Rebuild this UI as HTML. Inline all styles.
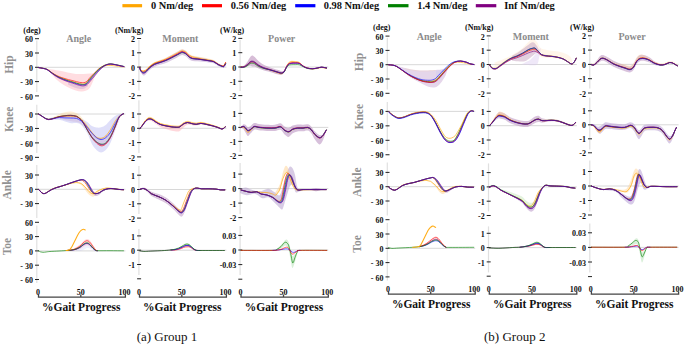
<!DOCTYPE html>
<html><head><meta charset="utf-8"><style>
html,body{margin:0;padding:0;background:#fff;width:685px;height:346px;overflow:hidden}
svg{display:block;font-family:"Liberation Serif", serif}
.leg{font-size:10.4px;font-weight:bold;fill:#111}
.title{font-size:10px;font-weight:bold;fill:#8c8c8c}
.unit{font-size:8px;font-weight:bold;fill:#111}
.tl{font-size:8px;font-weight:bold;fill:#111}
.xl{font-size:11.5px;font-weight:bold;fill:#111}
.cap{font-size:13px;fill:#111}
.row{font-size:11.5px;font-weight:bold;fill:#929292}
.axis{stroke:#e0e0e0;stroke-width:1.2}
.zero{stroke:#d4d4d4;stroke-width:0.9}
.tick{stroke:#222;stroke-width:1}
.xaxis{stroke:#444;stroke-width:1.3;fill:none}
.ln{fill:none;stroke-width:1.1;stroke-linejoin:round;stroke-linecap:round}
</style></head><body>
<svg width="685" height="346" viewBox="0 0 685 346">
<line x1="122.4" y1="5.7" x2="142.1" y2="5.7" stroke="#FFA500" stroke-width="3.2"/>
<text x="150.9" y="9.2" class="leg">0 Nm/deg</text>
<line x1="202" y1="5.7" x2="222" y2="5.7" stroke="#FF0000" stroke-width="3.2"/>
<text x="230.8" y="9.2" class="leg">0.56 Nm/deg</text>
<line x1="295.2" y1="5.7" x2="315.4" y2="5.7" stroke="#0000FF" stroke-width="3.2"/>
<text x="323.7" y="9.2" class="leg">0.98 Nm/deg</text>
<line x1="388" y1="5.7" x2="408.5" y2="5.7" stroke="#008000" stroke-width="3.2"/>
<text x="417.2" y="9.2" class="leg">1.4 Nm/deg</text>
<line x1="475.8" y1="5.7" x2="496.3" y2="5.7" stroke="#800080" stroke-width="3.2"/>
<text x="504.3" y="9.2" class="leg">Inf Nm/deg</text>
<text x="78.8" y="41.6" class="title" text-anchor="middle">Angle</text>
<text x="32" y="32.6" class="unit" text-anchor="middle">(deg)</text>
<line x1="36.8" y1="40.4" x2="36.8" y2="92" class="axis"/>
<line x1="38.5" y1="67.3" x2="125.4" y2="67.3" class="zero"/>
<line x1="35.0" y1="38.70" x2="39.0" y2="38.70" class="tick"/>
<text x="33.0" y="42.30" class="tl" text-anchor="end">60</text>
<line x1="35.0" y1="53.00" x2="39.0" y2="53.00" class="tick"/>
<text x="33.0" y="56.60" class="tl" text-anchor="end">30</text>
<line x1="35.0" y1="67.30" x2="39.0" y2="67.30" class="tick"/>
<text x="33.0" y="70.90" class="tl" text-anchor="end">0</text>
<line x1="35.0" y1="81.60" x2="39.0" y2="81.60" class="tick"/>
<text x="33.0" y="85.20" class="tl" text-anchor="end">- 30</text>
<line x1="35.0" y1="95.90" x2="39.0" y2="95.90" class="tick"/>
<text x="33.0" y="99.50" class="tl" text-anchor="end">- 60</text>
<path d="M46.40,68.80 C48.67,69.13 55.10,69.95 60.00,70.80 C64.90,71.65 70.30,73.45 75.80,73.90 C81.30,74.35 89.72,73.45 93.00,73.50 C96.28,73.55 95.08,74.08 95.50,74.20 L95.50,75.00 C94.65,76.98 92.03,84.27 90.40,86.90 C88.77,89.53 87.27,90.03 85.70,90.80 C84.13,91.57 82.65,91.53 81.00,91.50 C79.35,91.47 77.63,91.13 75.80,90.60 C73.97,90.07 72.00,89.23 70.00,88.30 C68.00,87.37 65.97,86.38 63.80,85.00 C61.63,83.62 59.17,82.00 57.00,80.00 C54.83,78.00 51.83,74.17 50.80,73.00 Z" fill="#FF9EA8" fill-opacity="0.35" stroke="none"/><path d="M68.00,82.50 C69.33,82.88 73.50,84.22 76.00,84.80 C78.50,85.38 81.00,86.05 83.00,86.00 C85.00,85.95 87.17,84.75 88.00,84.50 L88.00,86.00 C87.17,86.50 85.00,88.67 83.00,89.00 C81.00,89.33 78.50,88.75 76.00,88.00 C73.50,87.25 69.33,85.08 68.00,84.50 Z" fill="#B895C8" fill-opacity="0.34" stroke="none"/><path d="M38.60,67.60 C39.40,67.73 41.98,68.08 43.40,68.40 C44.82,68.71 45.87,68.86 47.10,69.49 C48.33,70.11 49.57,71.28 50.80,72.14 C52.03,73.01 53.12,73.84 54.50,74.68 C55.88,75.51 57.55,76.44 59.10,77.15 C60.65,77.86 62.25,78.36 63.80,78.91 C65.35,79.47 66.87,80.01 68.40,80.49 C69.93,80.97 71.65,81.38 73.00,81.77 C74.35,82.17 75.42,82.56 76.50,82.89 C77.58,83.21 78.50,83.50 79.50,83.71 C80.50,83.92 81.58,84.11 82.50,84.14 C83.42,84.16 84.21,84.11 85.00,83.85 C85.79,83.59 86.45,83.30 87.24,82.58 C88.02,81.85 88.52,80.91 89.70,79.52 C90.88,78.13 92.77,75.91 94.30,74.25 C95.83,72.59 97.27,70.90 98.90,69.54 C100.53,68.18 102.43,66.78 104.10,66.09 C105.77,65.40 107.42,65.50 108.90,65.42 C110.38,65.34 111.40,65.47 113.00,65.62 C114.60,65.78 116.68,66.13 118.50,66.34 C120.32,66.55 123.00,66.81 123.90,66.90" fill="none" stroke="#FFA500" stroke-width="0.7" stroke-opacity="0.9" stroke-linejoin="round" stroke-linecap="round"/><path d="M38.60,67.60 C39.40,67.72 41.98,68.04 43.40,68.33 C44.82,68.62 45.87,68.75 47.10,69.34 C48.33,69.94 49.57,71.09 50.80,71.91 C52.03,72.74 53.12,73.53 54.50,74.32 C55.88,75.10 57.55,75.97 59.10,76.62 C60.65,77.28 62.25,77.72 63.80,78.22 C65.35,78.72 66.87,79.19 68.40,79.61 C69.93,80.02 71.65,80.36 73.00,80.70 C74.35,81.04 75.42,81.39 76.50,81.67 C77.58,81.95 78.50,82.21 79.50,82.38 C80.50,82.55 81.58,82.69 82.50,82.69 C83.42,82.69 84.23,82.63 85.00,82.38 C85.77,82.13 86.39,81.88 87.12,81.19 C87.86,80.51 88.25,79.54 89.40,78.27 C90.55,76.99 92.47,75.08 94.00,73.53 C95.53,71.99 96.93,70.32 98.60,68.98 C100.27,67.65 102.30,66.34 104.02,65.53 C105.73,64.71 107.40,64.31 108.90,64.11 C110.40,63.90 111.40,64.08 113.00,64.30 C114.60,64.52 116.68,65.02 118.50,65.40 C120.32,65.78 123.00,66.40 123.90,66.60" fill="none" stroke="#FF0000" stroke-width="0.7" stroke-opacity="0.9" stroke-linejoin="round" stroke-linecap="round"/><path d="M38.60,67.60 C39.40,67.73 41.98,68.06 43.40,68.36 C44.82,68.66 45.87,68.79 47.10,69.40 C48.33,70.02 49.57,71.17 50.80,72.05 C52.03,72.93 53.12,73.82 54.50,74.70 C55.88,75.57 57.55,76.55 59.10,77.30 C60.65,78.06 62.25,78.63 63.80,79.21 C65.35,79.79 66.87,80.31 68.40,80.79 C69.93,81.27 71.65,81.68 73.00,82.08 C74.35,82.47 75.42,82.86 76.50,83.19 C77.58,83.51 78.50,83.80 79.50,84.01 C80.50,84.22 81.58,84.42 82.50,84.44 C83.42,84.46 84.24,84.41 85.00,84.14 C85.76,83.88 86.35,83.58 87.05,82.85 C87.75,82.12 88.08,81.16 89.20,79.77 C90.33,78.37 92.27,76.17 93.80,74.46 C95.33,72.74 96.71,70.94 98.40,69.47 C100.09,68.00 102.21,66.53 103.96,65.61 C105.71,64.69 107.39,64.22 108.90,63.96 C110.41,63.71 111.40,63.89 113.00,64.10 C114.60,64.31 116.68,64.82 118.50,65.20 C120.32,65.58 123.00,66.20 123.90,66.40" fill="none" stroke="#008000" stroke-width="0.7" stroke-opacity="0.9" stroke-linejoin="round" stroke-linecap="round"/><path d="M38.60,67.60 C39.40,67.74 41.98,68.10 43.40,68.43 C44.82,68.75 45.87,68.91 47.10,69.55 C48.33,70.19 49.57,71.37 50.80,72.28 C52.03,73.18 53.12,74.09 54.50,75.00 C55.88,75.90 57.55,76.92 59.10,77.70 C60.65,78.49 62.25,79.10 63.80,79.70 C65.35,80.31 66.87,80.84 68.40,81.33 C69.93,81.83 71.65,82.25 73.00,82.66 C74.35,83.08 75.42,83.48 76.50,83.81 C77.58,84.15 78.50,84.45 79.50,84.67 C80.50,84.89 81.58,85.10 82.50,85.12 C83.42,85.15 84.20,85.10 85.00,84.82 C85.80,84.55 86.48,84.23 87.28,83.49 C88.08,82.74 88.61,81.78 89.80,80.36 C90.99,78.94 92.87,76.71 94.40,74.97 C95.93,73.24 97.38,71.42 99.00,69.92 C100.62,68.43 102.48,66.95 104.13,66.00 C105.78,65.05 107.42,64.48 108.90,64.20 C110.38,63.92 111.40,64.10 113.00,64.30 C114.60,64.50 116.68,65.02 118.50,65.40 C120.32,65.78 123.00,66.40 123.90,66.60" fill="none" stroke="#0000FF" stroke-width="0.7" stroke-opacity="0.9" stroke-linejoin="round" stroke-linecap="round"/><path d="M38.60,67.60 C39.40,67.75 41.98,68.15 43.40,68.50 C44.82,68.85 45.87,69.03 47.10,69.70 C48.33,70.37 49.57,71.57 50.80,72.50 C52.03,73.43 53.12,74.37 54.50,75.30 C55.88,76.23 57.55,77.28 59.10,78.10 C60.65,78.92 62.25,79.57 63.80,80.20 C65.35,80.83 66.87,81.38 68.40,81.90 C69.93,82.42 71.65,82.87 73.00,83.30 C74.35,83.73 75.42,84.15 76.50,84.50 C77.58,84.85 78.50,85.17 79.50,85.40 C80.50,85.63 81.58,85.87 82.50,85.90 C83.42,85.93 84.17,85.88 85.00,85.60 C85.83,85.32 86.60,84.97 87.50,84.20 C88.40,83.43 89.15,82.45 90.40,81.00 C91.65,79.55 93.47,77.30 95.00,75.50 C96.53,73.70 98.05,71.78 99.60,70.20 C101.15,68.62 102.75,67.00 104.30,66.00 C105.85,65.00 107.45,64.48 108.90,64.20 C110.35,63.92 111.40,64.10 113.00,64.30 C114.60,64.50 116.68,65.02 118.50,65.40 C120.32,65.78 123.00,66.40 123.90,66.60" fill="none" stroke="#800080" stroke-width="0.7" stroke-opacity="0.9" stroke-linejoin="round" stroke-linecap="round"/>
<line x1="36.8" y1="104.7" x2="36.8" y2="153" class="axis"/>
<line x1="38.5" y1="114.0" x2="125.4" y2="114.0" class="zero"/>
<line x1="35.0" y1="114.00" x2="39.0" y2="114.00" class="tick"/>
<text x="33.0" y="117.60" class="tl" text-anchor="end">0</text>
<line x1="35.0" y1="128.45" x2="39.0" y2="128.45" class="tick"/>
<text x="33.0" y="132.05" class="tl" text-anchor="end">- 30</text>
<line x1="35.0" y1="142.90" x2="39.0" y2="142.90" class="tick"/>
<text x="33.0" y="146.50" class="tl" text-anchor="end">- 60</text>
<line x1="35.0" y1="157.35" x2="39.0" y2="157.35" class="tick"/>
<text x="33.0" y="160.95" class="tl" text-anchor="end">- 90</text>
<path d="M50.00,118.00 C51.67,117.67 56.67,116.42 60.00,116.00 C63.33,115.58 66.67,115.17 70.00,115.50 C73.33,115.83 77.13,116.92 80.00,118.00 C82.87,119.08 85.22,120.67 87.20,122.00 C89.18,123.33 90.35,125.08 91.90,126.00 C93.45,126.92 94.97,127.28 96.50,127.50 C98.03,127.72 99.57,127.72 101.10,127.30 C102.63,126.88 104.15,126.22 105.70,125.00 C107.25,123.78 108.85,121.50 110.40,120.00 C111.95,118.50 113.40,117.00 115.00,116.00 C116.60,115.00 119.17,114.33 120.00,114.00 L120.00,118.00 C119.17,120.17 116.60,126.83 115.00,131.00 C113.40,135.17 111.95,139.83 110.40,143.00 C108.85,146.17 107.25,148.42 105.70,150.00 C104.15,151.58 102.63,152.50 101.10,152.50 C99.57,152.50 98.03,151.42 96.50,150.00 C94.97,148.58 93.45,146.83 91.90,144.00 C90.35,141.17 89.18,136.33 87.20,133.00 C85.22,129.67 82.87,125.67 80.00,124.00 C77.13,122.33 73.33,123.67 70.00,123.00 C66.67,122.33 63.33,120.50 60.00,120.00 C56.67,119.50 51.67,120.00 50.00,120.00 Z" fill="#B4B4F0" fill-opacity="0.43" stroke="none"/><path d="M60.00,116.50 C61.67,116.42 66.67,115.68 70.00,116.00 C73.33,116.32 77.13,116.73 80.00,118.40 C82.87,120.07 85.22,123.65 87.20,126.00 C89.18,128.35 90.35,130.67 91.90,132.50 C93.45,134.33 94.97,136.08 96.50,137.00 C98.03,137.92 99.57,138.17 101.10,138.00 C102.63,137.83 104.15,137.33 105.70,136.00 C107.25,134.67 108.85,132.33 110.40,130.00 C111.95,127.67 114.23,123.33 115.00,122.00 L115.00,127.00 C114.23,128.78 111.95,134.87 110.40,137.70 C108.85,140.53 107.25,142.65 105.70,144.00 C104.15,145.35 102.63,145.97 101.10,145.80 C99.57,145.63 98.03,144.35 96.50,143.00 C94.97,141.65 93.45,139.87 91.90,137.70 C90.35,135.53 89.18,132.45 87.20,130.00 C85.22,127.55 82.87,124.50 80.00,123.00 C77.13,121.50 73.33,121.67 70.00,121.00 C66.67,120.33 61.67,119.33 60.00,119.00 Z" fill="#C8A0C8" fill-opacity="0.30" stroke="none"/><path d="M38.60,113.50 C39.13,113.83 40.68,114.78 41.80,115.50 C42.92,116.22 44.15,117.23 45.30,117.80 C46.45,118.37 47.35,119.01 48.70,118.90 C50.05,118.79 51.67,117.91 53.40,117.14 C55.13,116.36 57.18,115.05 59.10,114.25 C61.02,113.45 62.97,112.82 64.90,112.35 C66.83,111.88 68.77,111.31 70.70,111.44 C72.63,111.57 74.95,112.42 76.50,113.10 C78.05,113.78 78.83,114.40 80.00,115.50 C81.17,116.60 82.30,118.18 83.50,119.70 C84.70,121.22 85.80,122.66 87.20,124.64 C88.60,126.62 90.35,129.60 91.90,131.56 C93.45,133.53 94.97,135.40 96.50,136.42 C98.03,137.43 99.57,137.82 101.10,137.67 C102.63,137.52 104.15,136.91 105.70,135.52 C107.25,134.14 108.85,131.75 110.40,129.38 C111.95,127.01 113.73,123.32 115.00,121.33 C116.27,119.34 117.08,118.49 118.00,117.43 C118.92,116.38 119.58,115.61 120.50,115.00 C121.42,114.39 123.00,114.00 123.50,113.80 L123.50,113.80 C123.00,114.00 121.42,114.38 120.50,115.00 C119.58,115.62 118.92,116.42 118.00,117.50 C117.08,118.58 116.27,119.47 115.00,121.50 C113.73,123.53 111.95,127.28 110.40,129.70 C108.85,132.12 107.25,134.57 105.70,136.00 C104.15,137.43 102.63,138.10 101.10,138.30 C99.57,138.50 98.03,138.17 96.50,137.20 C94.97,136.23 93.45,134.33 91.90,132.50 C90.35,130.67 88.60,127.95 87.20,126.20 C85.80,124.45 84.70,123.28 83.50,122.00 C82.30,120.72 81.17,119.37 80.00,118.50 C78.83,117.63 78.05,117.17 76.50,116.80 C74.95,116.43 72.63,116.40 70.70,116.30 C68.77,116.20 66.83,116.12 64.90,116.20 C62.97,116.28 61.02,116.43 59.10,116.80 C57.18,117.17 55.13,117.97 53.40,118.40 C51.67,118.83 50.05,119.42 48.70,119.40 C47.35,119.38 46.45,118.87 45.30,118.30 C44.15,117.73 42.92,116.72 41.80,116.00 C40.68,115.28 39.13,114.33 38.60,114.00 Z" fill="#FFCF8A" fill-opacity="0.34" stroke="none"/><path d="M38.60,114.00 C39.13,114.33 40.68,115.28 41.80,116.00 C42.92,116.72 44.15,117.73 45.30,118.30 C46.45,118.87 47.35,119.38 48.70,119.40 C50.05,119.42 51.67,118.83 53.40,118.40 C55.13,117.97 57.18,117.17 59.10,116.80 C61.02,116.43 62.97,116.28 64.90,116.20 C66.83,116.12 68.77,116.20 70.70,116.30 C72.63,116.40 74.95,116.43 76.50,116.80 C78.05,117.17 78.83,117.63 80.00,118.50 C81.17,119.37 82.30,120.72 83.50,122.00 C84.70,123.28 85.80,124.45 87.20,126.20 C88.60,127.95 90.35,130.67 91.90,132.50 C93.45,134.33 94.97,136.23 96.50,137.20 C98.03,138.17 99.57,138.50 101.10,138.30 C102.63,138.10 104.15,137.43 105.70,136.00 C107.25,134.57 108.85,132.12 110.40,129.70 C111.95,127.28 113.73,123.53 115.00,121.50 C116.27,119.47 117.08,118.58 118.00,117.50 C118.92,116.42 119.58,115.62 120.50,115.00 C121.42,114.38 123.00,114.00 123.50,113.80" fill="none" stroke="#FFA500" stroke-width="0.7" stroke-opacity="0.9" stroke-linejoin="round" stroke-linecap="round"/><path d="M38.60,114.00 C39.13,114.33 40.68,115.28 41.80,116.00 C42.92,116.72 44.15,117.73 45.30,118.30 C46.45,118.87 47.35,119.38 48.70,119.40 C50.05,119.42 51.67,118.87 53.40,118.40 C55.13,117.93 57.18,117.05 59.10,116.60 C61.02,116.15 62.97,115.92 64.90,115.70 C66.83,115.48 68.77,115.22 70.70,115.30 C72.63,115.38 74.95,115.62 76.50,116.20 C78.05,116.78 78.98,117.90 80.00,118.80 C81.02,119.70 81.40,119.78 82.60,121.60 C83.80,123.42 85.65,127.02 87.20,129.70 C88.75,132.38 90.35,135.48 91.90,137.70 C93.45,139.92 94.97,141.65 96.50,143.00 C98.03,144.35 99.57,145.62 101.10,145.80 C102.63,145.98 104.15,145.45 105.70,144.10 C107.25,142.75 108.85,140.50 110.40,137.70 C111.95,134.90 113.73,130.33 115.00,127.30 C116.27,124.27 117.08,121.45 118.00,119.50 C118.92,117.55 119.58,116.55 120.50,115.60 C121.42,114.65 123.00,114.10 123.50,113.80" fill="none" stroke="#FF0000" stroke-width="0.7" stroke-opacity="0.9" stroke-linejoin="round" stroke-linecap="round"/><path d="M38.60,114.00 C39.13,114.33 40.68,115.28 41.80,116.00 C42.92,116.72 44.15,117.73 45.30,118.30 C46.45,118.87 47.35,119.38 48.70,119.40 C50.05,119.42 51.67,118.87 53.40,118.40 C55.13,117.93 57.18,117.05 59.10,116.60 C61.02,116.15 62.97,115.92 64.90,115.70 C66.83,115.48 68.77,115.22 70.70,115.30 C72.63,115.38 74.97,115.64 76.50,116.20 C78.03,116.76 78.92,117.81 79.90,118.65 C80.88,119.50 81.23,119.53 82.37,121.26 C83.51,122.99 85.23,126.45 86.74,129.02 C88.25,131.59 89.82,134.57 91.40,136.67 C92.99,138.77 94.64,140.39 96.25,141.63 C97.87,142.87 99.56,143.88 101.10,144.11 C102.63,144.35 104.00,144.18 105.49,143.03 C106.98,141.88 108.46,139.88 110.02,137.22 C111.57,134.56 113.48,130.02 114.80,127.05 C116.12,124.08 116.97,121.31 117.92,119.40 C118.87,117.49 119.57,116.53 120.50,115.60 C121.43,114.67 123.00,114.10 123.50,113.80" fill="none" stroke="#008000" stroke-width="0.7" stroke-opacity="0.9" stroke-linejoin="round" stroke-linecap="round"/><path d="M38.60,114.00 C39.13,114.33 40.68,115.28 41.80,116.00 C42.92,116.72 44.15,117.73 45.30,118.30 C46.45,118.87 47.35,119.35 48.70,119.40 C50.05,119.45 51.67,118.90 53.40,118.60 C55.13,118.30 57.18,117.72 59.10,117.60 C61.02,117.48 62.97,117.83 64.90,117.90 C66.83,117.97 68.77,117.92 70.70,118.00 C72.63,118.08 74.95,118.03 76.50,118.40 C78.05,118.77 78.83,119.43 80.00,120.20 C81.17,120.97 82.30,121.82 83.50,123.00 C84.70,124.18 85.80,125.62 87.20,127.30 C88.60,128.98 90.35,131.37 91.90,133.10 C93.45,134.83 94.97,136.63 96.50,137.70 C98.03,138.77 99.57,139.50 101.10,139.50 C102.63,139.50 104.15,138.87 105.70,137.70 C107.25,136.53 108.85,134.80 110.40,132.50 C111.95,130.20 113.73,126.23 115.00,123.90 C116.27,121.57 117.08,119.95 118.00,118.50 C118.92,117.05 119.58,115.98 120.50,115.20 C121.42,114.42 123.00,114.03 123.50,113.80" fill="none" stroke="#0000FF" stroke-width="0.7" stroke-opacity="0.9" stroke-linejoin="round" stroke-linecap="round"/><path d="M38.60,114.30 C39.13,114.63 40.68,115.58 41.80,116.30 C42.92,117.02 44.15,118.03 45.30,118.60 C46.45,119.17 47.35,119.68 48.70,119.70 C50.05,119.72 51.67,119.17 53.40,118.70 C55.13,118.23 57.18,117.35 59.10,116.90 C61.02,116.45 62.97,116.22 64.90,116.00 C66.83,115.78 68.77,115.52 70.70,115.60 C72.63,115.68 74.95,115.94 76.50,116.50 C78.05,117.06 78.98,118.12 80.00,118.98 C81.02,119.83 81.40,119.88 82.60,121.62 C83.80,123.36 85.65,126.85 87.20,129.44 C88.75,132.03 90.35,135.03 91.90,137.15 C93.45,139.28 94.97,140.91 96.50,142.17 C98.03,143.43 99.57,144.50 101.10,144.71 C102.63,144.92 104.15,144.63 105.70,143.42 C107.25,142.20 108.85,140.12 110.40,137.41 C111.95,134.70 113.73,130.15 115.00,127.15 C116.27,124.15 117.08,121.36 118.00,119.44 C118.92,117.52 119.58,116.54 120.50,115.60 C121.42,114.66 123.00,114.10 123.50,113.80" fill="none" stroke="#800080" stroke-width="0.7" stroke-opacity="0.9" stroke-linejoin="round" stroke-linecap="round"/>
<line x1="36.8" y1="165" x2="36.8" y2="218" class="axis"/>
<line x1="38.5" y1="189.3" x2="125.4" y2="189.3" class="zero"/>
<line x1="35.0" y1="175.00" x2="39.0" y2="175.00" class="tick"/>
<text x="33.0" y="178.60" class="tl" text-anchor="end">30</text>
<line x1="35.0" y1="189.30" x2="39.0" y2="189.30" class="tick"/>
<text x="33.0" y="192.90" class="tl" text-anchor="end">0</text>
<line x1="35.0" y1="203.60" x2="39.0" y2="203.60" class="tick"/>
<text x="33.0" y="207.20" class="tl" text-anchor="end">- 30</text>
<path d="M38.50,189.40 C38.75,189.65 39.45,190.33 40.00,190.90 C40.55,191.47 41.20,192.35 41.80,192.80 C42.40,193.25 43.00,193.52 43.60,193.60 C44.20,193.68 44.75,193.55 45.40,193.30 C46.05,193.05 46.53,192.68 47.50,192.10 C48.47,191.52 49.75,190.53 51.20,189.80 C52.65,189.07 54.52,188.30 56.20,187.70 C57.88,187.10 59.60,186.73 61.30,186.20 C63.00,185.67 64.72,185.08 66.40,184.50 C68.08,183.92 69.72,183.28 71.40,182.70 C73.08,182.12 74.90,181.48 76.50,181.00 C78.10,180.52 79.73,179.98 81.00,179.80 C82.27,179.62 83.08,179.48 84.10,179.90 C85.12,180.32 86.10,181.09 87.10,182.31 C88.10,183.53 89.08,185.49 90.10,187.21 C91.12,188.93 92.27,191.40 93.20,192.62 C94.13,193.84 94.68,194.51 95.70,194.56 C96.72,194.61 98.03,193.67 99.30,192.94 C100.57,192.21 101.78,190.91 103.30,190.20 C104.82,189.49 106.72,188.95 108.40,188.70 C110.08,188.45 111.72,188.58 113.40,188.70 C115.08,188.82 116.82,189.23 118.50,189.40 C120.18,189.57 122.67,189.65 123.50,189.70 L123.50,190.20 C122.67,190.15 120.18,190.07 118.50,189.90 C116.82,189.73 115.08,189.32 113.40,189.20 C111.72,189.08 110.08,188.88 108.40,189.20 C106.72,189.52 104.82,190.21 103.30,191.14 C101.78,192.06 100.57,193.94 99.30,194.77 C98.03,195.59 96.72,196.17 95.70,196.09 C94.68,196.01 94.13,195.56 93.20,194.29 C92.27,193.02 91.12,190.34 90.10,188.47 C89.08,186.61 88.10,184.47 87.10,183.12 C86.10,181.78 85.12,180.87 84.10,180.40 C83.08,179.93 82.27,180.12 81.00,180.30 C79.73,180.48 78.10,181.02 76.50,181.50 C74.90,181.98 73.08,182.62 71.40,183.20 C69.72,183.78 68.08,184.42 66.40,185.00 C64.72,185.58 63.00,186.17 61.30,186.70 C59.60,187.23 57.88,187.60 56.20,188.20 C54.52,188.80 52.65,189.57 51.20,190.30 C49.75,191.03 48.47,192.02 47.50,192.60 C46.53,193.18 46.05,193.55 45.40,193.80 C44.75,194.05 44.20,194.18 43.60,194.10 C43.00,194.02 42.40,193.75 41.80,193.30 C41.20,192.85 40.55,191.97 40.00,191.40 C39.45,190.83 38.75,190.15 38.50,189.90 Z" fill="#B895C8" fill-opacity="0.54" stroke="none"/><path d="M38.50,188.90 C38.75,189.15 39.45,189.83 40.00,190.40 C40.55,190.97 41.20,191.85 41.80,192.30 C42.40,192.75 43.00,193.03 43.60,193.10 C44.20,193.17 44.75,192.98 45.40,192.70 C46.05,192.42 46.53,192.02 47.50,191.40 C48.47,190.78 49.75,189.73 51.20,189.00 C52.65,188.27 54.52,187.55 56.20,187.00 C57.88,186.45 59.60,186.17 61.30,185.70 C63.00,185.23 64.72,184.70 66.40,184.20 C68.08,183.70 69.72,183.05 71.40,182.70 C73.08,182.35 74.98,182.09 76.50,182.10 C78.02,182.11 79.42,182.40 80.50,182.78 C81.58,183.15 82.07,183.58 83.00,184.35 C83.93,185.12 84.92,186.19 86.10,187.39 C87.28,188.60 88.83,190.71 90.10,191.60 C91.37,192.50 92.35,193.03 93.70,192.78 C95.05,192.54 96.60,190.87 98.20,190.11 C99.80,189.35 101.77,188.63 103.30,188.20 C104.83,187.76 105.78,187.52 107.40,187.50 C109.02,187.48 111.15,187.88 113.00,188.10 C114.85,188.32 116.75,188.62 118.50,188.80 C120.25,188.98 122.67,189.13 123.50,189.20 L123.50,190.70 C122.67,190.63 120.25,190.48 118.50,190.30 C116.75,190.12 114.85,189.82 113.00,189.60 C111.15,189.38 109.02,188.98 107.40,189.00 C105.78,189.02 104.83,189.16 103.30,189.70 C101.77,190.24 99.80,191.10 98.20,192.21 C96.60,193.33 95.05,195.84 93.70,196.40 C92.35,196.96 91.37,196.47 90.10,195.60 C88.83,194.73 87.28,192.62 86.10,191.20 C84.92,189.78 83.93,188.17 83.00,187.06 C82.07,185.96 81.58,185.24 80.50,184.58 C79.42,183.92 78.02,183.25 76.50,183.10 C74.98,182.95 73.08,183.35 71.40,183.70 C69.72,184.05 68.08,184.70 66.40,185.20 C64.72,185.70 63.00,186.23 61.30,186.70 C59.60,187.17 57.88,187.45 56.20,188.00 C54.52,188.55 52.65,189.27 51.20,190.00 C49.75,190.73 48.47,191.78 47.50,192.40 C46.53,193.02 46.05,193.42 45.40,193.70 C44.75,193.98 44.20,194.17 43.60,194.10 C43.00,194.03 42.40,193.75 41.80,193.30 C41.20,192.85 40.55,191.97 40.00,191.40 C39.45,190.83 38.75,190.15 38.50,189.90 Z" fill="#FFCF8A" fill-opacity="0.41" stroke="none"/><path d="M38.50,189.40 C38.75,189.65 39.45,190.33 40.00,190.90 C40.55,191.47 41.20,192.35 41.80,192.80 C42.40,193.25 43.00,193.53 43.60,193.60 C44.20,193.67 44.75,193.48 45.40,193.20 C46.05,192.92 46.53,192.52 47.50,191.90 C48.47,191.28 49.75,190.23 51.20,189.50 C52.65,188.77 54.52,188.05 56.20,187.50 C57.88,186.95 59.60,186.67 61.30,186.20 C63.00,185.73 64.72,185.20 66.40,184.70 C68.08,184.20 69.72,183.55 71.40,183.20 C73.08,182.85 74.98,182.58 76.50,182.60 C78.02,182.62 79.42,182.90 80.50,183.30 C81.58,183.70 82.07,184.18 83.00,185.00 C83.93,185.82 84.92,186.93 86.10,188.20 C87.28,189.47 88.83,191.70 90.10,192.60 C91.37,193.50 92.35,193.92 93.70,193.60 C95.05,193.28 96.60,191.52 98.20,190.70 C99.80,189.88 101.77,189.15 103.30,188.70 C104.83,188.25 105.78,188.02 107.40,188.00 C109.02,187.98 111.15,188.38 113.00,188.60 C114.85,188.82 116.75,189.12 118.50,189.30 C120.25,189.48 122.67,189.63 123.50,189.70" fill="none" stroke="#FFA500" stroke-width="0.7" stroke-opacity="0.9" stroke-linejoin="round" stroke-linecap="round"/><path d="M38.50,189.40 C38.75,189.65 39.45,190.33 40.00,190.90 C40.55,191.47 41.20,192.35 41.80,192.80 C42.40,193.25 43.00,193.52 43.60,193.60 C44.20,193.68 44.75,193.55 45.40,193.30 C46.05,193.05 46.53,192.68 47.50,192.10 C48.47,191.52 49.75,190.53 51.20,189.80 C52.65,189.07 54.52,188.30 56.20,187.70 C57.88,187.10 59.60,186.73 61.30,186.20 C63.00,185.67 64.72,185.08 66.40,184.50 C68.08,183.92 69.72,183.28 71.40,182.70 C73.08,182.12 74.96,181.46 76.50,181.00 C78.04,180.54 79.63,180.03 80.67,179.95 C81.71,179.87 81.99,180.05 82.73,180.50 C83.47,180.94 84.21,181.53 85.10,182.62 C85.99,183.71 87.02,185.50 88.10,187.05 C89.18,188.60 90.44,190.82 91.56,191.93 C92.68,193.04 93.54,193.55 94.81,193.70 C96.08,193.85 97.77,193.38 99.18,192.80 C100.60,192.22 101.76,190.88 103.30,190.20 C104.84,189.52 106.72,188.95 108.40,188.70 C110.08,188.45 111.72,188.58 113.40,188.70 C115.08,188.82 116.82,189.23 118.50,189.40 C120.18,189.57 122.67,189.65 123.50,189.70" fill="none" stroke="#FF0000" stroke-width="0.7" stroke-opacity="0.9" stroke-linejoin="round" stroke-linecap="round"/><path d="M38.50,189.40 C38.75,189.65 39.45,190.33 40.00,190.90 C40.55,191.47 41.20,192.35 41.80,192.80 C42.40,193.25 43.00,193.52 43.60,193.60 C44.20,193.68 44.75,193.55 45.40,193.30 C46.05,193.05 46.53,192.68 47.50,192.10 C48.47,191.52 49.75,190.53 51.20,189.80 C52.65,189.07 54.52,188.30 56.20,187.70 C57.88,187.10 59.60,186.73 61.30,186.20 C63.00,185.67 64.72,185.08 66.40,184.50 C68.08,183.92 69.72,183.28 71.40,182.70 C73.08,182.12 74.93,181.48 76.50,181.00 C78.07,180.52 79.68,179.98 80.83,179.80 C81.98,179.62 82.55,179.52 83.40,179.90 C84.24,180.28 84.98,180.97 85.90,182.10 C86.82,183.23 87.88,185.08 88.90,186.70 C89.92,188.32 91.01,190.63 92.05,191.80 C93.09,192.97 93.94,193.53 95.15,193.70 C96.36,193.87 97.94,193.38 99.30,192.80 C100.66,192.22 101.78,190.88 103.30,190.20 C104.82,189.52 106.72,188.95 108.40,188.70 C110.08,188.45 111.72,188.58 113.40,188.70 C115.08,188.82 116.82,189.23 118.50,189.40 C120.18,189.57 122.67,189.65 123.50,189.70" fill="none" stroke="#008000" stroke-width="0.7" stroke-opacity="0.9" stroke-linejoin="round" stroke-linecap="round"/><path d="M38.50,189.40 C38.75,189.65 39.45,190.33 40.00,190.90 C40.55,191.47 41.20,192.35 41.80,192.80 C42.40,193.25 43.00,193.52 43.60,193.60 C44.20,193.68 44.75,193.55 45.40,193.30 C46.05,193.05 46.53,192.68 47.50,192.10 C48.47,191.52 49.75,190.53 51.20,189.80 C52.65,189.07 54.52,188.30 56.20,187.70 C57.88,187.10 59.60,186.73 61.30,186.20 C63.00,185.67 64.72,185.08 66.40,184.50 C68.08,183.92 69.72,183.28 71.40,182.70 C73.08,182.12 74.91,181.48 76.50,181.00 C78.09,180.52 79.71,179.98 80.91,179.80 C82.12,179.62 82.82,179.52 83.75,179.90 C84.68,180.28 85.54,180.97 86.50,182.10 C87.46,183.23 88.48,185.08 89.50,186.70 C90.52,188.32 91.64,190.63 92.62,191.80 C93.61,192.97 94.31,193.53 95.42,193.70 C96.54,193.87 97.99,193.38 99.30,192.80 C100.61,192.22 101.78,190.88 103.30,190.20 C104.82,189.52 106.72,188.95 108.40,188.70 C110.08,188.45 111.72,188.58 113.40,188.70 C115.08,188.82 116.82,189.23 118.50,189.40 C120.18,189.57 122.67,189.65 123.50,189.70" fill="none" stroke="#0000FF" stroke-width="0.7" stroke-opacity="0.9" stroke-linejoin="round" stroke-linecap="round"/><path d="M38.50,189.40 C38.75,189.65 39.45,190.33 40.00,190.90 C40.55,191.47 41.20,192.35 41.80,192.80 C42.40,193.25 43.00,193.52 43.60,193.60 C44.20,193.68 44.75,193.55 45.40,193.30 C46.05,193.05 46.53,192.68 47.50,192.10 C48.47,191.52 49.75,190.53 51.20,189.80 C52.65,189.07 54.52,188.30 56.20,187.70 C57.88,187.10 59.60,186.73 61.30,186.20 C63.00,185.67 64.72,185.08 66.40,184.50 C68.08,183.92 69.72,183.28 71.40,182.70 C73.08,182.12 74.90,181.48 76.50,181.00 C78.10,180.52 79.73,179.98 81.00,179.80 C82.27,179.62 83.08,179.52 84.10,179.90 C85.12,180.28 86.10,180.97 87.10,182.10 C88.10,183.23 89.08,185.08 90.10,186.70 C91.12,188.32 92.27,190.63 93.20,191.80 C94.13,192.97 94.68,193.53 95.70,193.70 C96.72,193.87 98.03,193.38 99.30,192.80 C100.57,192.22 101.78,190.88 103.30,190.20 C104.82,189.52 106.72,188.95 108.40,188.70 C110.08,188.45 111.72,188.58 113.40,188.70 C115.08,188.82 116.82,189.23 118.50,189.40 C120.18,189.57 122.67,189.65 123.50,189.70" fill="none" stroke="#800080" stroke-width="0.7" stroke-opacity="0.9" stroke-linejoin="round" stroke-linecap="round"/>
<line x1="36.8" y1="225.6" x2="36.8" y2="283" class="axis"/>
<line x1="38.5" y1="250.9" x2="125.4" y2="250.9" class="zero"/>
<line x1="35.0" y1="222.30" x2="39.0" y2="222.30" class="tick"/>
<text x="33.0" y="225.90" class="tl" text-anchor="end">60</text>
<line x1="35.0" y1="236.60" x2="39.0" y2="236.60" class="tick"/>
<text x="33.0" y="240.20" class="tl" text-anchor="end">30</text>
<line x1="35.0" y1="250.90" x2="39.0" y2="250.90" class="tick"/>
<text x="33.0" y="254.50" class="tl" text-anchor="end">0</text>
<line x1="35.0" y1="265.20" x2="39.0" y2="265.20" class="tick"/>
<text x="33.0" y="268.80" class="tl" text-anchor="end">- 30</text>
<line x1="35.0" y1="279.50" x2="39.0" y2="279.50" class="tick"/>
<text x="33.0" y="283.10" class="tl" text-anchor="end">- 60</text>
<path d="M74.00,248.50 C75.00,247.83 78.33,245.83 80.00,244.50 C81.67,243.17 82.83,241.42 84.00,240.50 C85.17,239.58 86.00,239.00 87.00,239.00 C88.00,239.00 88.83,239.25 90.00,240.50 C91.17,241.75 93.00,244.92 94.00,246.50 C95.00,248.08 95.67,249.42 96.00,250.00 L96.00,250.50 C95.33,250.08 93.33,248.83 92.00,248.00 C90.67,247.17 89.17,245.83 88.00,245.50 C86.83,245.17 86.33,245.42 85.00,246.00 C83.67,246.58 81.83,248.25 80.00,249.00 C78.17,249.75 75.00,250.25 74.00,250.50 Z" fill="#FF9EA8" fill-opacity="0.34" stroke="none"/><path d="M76.00,249.00 C77.00,248.50 80.17,247.00 82.00,246.00 C83.83,245.00 85.50,243.08 87.00,243.00 C88.50,242.92 89.67,244.33 91.00,245.50 C92.33,246.67 94.33,249.25 95.00,250.00 L95.00,251.00 C94.33,250.67 92.33,249.50 91.00,249.00 C89.67,248.50 88.50,247.75 87.00,248.00 C85.50,248.25 83.83,250.00 82.00,250.50 C80.17,251.00 77.00,250.92 76.00,251.00 Z" fill="#A9A9FF" fill-opacity="0.16" stroke="none"/><path d="M68.00,250.40 C68.67,250.35 70.67,250.30 72.00,250.10 C73.33,249.90 74.67,249.67 76.00,249.20 C77.33,248.73 78.83,248.01 80.00,247.30 C81.17,246.59 82.08,245.56 83.00,244.93 C83.92,244.30 84.83,243.79 85.50,243.54 C86.17,243.28 86.50,243.37 87.00,243.40 C87.50,243.43 87.92,243.39 88.50,243.72 C89.08,244.06 89.75,244.66 90.50,245.43 C91.25,246.19 92.15,247.47 93.00,248.30 C93.85,249.13 94.85,250.00 95.60,250.41 C96.35,250.81 97.18,250.65 97.50,250.70" fill="none" stroke="#0000FF" stroke-width="0.7" stroke-opacity="0.9" stroke-linejoin="round" stroke-linecap="round"/><path d="M68.00,250.40 C68.67,250.35 70.67,250.31 72.00,250.12 C73.33,249.93 74.67,249.72 76.00,249.27 C77.33,248.81 78.83,248.11 80.00,247.41 C81.17,246.71 82.08,245.69 83.00,245.07 C83.92,244.46 84.83,243.96 85.50,243.71 C86.17,243.46 86.50,243.55 87.00,243.59 C87.50,243.62 87.92,243.58 88.50,243.91 C89.08,244.24 89.75,244.82 90.50,245.56 C91.25,246.31 92.15,247.57 93.00,248.38 C93.85,249.18 94.85,250.03 95.60,250.41 C96.35,250.80 97.18,250.65 97.50,250.70" fill="none" stroke="#800080" stroke-width="0.7" stroke-opacity="0.9" stroke-linejoin="round" stroke-linecap="round"/><path d="M68.00,250.30 C68.67,250.22 70.67,250.10 72.00,249.80 C73.33,249.50 74.67,249.13 76.00,248.50 C77.33,247.87 78.83,246.92 80.00,246.00 C81.17,245.08 82.08,243.80 83.00,243.00 C83.92,242.20 84.83,241.57 85.50,241.20 C86.17,240.83 86.50,240.80 87.00,240.80 C87.50,240.80 87.92,240.83 88.50,241.20 C89.08,241.57 89.75,242.12 90.50,243.00 C91.25,243.88 92.15,245.37 93.00,246.50 C93.85,247.63 94.93,249.12 95.60,249.80 C96.27,250.48 96.77,250.47 97.00,250.60" fill="none" stroke="#FF0000" stroke-width="0.7" stroke-opacity="0.9" stroke-linejoin="round" stroke-linecap="round"/><path d="M38.50,250.80 C38.85,250.98 39.85,251.65 40.60,251.90 C41.35,252.15 42.10,252.28 43.00,252.30 C43.90,252.32 44.85,252.13 46.00,252.00 C47.15,251.87 47.72,251.67 49.90,251.50 C52.08,251.33 56.08,251.18 59.10,251.00 C62.12,250.82 65.85,250.57 68.00,250.40 C70.15,250.23 70.67,250.23 72.00,250.00 C73.33,249.77 74.67,249.50 76.00,249.00 C77.33,248.50 78.83,247.75 80.00,247.00 C81.17,246.25 82.08,245.17 83.00,244.50 C83.92,243.83 84.83,243.28 85.50,243.00 C86.17,242.72 86.50,242.77 87.00,242.80 C87.50,242.83 87.92,242.83 88.50,243.20 C89.08,243.57 89.75,244.20 90.50,245.00 C91.25,245.80 92.15,247.12 93.00,248.00 C93.85,248.88 94.85,249.85 95.60,250.30 C96.35,250.75 95.10,250.63 97.50,250.70 C99.90,250.77 105.67,250.68 110.00,250.70 C114.33,250.72 121.25,250.78 123.50,250.80" fill="none" stroke="#008000" stroke-width="0.7" stroke-opacity="0.9" stroke-linejoin="round" stroke-linecap="round"/><path d="M66.00,250.50 C66.40,250.43 67.73,250.30 68.40,250.10 C69.07,249.90 69.40,249.90 70.00,249.30 C70.60,248.70 71.25,247.80 72.00,246.50 C72.75,245.20 73.57,243.37 74.50,241.50 C75.43,239.63 76.68,236.97 77.60,235.30 C78.52,233.63 79.27,232.42 80.00,231.50 C80.73,230.58 81.42,230.17 82.00,229.80 C82.58,229.43 82.97,229.27 83.50,229.30 C84.03,229.33 84.92,229.88 85.20,230.00" fill="none" stroke="#FFA500" stroke-width="1.1" stroke-opacity="0.9" stroke-linejoin="round" stroke-linecap="round"/>
<path d="M38.5,294.59999999999997 V297.2 H125.4 V294.59999999999997 M80.82,297.2 V294.59999999999997" class="xaxis"/>
<text x="37.90" y="295.1" class="tl" text-anchor="middle">0</text>
<text x="80.82" y="295.1" class="tl" text-anchor="middle">50</text>
<text x="124.40" y="295.1" class="tl" text-anchor="middle">100</text>
<text x="81.25" y="311.0" class="xl" text-anchor="middle">%Gait Progress</text>
<text x="180.4" y="41.6" class="title" text-anchor="middle">Moment</text>
<text x="129.2" y="32.6" class="unit" text-anchor="middle">(Nm/kg)</text>
<line x1="138.9" y1="40" x2="138.9" y2="90.6" class="axis"/>
<line x1="139.5" y1="67.1" x2="226.4" y2="67.1" class="zero"/>
<line x1="137.1" y1="38.50" x2="141.1" y2="38.50" class="tick"/>
<text x="135.1" y="42.10" class="tl" text-anchor="end">2</text>
<line x1="137.1" y1="52.80" x2="141.1" y2="52.80" class="tick"/>
<text x="135.1" y="56.40" class="tl" text-anchor="end">1</text>
<line x1="137.1" y1="67.10" x2="141.1" y2="67.10" class="tick"/>
<text x="135.1" y="70.70" class="tl" text-anchor="end">0</text>
<line x1="137.1" y1="81.40" x2="141.1" y2="81.40" class="tick"/>
<text x="135.1" y="85.00" class="tl" text-anchor="end">-1</text>
<line x1="137.1" y1="95.70" x2="141.1" y2="95.70" class="tick"/>
<text x="135.1" y="99.30" class="tl" text-anchor="end">-2</text>
<path d="M139.60,67.40 C139.75,67.89 140.10,69.57 140.50,70.35 C140.90,71.14 141.52,71.74 142.00,72.11 C142.48,72.48 142.90,72.63 143.40,72.58 C143.90,72.53 144.52,72.16 145.00,71.82 C145.48,71.47 145.52,71.43 146.30,70.51 C147.08,69.58 148.35,67.56 149.70,66.25 C151.05,64.94 152.67,63.62 154.40,62.66 C156.13,61.70 158.18,61.23 160.10,60.48 C162.02,59.74 163.97,59.10 165.90,58.20 C167.83,57.31 169.77,56.18 171.70,55.12 C173.63,54.06 176.03,52.69 177.50,51.84 C178.97,50.99 179.67,50.45 180.50,50.05 C181.33,49.64 181.62,49.27 182.50,49.42 C183.38,49.58 184.67,50.12 185.80,50.97 C186.93,51.82 188.15,53.64 189.30,54.52 C190.45,55.41 191.35,55.87 192.70,56.28 C194.05,56.69 195.67,56.69 197.40,56.98 C199.13,57.28 201.18,57.66 203.10,58.02 C205.02,58.38 207.15,58.77 208.90,59.14 C210.65,59.51 212.05,59.53 213.60,60.22 C215.15,60.92 216.67,62.42 218.20,63.30 C219.73,64.18 221.80,65.17 222.80,65.48 C223.80,65.78 223.73,65.55 224.20,65.13 C224.67,64.72 225.37,63.34 225.60,62.98 L225.60,65.02 C225.37,65.39 224.67,66.82 224.20,67.27 C223.73,67.72 223.80,67.95 222.80,67.72 C221.80,67.49 219.73,66.66 218.20,65.90 C216.67,65.14 215.15,63.75 213.60,63.18 C212.05,62.60 210.65,62.69 208.90,62.46 C207.15,62.22 205.02,61.99 203.10,61.78 C201.18,61.57 199.13,61.36 197.40,61.22 C195.67,61.07 194.05,61.21 192.70,60.92 C191.35,60.63 190.45,60.26 189.30,59.48 C188.15,58.69 186.93,56.98 185.80,56.23 C184.67,55.48 183.38,55.09 182.50,54.98 C181.62,54.87 181.33,55.19 180.50,55.56 C179.67,55.93 178.97,56.42 177.50,57.19 C176.03,57.95 173.63,59.19 171.70,60.14 C169.77,61.09 167.83,62.11 165.90,62.90 C163.97,63.68 162.02,64.22 160.10,64.85 C158.18,65.49 156.13,65.85 154.40,66.71 C152.67,67.57 151.05,68.83 149.70,70.01 C148.35,71.19 147.08,72.98 146.30,73.81 C145.52,74.63 145.48,74.66 145.00,74.94 C144.52,75.22 143.90,75.59 143.40,75.49 C142.90,75.39 142.48,74.97 142.00,74.32 C141.52,73.68 140.90,72.65 140.50,71.61 C140.10,70.57 139.75,68.67 139.60,68.08 Z" fill="#B895C8" fill-opacity="0.51" stroke="none"/><path d="M139.60,66.89 C139.75,67.38 140.10,69.05 140.50,69.83 C140.90,70.60 141.52,71.19 142.00,71.55 C142.48,71.92 142.90,72.06 143.40,72.00 C143.90,71.94 144.52,71.56 145.00,71.21 C145.48,70.85 145.52,70.82 146.30,69.87 C147.08,68.93 148.35,66.86 149.70,65.55 C151.05,64.25 152.67,62.97 154.40,62.03 C156.13,61.10 158.18,60.66 160.10,59.94 C162.02,59.23 163.97,58.62 165.90,57.75 C167.83,56.89 169.77,55.79 171.70,54.76 C173.63,53.73 176.03,52.39 177.50,51.57 C178.97,50.75 179.67,50.22 180.50,49.82 C181.33,49.43 181.62,49.07 182.50,49.21 C183.38,49.35 184.67,49.84 185.80,50.66 C186.93,51.48 188.15,53.26 189.30,54.11 C190.45,54.96 191.35,55.38 192.70,55.76 C194.05,56.15 195.67,56.13 197.40,56.43 C199.13,56.72 201.18,57.15 203.10,57.53 C205.02,57.92 207.15,58.32 208.90,58.74 C210.65,59.16 212.05,59.27 213.60,60.04 C215.15,60.81 216.67,62.41 218.20,63.37 C219.73,64.33 221.80,65.44 222.80,65.80 C223.80,66.16 223.73,65.92 224.20,65.53 C224.67,65.14 225.37,63.81 225.60,63.46 L225.60,64.00 C225.37,64.37 224.67,65.77 224.20,66.20 C223.73,66.63 223.80,66.87 222.80,66.60 C221.80,66.33 219.73,65.42 218.20,64.60 C216.67,63.78 215.15,62.33 213.60,61.70 C212.05,61.07 210.65,61.10 208.90,60.80 C207.15,60.50 205.02,60.18 203.10,59.90 C201.18,59.62 199.13,59.32 197.40,59.10 C195.67,58.88 194.05,58.95 192.70,58.60 C191.35,58.25 190.45,57.83 189.30,57.00 C188.15,56.17 186.93,54.40 185.80,53.60 C184.67,52.80 183.38,52.33 182.50,52.20 C181.62,52.07 181.33,52.42 180.50,52.80 C179.67,53.18 178.97,53.70 177.50,54.50 C176.03,55.30 173.63,56.60 171.70,57.60 C169.77,58.60 167.83,59.67 165.90,60.50 C163.97,61.33 162.02,61.92 160.10,62.60 C158.18,63.28 156.13,63.70 154.40,64.60 C152.67,65.50 151.05,66.82 149.70,68.00 C148.35,69.18 147.08,70.90 146.30,71.70 C145.52,72.50 145.48,72.53 145.00,72.80 C144.52,73.07 143.90,73.33 143.40,73.30 C142.90,73.27 142.48,73.05 142.00,72.60 C141.52,72.15 140.90,71.45 140.50,70.60 C140.10,69.75 139.75,68.02 139.60,67.50 Z" fill="#FFCF8A" fill-opacity="0.41" stroke="none"/><path d="M139.60,67.09 C139.75,67.51 140.10,69.01 140.50,69.59 C140.90,70.17 141.52,70.40 142.00,70.57 C142.48,70.75 142.90,70.69 143.40,70.66 C143.90,70.64 144.52,70.60 145.00,70.41 C145.48,70.22 145.52,70.20 146.30,69.52 C147.08,68.84 148.35,67.43 149.70,66.35 C151.05,65.27 152.67,63.92 154.40,63.04 C156.13,62.17 158.18,61.77 160.10,61.10 C162.02,60.44 163.97,59.87 165.90,59.06 C167.83,58.24 169.77,57.20 171.70,56.21 C173.63,55.23 176.03,53.95 177.50,53.16 C178.97,52.37 179.67,51.87 180.50,51.49 C181.33,51.11 181.62,50.77 182.50,50.88 C183.38,50.98 184.67,51.37 185.80,52.11 C186.93,52.85 188.15,54.54 189.30,55.34 C190.45,56.13 191.35,56.45 192.70,56.89 C194.05,57.33 195.67,57.60 197.40,57.98 C199.13,58.35 201.18,58.79 203.10,59.14 C205.02,59.50 207.15,59.80 208.90,60.13 C210.65,60.45 212.05,60.40 213.60,61.09 C215.15,61.79 216.67,63.46 218.20,64.31 C219.73,65.17 221.80,66.07 222.80,66.20 C223.80,66.33 223.73,65.72 224.20,65.10 C224.67,64.48 225.37,62.93 225.60,62.50" fill="none" stroke="#FFA500" stroke-width="0.7" stroke-opacity="0.9" stroke-linejoin="round" stroke-linecap="round"/><path d="M139.60,67.23 C139.75,67.68 140.10,69.25 140.50,69.92 C140.90,70.59 141.52,70.98 142.00,71.25 C142.48,71.52 142.90,71.55 143.40,71.55 C143.90,71.54 144.52,71.44 145.00,71.23 C145.48,71.02 145.52,70.99 146.30,70.28 C147.08,69.57 148.35,68.07 149.70,66.97 C151.05,65.86 152.67,64.53 154.40,63.65 C156.13,62.78 158.18,62.39 160.10,61.73 C162.02,61.07 163.97,60.51 165.90,59.70 C167.83,58.89 169.77,57.85 171.70,56.87 C173.63,55.90 176.03,54.63 177.50,53.84 C178.97,53.06 179.67,52.55 180.50,52.18 C181.33,51.81 181.62,51.46 182.50,51.61 C183.38,51.76 184.67,52.24 185.80,53.06 C186.93,53.88 188.15,55.67 189.30,56.52 C190.45,57.37 191.35,57.81 192.70,58.18 C194.05,58.55 195.67,58.52 197.40,58.76 C199.13,59.00 201.18,59.32 203.10,59.61 C205.02,59.91 207.15,60.23 208.90,60.54 C210.65,60.85 212.05,60.82 213.60,61.46 C215.15,62.10 216.67,63.62 218.20,64.38 C219.73,65.14 221.80,65.93 222.80,66.03 C223.80,66.13 223.73,65.58 224.20,64.97 C224.67,64.37 225.37,62.83 225.60,62.40" fill="none" stroke="#FF0000" stroke-width="0.7" stroke-opacity="0.9" stroke-linejoin="round" stroke-linecap="round"/><path d="M139.60,67.35 C139.75,67.83 140.10,69.47 140.50,70.22 C140.90,70.97 141.52,71.50 142.00,71.85 C142.48,72.20 142.90,72.31 143.40,72.32 C143.90,72.33 144.52,72.15 145.00,71.91 C145.48,71.68 145.52,71.64 146.30,70.89 C147.08,70.13 148.35,68.51 149.70,67.38 C151.05,66.26 152.67,64.99 154.40,64.15 C156.13,63.31 158.18,62.96 160.10,62.35 C162.02,61.73 163.97,61.21 165.90,60.45 C167.83,59.68 169.77,58.68 171.70,57.75 C173.63,56.81 176.03,55.59 177.50,54.85 C178.97,54.10 179.67,53.61 180.50,53.25 C181.33,52.89 181.62,52.56 182.50,52.68 C183.38,52.80 184.67,53.20 185.80,53.95 C186.93,54.71 188.15,56.43 189.30,57.22 C190.45,58.00 191.35,58.39 192.70,58.68 C194.05,58.98 195.67,58.83 197.40,59.00 C199.13,59.18 201.18,59.45 203.10,59.73 C205.02,60.01 207.15,60.36 208.90,60.68 C210.65,61.00 212.05,60.98 213.60,61.62 C215.15,62.27 216.67,63.76 218.20,64.57 C219.73,65.37 221.80,66.26 222.80,66.47 C223.80,66.68 223.73,66.33 224.20,65.83 C224.67,65.34 225.37,63.89 225.60,63.50" fill="none" stroke="#008000" stroke-width="0.7" stroke-opacity="0.9" stroke-linejoin="round" stroke-linecap="round"/><path d="M139.60,67.42 C139.75,67.92 140.10,69.61 140.50,70.41 C140.90,71.21 141.52,71.82 142.00,72.22 C142.48,72.63 142.90,72.79 143.40,72.82 C143.90,72.84 144.52,72.63 145.00,72.39 C145.48,72.14 145.52,72.11 146.30,71.34 C147.08,70.58 148.35,68.94 149.70,67.79 C151.05,66.63 152.67,65.31 154.40,64.43 C156.13,63.54 158.18,63.13 160.10,62.46 C162.02,61.79 163.97,61.22 165.90,60.40 C167.83,59.58 169.77,58.52 171.70,57.54 C173.63,56.55 176.03,55.26 177.50,54.47 C178.97,53.68 179.67,53.17 180.50,52.79 C181.33,52.41 181.62,52.07 182.50,52.20 C183.38,52.33 184.67,52.80 185.80,53.60 C186.93,54.40 188.15,56.17 189.30,57.00 C190.45,57.83 191.35,58.25 192.70,58.60 C194.05,58.95 195.67,58.88 197.40,59.10 C199.13,59.32 201.18,59.62 203.10,59.90 C205.02,60.18 207.15,60.50 208.90,60.80 C210.65,61.10 212.05,61.07 213.60,61.70 C215.15,62.33 216.67,63.78 218.20,64.60 C219.73,65.42 221.80,66.33 222.80,66.60 C223.80,66.87 223.73,66.63 224.20,66.20 C224.67,65.77 225.37,64.37 225.60,64.00" fill="none" stroke="#0000FF" stroke-width="0.7" stroke-opacity="0.9" stroke-linejoin="round" stroke-linecap="round"/><path d="M139.60,67.50 C139.75,68.02 140.10,69.75 140.50,70.60 C140.90,71.45 141.52,72.15 142.00,72.60 C142.48,73.05 142.90,73.27 143.40,73.30 C143.90,73.33 144.52,73.07 145.00,72.80 C145.48,72.53 145.52,72.50 146.30,71.70 C147.08,70.90 148.35,69.18 149.70,68.00 C151.05,66.82 152.67,65.50 154.40,64.60 C156.13,63.70 158.18,63.28 160.10,62.60 C162.02,61.92 163.97,61.33 165.90,60.50 C167.83,59.67 169.77,58.60 171.70,57.60 C173.63,56.60 176.03,55.30 177.50,54.50 C178.97,53.70 179.67,53.18 180.50,52.80 C181.33,52.42 181.62,52.07 182.50,52.20 C183.38,52.33 184.67,52.80 185.80,53.60 C186.93,54.40 188.15,56.17 189.30,57.00 C190.45,57.83 191.35,58.25 192.70,58.60 C194.05,58.95 195.67,58.88 197.40,59.10 C199.13,59.32 201.18,59.62 203.10,59.90 C205.02,60.18 207.15,60.50 208.90,60.80 C210.65,61.10 212.05,61.07 213.60,61.70 C215.15,62.33 216.67,63.78 218.20,64.60 C219.73,65.42 221.80,66.33 222.80,66.60 C223.80,66.87 223.73,66.63 224.20,66.20 C224.67,65.77 225.37,64.37 225.60,64.00" fill="none" stroke="#800080" stroke-width="0.7" stroke-opacity="0.9" stroke-linejoin="round" stroke-linecap="round"/>
<line x1="138.9" y1="100.2" x2="138.9" y2="153" class="axis"/>
<line x1="139.5" y1="128.3" x2="226.4" y2="128.3" class="zero"/>
<line x1="137.1" y1="114.00" x2="141.1" y2="114.00" class="tick"/>
<text x="135.1" y="117.60" class="tl" text-anchor="end">1</text>
<line x1="137.1" y1="128.30" x2="141.1" y2="128.30" class="tick"/>
<text x="135.1" y="131.90" class="tl" text-anchor="end">0</text>
<line x1="137.1" y1="142.60" x2="141.1" y2="142.60" class="tick"/>
<text x="135.1" y="146.20" class="tl" text-anchor="end">-1</text>
<line x1="137.1" y1="156.90" x2="141.1" y2="156.90" class="tick"/>
<text x="135.1" y="160.50" class="tl" text-anchor="end">-2</text>
<path d="M139.60,127.89 C139.93,127.51 140.68,126.90 141.60,125.61 C142.52,124.32 143.93,121.59 145.10,120.15 C146.27,118.70 147.45,117.37 148.60,116.93 C149.75,116.50 150.85,117.02 152.00,117.53 C153.15,118.05 154.15,119.14 155.50,120.04 C156.85,120.93 158.37,122.20 160.10,122.90 C161.83,123.60 163.97,123.87 165.90,124.26 C167.83,124.64 169.77,124.99 171.70,125.21 C173.63,125.43 176.12,125.61 177.50,125.57 C178.88,125.53 179.00,125.51 180.00,124.95 C181.00,124.39 182.25,122.92 183.50,122.22 C184.75,121.53 186.15,120.87 187.50,120.79 C188.85,120.72 190.15,121.47 191.60,121.76 C193.05,122.05 194.67,122.55 196.20,122.53 C197.73,122.51 199.07,121.57 200.80,121.64 C202.53,121.71 204.67,122.44 206.60,122.94 C208.53,123.44 210.47,124.01 212.40,124.64 C214.33,125.28 216.65,126.13 218.20,126.75 C219.75,127.36 220.73,128.18 221.70,128.33 C222.67,128.48 223.42,127.99 224.00,127.65 C224.58,127.31 225.00,126.52 225.20,126.30 L225.20,127.30 C225.00,127.53 224.58,128.33 224.00,128.70 C223.42,129.07 222.67,129.60 221.70,129.50 C220.73,129.40 219.75,128.63 218.20,128.10 C216.65,127.57 214.33,126.83 212.40,126.30 C210.47,125.77 208.53,125.30 206.60,124.90 C204.67,124.50 202.53,123.92 200.80,123.90 C199.07,123.88 197.73,124.78 196.20,124.80 C194.67,124.82 193.05,124.30 191.60,124.00 C190.15,123.70 188.85,122.93 187.50,123.00 C186.15,123.07 184.75,123.72 183.50,124.40 C182.25,125.08 181.00,126.55 180.00,127.10 C179.00,127.65 178.88,127.67 177.50,127.70 C176.12,127.73 173.63,127.53 171.70,127.30 C169.77,127.07 167.83,126.70 165.90,126.30 C163.97,125.90 161.83,125.57 160.10,124.90 C158.37,124.23 156.85,123.12 155.50,122.30 C154.15,121.48 153.15,120.45 152.00,120.00 C150.85,119.55 149.75,119.22 148.60,119.60 C147.45,119.98 146.27,121.05 145.10,122.30 C143.93,123.55 142.52,125.98 141.60,127.10 C140.68,128.22 139.93,128.68 139.60,129.00 Z" fill="#FFCF8A" fill-opacity="0.47" stroke="none"/><path d="M139.60,128.50 C139.93,128.18 140.68,127.72 141.60,126.60 C142.52,125.48 143.93,123.05 145.10,121.80 C146.27,120.55 147.45,119.48 148.60,119.10 C149.75,118.72 150.85,119.05 152.00,119.50 C153.15,119.95 154.15,120.98 155.50,121.80 C156.85,122.62 158.37,123.73 160.10,124.40 C161.83,125.07 163.97,125.40 165.90,125.80 C167.83,126.20 169.77,126.57 171.70,126.80 C173.63,127.03 176.12,127.23 177.50,127.20 C178.88,127.17 179.00,127.15 180.00,126.60 C181.00,126.05 182.25,124.58 183.50,123.90 C184.75,123.22 186.15,122.57 187.50,122.50 C188.85,122.43 190.15,123.20 191.60,123.50 C193.05,123.80 194.67,124.32 196.20,124.30 C197.73,124.28 199.07,123.38 200.80,123.40 C202.53,123.42 204.67,124.00 206.60,124.40 C208.53,124.80 210.47,125.27 212.40,125.80 C214.33,126.33 216.65,127.07 218.20,127.60 C219.75,128.13 220.73,128.90 221.70,129.00 C222.67,129.10 223.42,128.57 224.00,128.20 C224.58,127.83 225.00,127.03 225.20,126.80 L225.20,127.30 C225.00,127.54 224.58,128.35 224.00,128.73 C223.42,129.11 222.67,129.67 221.70,129.59 C220.73,129.52 219.75,128.78 218.20,128.29 C216.65,127.81 214.33,127.14 212.40,126.66 C210.47,126.18 208.53,125.77 206.60,125.43 C204.67,125.08 202.53,124.56 200.80,124.59 C199.07,124.62 197.73,125.56 196.20,125.62 C194.67,125.68 193.05,125.09 191.60,124.95 C190.15,124.81 188.85,124.37 187.50,124.78 C186.15,125.19 184.75,126.44 183.50,127.43 C182.25,128.42 181.00,130.06 180.00,130.74 C179.00,131.42 178.88,131.51 177.50,131.52 C176.12,131.53 173.63,131.24 171.70,130.81 C169.77,130.37 167.83,129.58 165.90,128.94 C163.97,128.29 161.83,127.76 160.10,126.91 C158.37,126.06 156.85,124.80 155.50,123.85 C154.15,122.90 153.15,121.76 152.00,121.20 C150.85,120.64 149.75,120.20 148.60,120.47 C147.45,120.75 146.27,121.71 145.10,122.85 C143.93,124.00 142.52,126.30 141.60,127.34 C140.68,128.37 139.93,128.77 139.60,129.05 Z" fill="#FF9EA8" fill-opacity="0.41" stroke="none"/><path d="M139.60,128.43 C139.93,128.07 140.68,127.51 141.60,126.28 C142.52,125.05 143.93,122.43 145.10,121.05 C146.27,119.68 147.45,118.44 148.60,118.01 C149.75,117.57 150.85,117.99 152.00,118.45 C153.15,118.92 154.15,119.97 155.50,120.80 C156.85,121.64 158.37,122.77 160.10,123.47 C161.83,124.16 163.97,124.52 165.90,124.94 C167.83,125.37 169.77,125.76 171.70,126.00 C173.63,126.24 176.12,126.43 177.50,126.40 C178.88,126.37 179.00,126.35 180.00,125.80 C181.00,125.25 182.25,123.78 183.50,123.10 C184.75,122.42 186.15,121.77 187.50,121.70 C188.85,121.63 190.15,122.39 191.60,122.68 C193.05,122.97 194.67,123.47 196.20,123.44 C197.73,123.41 199.07,122.48 200.80,122.52 C202.53,122.56 204.67,123.23 206.60,123.68 C208.53,124.13 210.47,124.65 212.40,125.24 C214.33,125.82 216.65,126.62 218.20,127.20 C219.75,127.77 220.73,128.57 221.70,128.69 C222.67,128.81 223.42,128.27 224.00,127.90 C224.58,127.53 225.00,126.73 225.20,126.50" fill="none" stroke="#FFA500" stroke-width="0.7" stroke-opacity="0.9" stroke-linejoin="round" stroke-linecap="round"/><path d="M139.60,128.47 C139.93,128.14 140.68,127.64 141.60,126.48 C142.52,125.33 143.93,122.82 145.10,121.53 C146.27,120.23 147.45,119.10 148.60,118.72 C149.75,118.34 150.85,118.74 152.00,119.23 C153.15,119.71 154.15,120.78 155.50,121.64 C156.85,122.50 158.37,123.66 160.10,124.39 C161.83,125.11 163.97,125.52 165.90,125.97 C167.83,126.42 169.77,126.84 171.70,127.08 C173.63,127.33 176.12,127.47 177.50,127.42 C178.88,127.38 179.00,127.36 180.00,126.80 C181.00,126.24 182.25,124.76 183.50,124.07 C184.75,123.37 186.15,122.71 187.50,122.62 C188.85,122.54 190.15,123.30 191.60,123.58 C193.05,123.87 194.67,124.37 196.20,124.34 C197.73,124.31 199.07,123.39 200.80,123.40 C202.53,123.41 204.67,124.00 206.60,124.40 C208.53,124.80 210.47,125.27 212.40,125.80 C214.33,126.33 216.65,127.07 218.20,127.60 C219.75,128.13 220.73,128.90 221.70,129.00 C222.67,129.10 223.42,128.57 224.00,128.20 C224.58,127.83 225.00,127.03 225.20,126.80" fill="none" stroke="#FF0000" stroke-width="0.7" stroke-opacity="0.9" stroke-linejoin="round" stroke-linecap="round"/><path d="M139.60,128.49 C139.93,128.16 140.68,127.68 141.60,126.54 C142.52,125.41 143.93,122.94 145.10,121.66 C146.27,120.39 147.45,119.29 148.60,118.91 C149.75,118.53 150.85,118.90 152.00,119.37 C153.15,119.84 154.15,120.90 155.50,121.74 C156.85,122.58 158.37,123.72 160.10,124.42 C161.83,125.12 163.97,125.50 165.90,125.93 C167.83,126.35 169.77,126.75 171.70,126.99 C173.63,127.23 176.12,127.41 177.50,127.37 C178.88,127.33 179.00,127.32 180.00,126.76 C181.00,126.21 182.25,124.74 183.50,124.05 C184.75,123.36 186.15,122.70 187.50,122.63 C188.85,122.56 190.15,123.32 191.60,123.62 C193.05,123.91 194.67,124.42 196.20,124.40 C197.73,124.38 199.07,123.47 200.80,123.48 C202.53,123.49 204.67,124.07 206.60,124.46 C208.53,124.85 210.47,125.31 212.40,125.84 C214.33,126.36 216.65,127.09 218.20,127.61 C219.75,128.14 220.73,128.90 221.70,129.00 C222.67,129.10 223.42,128.57 224.00,128.20 C224.58,127.83 225.00,127.03 225.20,126.80" fill="none" stroke="#008000" stroke-width="0.7" stroke-opacity="0.9" stroke-linejoin="round" stroke-linecap="round"/><path d="M139.60,128.51 C139.93,128.20 140.68,127.75 141.60,126.66 C142.52,125.56 143.93,123.16 145.10,121.94 C146.27,120.71 147.45,119.67 148.60,119.29 C149.75,118.92 150.85,119.22 152.00,119.66 C153.15,120.10 154.15,121.13 155.50,121.93 C156.85,122.74 158.37,123.84 160.10,124.49 C161.83,125.14 163.97,125.45 165.90,125.84 C167.83,126.22 169.77,126.57 171.70,126.80 C173.63,127.03 176.12,127.23 177.50,127.20 C178.88,127.17 179.00,127.15 180.00,126.60 C181.00,126.05 182.25,124.58 183.50,123.90 C184.75,123.22 186.15,122.57 187.50,122.50 C188.85,122.43 190.15,123.20 191.60,123.50 C193.05,123.80 194.67,124.32 196.20,124.30 C197.73,124.28 199.07,123.38 200.80,123.40 C202.53,123.42 204.67,124.00 206.60,124.40 C208.53,124.80 210.47,125.27 212.40,125.80 C214.33,126.33 216.65,127.07 218.20,127.60 C219.75,128.13 220.73,128.90 221.70,129.00 C222.67,129.10 223.42,128.57 224.00,128.20 C224.58,127.83 225.00,127.03 225.20,126.80" fill="none" stroke="#0000FF" stroke-width="0.7" stroke-opacity="0.9" stroke-linejoin="round" stroke-linecap="round"/><path d="M139.60,128.50 C139.93,128.18 140.68,127.72 141.60,126.60 C142.52,125.48 143.93,123.05 145.10,121.80 C146.27,120.55 147.45,119.48 148.60,119.10 C149.75,118.72 150.85,119.05 152.00,119.50 C153.15,119.95 154.15,120.98 155.50,121.80 C156.85,122.62 158.37,123.73 160.10,124.40 C161.83,125.07 163.97,125.40 165.90,125.80 C167.83,126.20 169.77,126.57 171.70,126.80 C173.63,127.03 176.12,127.23 177.50,127.20 C178.88,127.17 179.00,127.15 180.00,126.60 C181.00,126.05 182.25,124.58 183.50,123.90 C184.75,123.22 186.15,122.57 187.50,122.50 C188.85,122.43 190.15,123.20 191.60,123.50 C193.05,123.80 194.67,124.32 196.20,124.30 C197.73,124.28 199.07,123.38 200.80,123.40 C202.53,123.42 204.67,124.00 206.60,124.40 C208.53,124.80 210.47,125.27 212.40,125.80 C214.33,126.33 216.65,127.07 218.20,127.60 C219.75,128.13 220.73,128.90 221.70,129.00 C222.67,129.10 223.42,128.57 224.00,128.20 C224.58,127.83 225.00,127.03 225.20,126.80" fill="none" stroke="#800080" stroke-width="0.7" stroke-opacity="0.9" stroke-linejoin="round" stroke-linecap="round"/>
<line x1="138.9" y1="166" x2="138.9" y2="214" class="axis"/>
<line x1="139.5" y1="189.5" x2="226.4" y2="189.5" class="zero"/>
<line x1="137.1" y1="175.20" x2="141.1" y2="175.20" class="tick"/>
<text x="135.1" y="178.80" class="tl" text-anchor="end">1</text>
<line x1="137.1" y1="189.50" x2="141.1" y2="189.50" class="tick"/>
<text x="135.1" y="193.10" class="tl" text-anchor="end">0</text>
<line x1="137.1" y1="203.80" x2="141.1" y2="203.80" class="tick"/>
<text x="135.1" y="207.40" class="tl" text-anchor="end">-1</text>
<line x1="137.1" y1="218.10" x2="141.1" y2="218.10" class="tick"/>
<text x="135.1" y="221.70" class="tl" text-anchor="end">-2</text>
<path d="M139.50,189.12 C139.83,188.95 140.83,188.38 141.50,188.11 C142.17,187.84 142.57,187.42 143.50,187.50 C144.43,187.59 145.77,187.95 147.10,188.65 C148.43,189.34 149.57,190.79 151.50,191.68 C153.43,192.57 156.30,193.05 158.70,194.00 C161.10,194.96 163.50,195.90 165.90,197.42 C168.30,198.94 170.93,201.22 173.10,203.13 C175.27,205.03 177.42,207.70 178.90,208.88 C180.38,210.06 181.03,210.43 182.00,210.20 C182.97,209.97 183.95,208.68 184.70,207.51 C185.45,206.33 185.83,204.79 186.50,203.14 C187.17,201.50 187.85,199.68 188.70,197.66 C189.55,195.64 190.63,192.55 191.60,191.02 C192.57,189.49 193.55,188.99 194.50,188.50 C195.45,188.01 196.10,188.05 197.30,188.10 C198.50,188.15 199.77,188.68 201.70,188.80 C203.63,188.92 206.50,188.75 208.90,188.80 C211.30,188.85 214.17,188.92 216.10,189.10 C218.03,189.28 219.05,189.77 220.50,189.90 C221.95,190.03 224.08,189.90 224.80,189.90 L224.80,189.90 C224.08,189.90 221.95,190.03 220.50,189.90 C219.05,189.77 218.03,189.28 216.10,189.10 C214.17,188.92 211.30,188.85 208.90,188.80 C206.50,188.75 203.63,188.92 201.70,188.80 C199.77,188.68 198.50,188.12 197.30,188.10 C196.10,188.08 195.45,187.99 194.50,188.70 C193.55,189.41 192.57,190.46 191.60,192.38 C190.63,194.30 189.55,197.84 188.70,200.23 C187.85,202.61 187.17,204.70 186.50,206.68 C185.83,208.65 185.45,210.45 184.70,212.09 C183.95,213.72 182.97,216.01 182.00,216.50 C181.03,216.99 180.38,216.28 178.90,215.05 C177.42,213.81 175.27,211.06 173.10,209.10 C170.93,207.14 168.30,204.89 165.90,203.30 C163.50,201.71 161.10,200.79 158.70,199.57 C156.30,198.34 153.43,197.25 151.50,195.95 C149.57,194.65 148.43,192.83 147.10,191.75 C145.77,190.68 144.43,189.87 143.50,189.50 C142.57,189.12 142.17,189.42 141.50,189.49 C140.83,189.55 139.83,189.81 139.50,189.88 Z" fill="#BE98C4" fill-opacity="0.54" stroke="none"/><path d="M139.50,189.50 C139.83,189.38 140.83,188.97 141.50,188.80 C142.17,188.63 142.57,188.27 143.50,188.50 C144.43,188.73 145.77,189.32 147.10,190.20 C148.43,191.08 149.57,192.72 151.50,193.80 C153.43,194.88 156.30,195.62 158.70,196.70 C161.10,197.78 163.50,198.84 165.90,200.30 C168.30,201.76 170.93,203.91 173.10,205.48 C175.27,207.05 177.58,208.99 178.90,209.71 C180.22,210.44 180.43,210.37 181.00,209.82 C181.57,209.27 181.85,207.72 182.35,206.41 C182.85,205.10 183.36,203.57 184.00,201.97 C184.64,200.36 185.35,198.70 186.20,196.80 C187.05,194.90 187.87,191.96 189.10,190.57 C190.33,189.17 192.20,188.84 193.56,188.43 C194.93,188.02 195.94,188.04 197.30,188.10 C198.66,188.16 199.77,188.68 201.70,188.80 C203.63,188.92 206.50,188.75 208.90,188.80 C211.30,188.85 214.17,188.92 216.10,189.10 C218.03,189.28 219.05,189.77 220.50,189.90 C221.95,190.03 224.08,189.90 224.80,189.90" fill="none" stroke="#FFA500" stroke-width="0.7" stroke-opacity="0.9" stroke-linejoin="round" stroke-linecap="round"/><path d="M139.50,189.50 C139.83,189.38 140.83,188.97 141.50,188.80 C142.17,188.63 142.57,188.27 143.50,188.50 C144.43,188.73 145.77,189.32 147.10,190.20 C148.43,191.08 149.57,192.72 151.50,193.80 C153.43,194.88 156.30,195.62 158.70,196.70 C161.10,197.78 163.50,198.77 165.90,200.30 C168.30,201.83 170.93,204.13 173.10,205.91 C175.27,207.69 177.50,210.02 178.90,210.97 C180.30,211.93 180.74,212.07 181.52,211.64 C182.30,211.21 182.94,209.71 183.57,208.41 C184.20,207.12 184.65,205.56 185.30,203.86 C185.95,202.15 186.65,200.29 187.50,198.20 C188.35,196.11 189.31,192.93 190.40,191.32 C191.49,189.71 192.90,189.08 194.05,188.54 C195.20,188.01 196.03,188.06 197.30,188.10 C198.58,188.14 199.77,188.68 201.70,188.80 C203.63,188.92 206.50,188.75 208.90,188.80 C211.30,188.85 214.17,188.92 216.10,189.10 C218.03,189.28 219.05,189.77 220.50,189.90 C221.95,190.03 224.08,189.90 224.80,189.90" fill="none" stroke="#FF0000" stroke-width="0.7" stroke-opacity="0.9" stroke-linejoin="round" stroke-linecap="round"/><path d="M139.50,189.50 C139.83,189.38 140.83,188.97 141.50,188.80 C142.17,188.63 142.57,188.27 143.50,188.50 C144.43,188.73 145.77,189.32 147.10,190.20 C148.43,191.08 149.57,192.72 151.50,193.80 C153.43,194.88 156.30,195.62 158.70,196.70 C161.10,197.78 163.50,198.75 165.90,200.30 C168.30,201.85 170.93,204.17 173.10,206.00 C175.27,207.84 177.46,210.27 178.90,211.33 C180.34,212.38 180.89,212.69 181.76,212.33 C182.63,211.97 183.45,210.46 184.14,209.16 C184.83,207.85 185.24,206.26 185.90,204.52 C186.56,202.77 187.25,200.84 188.10,198.69 C188.95,196.53 189.97,193.27 191.00,191.59 C192.03,189.90 193.22,189.16 194.28,188.58 C195.33,188.00 196.06,188.06 197.30,188.10 C198.54,188.14 199.77,188.68 201.70,188.80 C203.63,188.92 206.50,188.75 208.90,188.80 C211.30,188.85 214.17,188.92 216.10,189.10 C218.03,189.28 219.05,189.77 220.50,189.90 C221.95,190.03 224.08,189.90 224.80,189.90" fill="none" stroke="#008000" stroke-width="0.7" stroke-opacity="0.9" stroke-linejoin="round" stroke-linecap="round"/><path d="M139.50,189.50 C139.83,189.38 140.83,188.97 141.50,188.80 C142.17,188.63 142.57,188.27 143.50,188.50 C144.43,188.73 145.77,189.32 147.10,190.20 C148.43,191.08 149.57,192.72 151.50,193.80 C153.43,194.88 156.30,195.62 158.70,196.70 C161.10,197.78 163.50,198.73 165.90,200.30 C168.30,201.87 170.93,204.22 173.10,206.10 C175.27,207.98 177.44,210.50 178.90,211.60 C180.36,212.70 180.96,213.05 181.88,212.70 C182.80,212.35 183.70,210.82 184.42,209.50 C185.14,208.18 185.54,206.57 186.20,204.80 C186.86,203.03 187.55,201.08 188.40,198.90 C189.25,196.72 190.30,193.42 191.30,191.70 C192.30,189.98 193.39,189.20 194.39,188.60 C195.39,188.00 196.08,188.07 197.30,188.10 C198.52,188.13 199.77,188.68 201.70,188.80 C203.63,188.92 206.50,188.75 208.90,188.80 C211.30,188.85 214.17,188.92 216.10,189.10 C218.03,189.28 219.05,189.77 220.50,189.90 C221.95,190.03 224.08,189.90 224.80,189.90" fill="none" stroke="#0000FF" stroke-width="0.7" stroke-opacity="0.9" stroke-linejoin="round" stroke-linecap="round"/><path d="M139.50,189.50 C139.83,189.38 140.83,188.97 141.50,188.80 C142.17,188.63 142.57,188.27 143.50,188.50 C144.43,188.73 145.77,189.32 147.10,190.20 C148.43,191.08 149.57,192.72 151.50,193.80 C153.43,194.88 156.30,195.62 158.70,196.70 C161.10,197.78 163.50,198.73 165.90,200.30 C168.30,201.87 170.93,204.22 173.10,206.10 C175.27,207.98 177.42,210.50 178.90,211.60 C180.38,212.70 181.03,213.05 182.00,212.70 C182.97,212.35 183.95,210.82 184.70,209.50 C185.45,208.18 185.83,206.57 186.50,204.80 C187.17,203.03 187.85,201.08 188.70,198.90 C189.55,196.72 190.63,193.42 191.60,191.70 C192.57,189.98 193.55,189.20 194.50,188.60 C195.45,188.00 196.10,188.07 197.30,188.10 C198.50,188.13 199.77,188.68 201.70,188.80 C203.63,188.92 206.50,188.75 208.90,188.80 C211.30,188.85 214.17,188.92 216.10,189.10 C218.03,189.28 219.05,189.77 220.50,189.90 C221.95,190.03 224.08,189.90 224.80,189.90" fill="none" stroke="#800080" stroke-width="0.7" stroke-opacity="0.9" stroke-linejoin="round" stroke-linecap="round"/>
<line x1="138.9" y1="229" x2="138.9" y2="275" class="axis"/>
<line x1="139.5" y1="250.2" x2="226.4" y2="250.2" class="zero"/>
<line x1="137.1" y1="235.90" x2="141.1" y2="235.90" class="tick"/>
<text x="135.1" y="239.50" class="tl" text-anchor="end">1</text>
<line x1="137.1" y1="250.20" x2="141.1" y2="250.20" class="tick"/>
<text x="135.1" y="253.80" class="tl" text-anchor="end">0</text>
<line x1="137.1" y1="264.50" x2="141.1" y2="264.50" class="tick"/>
<text x="135.1" y="268.10" class="tl" text-anchor="end">-1</text>
<line x1="137.1" y1="278.80" x2="141.1" y2="278.80" class="tick"/>
<path d="M171.00,249.90 C171.67,249.78 173.73,249.53 175.00,249.20 C176.27,248.87 177.43,248.51 178.60,247.93 C179.77,247.36 180.93,246.46 182.00,245.76 C183.07,245.05 184.17,244.16 185.00,243.72 C185.83,243.28 186.33,243.08 187.00,243.10 C187.67,243.12 188.25,243.32 189.00,243.82 C189.75,244.32 190.67,245.27 191.50,246.10 C192.33,246.93 193.15,248.06 194.00,248.78 C194.85,249.49 195.60,250.11 196.60,250.40 C197.60,250.69 199.43,250.48 200.00,250.50 L200.00,250.50 C199.43,250.48 197.60,250.56 196.60,250.40 C195.60,250.24 194.85,249.98 194.00,249.56 C193.15,249.13 192.33,248.35 191.50,247.85 C190.67,247.35 189.75,246.75 189.00,246.54 C188.25,246.34 187.67,246.62 187.00,246.60 C186.33,246.58 185.83,246.33 185.00,246.44 C184.17,246.56 183.07,247.02 182.00,247.31 C180.93,247.60 179.77,247.85 178.60,248.17 C177.43,248.48 176.27,248.91 175.00,249.20 C173.73,249.49 171.67,249.78 171.00,249.90 Z" fill="#8FD08F" fill-opacity="0.30" stroke="none"/><path d="M139.60,250.80 C140.32,250.90 142.02,251.35 143.90,251.40 C145.78,251.45 147.43,251.25 150.90,251.10 C154.37,250.95 161.35,250.69 164.70,250.50 C168.05,250.31 169.28,250.13 171.00,249.98 C172.72,249.82 173.73,249.80 175.00,249.58 C176.27,249.36 177.43,249.07 178.60,248.66 C179.77,248.25 180.93,247.62 182.00,247.12 C183.07,246.62 184.17,245.93 185.00,245.65 C185.83,245.36 186.33,245.41 187.00,245.40 C187.67,245.39 188.25,245.30 189.00,245.61 C189.75,245.92 190.67,246.64 191.50,247.25 C192.33,247.86 193.15,248.76 194.00,249.29 C194.85,249.81 195.60,250.20 196.60,250.40 C197.60,250.60 195.37,250.48 200.00,250.50 C204.63,250.52 220.33,250.50 224.40,250.50" fill="none" stroke="#800080" stroke-width="0.7" stroke-opacity="0.9" stroke-linejoin="round" stroke-linecap="round"/><path d="M171.00,250.06 C171.67,250.06 173.73,250.13 175.00,250.02 C176.27,249.92 177.43,249.72 178.60,249.42 C179.77,249.11 180.93,248.58 182.00,248.18 C183.07,247.77 184.17,247.18 185.00,246.97 C185.83,246.76 186.33,246.93 187.00,246.90 C187.67,246.87 188.25,246.59 189.00,246.78 C189.75,246.96 190.67,247.53 191.50,248.00 C192.33,248.47 193.15,249.22 194.00,249.62 C194.85,250.02 195.60,250.25 196.60,250.40 C197.60,250.55 199.43,250.48 200.00,250.50" fill="none" stroke="#FF0000" stroke-width="0.7" stroke-opacity="0.9" stroke-linejoin="round" stroke-linecap="round"/><path d="M171.00,249.99 C171.67,249.93 173.73,249.85 175.00,249.64 C176.27,249.44 177.43,249.16 178.60,248.76 C179.77,248.36 180.93,247.75 182.00,247.26 C183.07,246.77 184.17,246.10 185.00,245.82 C185.83,245.55 186.33,245.61 187.00,245.60 C187.67,245.59 188.25,245.47 189.00,245.77 C189.75,246.06 190.67,246.76 191.50,247.35 C192.33,247.94 193.15,248.83 194.00,249.33 C194.85,249.84 195.60,250.21 196.60,250.40 C197.60,250.59 199.43,250.48 200.00,250.50" fill="none" stroke="#0000FF" stroke-width="0.7" stroke-opacity="0.9" stroke-linejoin="round" stroke-linecap="round"/><path d="M139.60,250.80 C140.32,250.90 142.02,251.35 143.90,251.40 C145.78,251.45 147.43,251.25 150.90,251.10 C154.37,250.95 161.35,250.70 164.70,250.50 C168.05,250.30 169.28,250.12 171.00,249.90 C172.72,249.68 173.73,249.52 175.00,249.20 C176.27,248.88 177.43,248.50 178.60,248.00 C179.77,247.50 180.93,246.78 182.00,246.20 C183.07,245.62 184.17,244.85 185.00,244.50 C185.83,244.15 186.33,244.08 187.00,244.10 C187.67,244.12 188.25,244.18 189.00,244.60 C189.75,245.02 190.67,245.87 191.50,246.60 C192.33,247.33 193.15,248.37 194.00,249.00 C194.85,249.63 195.60,250.15 196.60,250.40 C197.60,250.65 195.37,250.48 200.00,250.50 C204.63,250.52 220.33,250.50 224.40,250.50" fill="none" stroke="#008000" stroke-width="0.7" stroke-opacity="0.9" stroke-linejoin="round" stroke-linecap="round"/>
<path d="M139.5,294.59999999999997 V297.2 H226.4 V294.59999999999997 M181.82,297.2 V294.59999999999997" class="xaxis"/>
<text x="138.90" y="295.1" class="tl" text-anchor="middle">0</text>
<text x="181.82" y="295.1" class="tl" text-anchor="middle">50</text>
<text x="225.40" y="295.1" class="tl" text-anchor="middle">100</text>
<text x="182.25" y="311.0" class="xl" text-anchor="middle">%Gait Progress</text>
<text x="281.7" y="41.6" class="title" text-anchor="middle">Power</text>
<text x="232.1" y="32.6" class="unit" text-anchor="middle">(W/kg)</text>
<line x1="240.1" y1="40" x2="240.1" y2="91" class="axis"/>
<line x1="241" y1="67.0" x2="328.3" y2="67.0" class="zero"/>
<line x1="238.29999999999998" y1="38.40" x2="242.29999999999998" y2="38.40" class="tick"/>
<text x="236.29999999999998" y="42.00" class="tl" text-anchor="end">2</text>
<line x1="238.29999999999998" y1="52.70" x2="242.29999999999998" y2="52.70" class="tick"/>
<text x="236.29999999999998" y="56.30" class="tl" text-anchor="end">1</text>
<line x1="238.29999999999998" y1="67.00" x2="242.29999999999998" y2="67.00" class="tick"/>
<text x="236.29999999999998" y="70.60" class="tl" text-anchor="end">0</text>
<line x1="238.29999999999998" y1="81.30" x2="242.29999999999998" y2="81.30" class="tick"/>
<text x="236.29999999999998" y="84.90" class="tl" text-anchor="end">-1</text>
<line x1="238.29999999999998" y1="95.60" x2="242.29999999999998" y2="95.60" class="tick"/>
<text x="236.29999999999998" y="99.20" class="tl" text-anchor="end">-2</text>
<path d="M241.00,67.20 C241.52,66.90 243.08,66.25 244.10,65.41 C245.12,64.56 246.10,63.48 247.10,62.14 C248.10,60.80 249.25,58.44 250.10,57.34 C250.95,56.24 251.43,55.59 252.20,55.55 C252.97,55.51 253.70,56.21 254.70,57.07 C255.70,57.94 256.77,59.50 258.20,60.74 C259.63,61.99 261.60,63.55 263.30,64.54 C265.00,65.52 266.72,66.02 268.40,66.67 C270.08,67.32 271.72,67.85 273.40,68.42 C275.08,68.99 277.15,69.64 278.50,70.10 C279.85,70.56 280.57,71.11 281.50,71.17 C282.43,71.24 283.42,71.10 284.10,70.51 C284.78,69.92 284.93,68.76 285.60,67.63 C286.27,66.51 287.18,64.56 288.10,63.74 C289.02,62.92 289.92,62.91 291.10,62.70 C292.28,62.49 293.85,62.48 295.20,62.50 C296.55,62.52 297.85,62.27 299.20,62.80 C300.55,63.33 301.95,64.92 303.30,65.70 C304.65,66.48 305.78,67.08 307.30,67.50 C308.82,67.92 310.72,68.20 312.40,68.20 C314.08,68.20 315.88,67.75 317.40,67.50 C318.92,67.25 319.97,66.70 321.50,66.70 C323.03,66.70 325.75,67.37 326.60,67.50 L326.60,68.60 C325.75,68.47 323.03,67.80 321.50,67.80 C319.97,67.80 318.92,68.35 317.40,68.60 C315.88,68.85 314.08,69.30 312.40,69.30 C310.72,69.30 308.82,69.02 307.30,68.60 C305.78,68.18 304.65,67.58 303.30,66.80 C301.95,66.02 300.55,64.43 299.20,63.90 C297.85,63.37 296.55,63.62 295.20,63.60 C293.85,63.58 292.28,63.54 291.10,63.80 C289.92,64.06 289.02,64.23 288.10,65.19 C287.18,66.15 286.27,68.29 285.60,69.54 C284.93,70.79 284.78,71.81 284.10,72.69 C283.42,73.57 282.43,74.49 281.50,74.81 C280.57,75.13 279.85,74.90 278.50,74.60 C277.15,74.30 275.08,73.52 273.40,73.00 C271.72,72.48 270.08,71.98 268.40,71.50 C266.72,71.02 265.00,70.70 263.30,70.14 C261.60,69.59 259.63,68.78 258.20,68.17 C256.77,67.56 255.70,66.79 254.70,66.50 C253.70,66.21 252.97,66.57 252.20,66.43 C251.43,66.30 250.95,65.71 250.10,65.68 C249.25,65.65 248.10,65.96 247.10,66.28 C246.10,66.60 245.12,67.42 244.10,67.62 C243.08,67.82 241.52,67.52 241.00,67.50 Z" fill="#BE93BE" fill-opacity="0.61" stroke="none"/><path d="M241.00,67.20 C241.52,67.12 243.08,67.12 244.10,66.70 C245.12,66.28 246.10,65.53 247.10,64.70 C248.10,63.87 249.25,62.32 250.10,61.70 C250.95,61.08 251.43,60.97 252.20,61.00 C252.97,61.03 253.70,61.28 254.70,61.90 C255.70,62.52 256.77,63.78 258.20,64.70 C259.63,65.62 261.60,66.68 263.30,67.40 C265.00,68.12 266.72,68.48 268.40,69.00 C270.08,69.52 271.72,69.98 273.40,70.50 C275.08,71.02 277.15,71.72 278.50,72.10 C279.85,72.48 280.57,72.96 281.50,72.80 C282.43,72.64 283.42,72.01 284.10,71.16 C284.78,70.30 284.93,69.08 285.60,67.69 C286.27,66.30 287.18,63.97 288.10,62.81 C289.02,61.64 289.92,61.02 291.10,60.71 C292.28,60.40 293.85,60.80 295.20,60.97 C296.55,61.13 297.85,61.01 299.20,61.71 C300.55,62.42 301.95,64.21 303.30,65.20 C304.65,66.18 305.78,67.01 307.30,67.59 C308.82,68.18 310.72,68.63 312.40,68.70 C314.08,68.77 315.88,68.25 317.40,68.00 C318.92,67.75 319.97,67.20 321.50,67.20 C323.03,67.20 325.75,67.87 326.60,68.00 L326.60,69.00 C325.75,68.87 323.03,68.20 321.50,68.20 C319.97,68.20 318.92,68.75 317.40,69.00 C315.88,69.25 314.08,69.70 312.40,69.70 C310.72,69.70 308.82,69.42 307.30,69.00 C305.78,68.58 304.65,67.98 303.30,67.20 C301.95,66.42 300.55,64.83 299.20,64.30 C297.85,63.77 296.55,64.02 295.20,64.00 C293.85,63.98 292.28,63.97 291.10,64.20 C289.92,64.43 289.02,64.52 288.10,65.40 C287.18,66.28 286.27,68.32 285.60,69.50 C284.93,70.68 284.78,71.78 284.10,72.50 C283.42,73.22 282.43,73.70 281.50,73.80 C280.57,73.90 279.85,73.48 278.50,73.10 C277.15,72.72 275.08,72.02 273.40,71.50 C271.72,70.98 270.08,70.52 268.40,70.00 C266.72,69.48 265.00,69.12 263.30,68.40 C261.60,67.68 259.63,66.62 258.20,65.70 C256.77,64.78 255.70,63.52 254.70,62.90 C253.70,62.28 252.97,62.03 252.20,62.00 C251.43,61.97 250.95,62.08 250.10,62.70 C249.25,63.32 248.10,64.87 247.10,65.70 C246.10,66.53 245.12,67.28 244.10,67.70 C243.08,68.12 241.52,68.12 241.00,68.20 Z" fill="#FFCF8A" fill-opacity="0.41" stroke="none"/><path d="M241.00,66.70 C241.52,66.66 243.08,66.81 244.10,66.48 C245.12,66.16 246.10,65.50 247.10,64.75 C248.10,64.01 249.25,62.57 250.10,62.03 C250.95,61.49 251.43,61.44 252.20,61.50 C252.97,61.57 253.70,61.79 254.70,62.41 C255.70,63.04 256.77,64.31 258.20,65.23 C259.63,66.16 261.60,67.24 263.30,67.96 C265.00,68.69 266.72,69.05 268.40,69.59 C270.08,70.13 271.72,70.65 273.40,71.21 C275.08,71.78 277.15,72.56 278.50,72.98 C279.85,73.41 280.57,73.97 281.50,73.78 C282.43,73.60 283.42,72.78 284.10,71.89 C284.78,71.01 284.93,69.84 285.60,68.46 C286.27,67.08 287.18,64.78 288.10,63.64 C289.02,62.50 289.92,61.92 291.10,61.61 C292.28,61.30 293.85,61.60 295.20,61.76 C296.55,61.92 297.85,61.80 299.20,62.54 C300.55,63.28 301.95,65.28 303.30,66.21 C304.65,67.13 305.78,67.63 307.30,68.08 C308.82,68.52 310.72,68.84 312.40,68.87 C314.08,68.90 315.88,68.48 317.40,68.25 C318.92,68.03 319.97,67.49 321.50,67.50 C323.03,67.51 325.75,68.17 326.60,68.30" fill="none" stroke="#FFA500" stroke-width="0.7" stroke-opacity="0.9" stroke-linejoin="round" stroke-linecap="round"/><path d="M241.00,67.20 C241.52,67.16 243.08,67.31 244.10,66.98 C245.12,66.66 246.10,66.00 247.10,65.25 C248.10,64.51 249.25,63.07 250.10,62.53 C250.95,61.98 251.43,61.95 252.20,61.99 C252.97,62.04 253.70,62.22 254.70,62.80 C255.70,63.37 256.77,64.60 258.20,65.46 C259.63,66.32 261.60,67.31 263.30,67.96 C265.00,68.61 266.72,68.87 268.40,69.36 C270.08,69.85 271.72,70.34 273.40,70.89 C275.08,71.43 277.15,72.20 278.50,72.61 C279.85,73.03 280.57,73.51 281.50,73.39 C282.43,73.26 283.42,72.65 284.10,71.87 C284.78,71.09 284.93,69.96 285.60,68.70 C286.27,67.44 287.18,65.31 288.10,64.32 C289.02,63.34 289.92,63.07 291.10,62.80 C292.28,62.54 293.85,62.68 295.20,62.74 C296.55,62.80 297.85,62.60 299.20,63.17 C300.55,63.75 301.95,65.40 303.30,66.20 C304.65,67.00 305.78,67.58 307.30,68.00 C308.82,68.42 310.72,68.70 312.40,68.70 C314.08,68.70 315.88,68.25 317.40,68.00 C318.92,67.75 319.97,67.20 321.50,67.20 C323.03,67.20 325.75,67.87 326.60,68.00" fill="none" stroke="#FF0000" stroke-width="0.7" stroke-opacity="0.9" stroke-linejoin="round" stroke-linecap="round"/><path d="M241.00,67.20 C241.52,67.22 243.08,67.53 244.10,67.32 C245.12,67.11 246.10,66.55 247.10,65.92 C248.10,65.29 249.25,63.98 250.10,63.52 C250.95,63.06 251.43,63.13 252.20,63.18 C252.97,63.22 253.70,63.29 254.70,63.80 C255.70,64.31 256.77,65.45 258.20,66.21 C259.63,66.97 261.60,67.82 263.30,68.34 C265.00,68.87 266.72,68.98 268.40,69.38 C270.08,69.78 271.72,70.23 273.40,70.73 C275.08,71.23 277.15,71.98 278.50,72.37 C279.85,72.77 280.57,73.14 281.50,73.10 C282.43,73.05 283.42,72.73 284.10,72.10 C284.78,71.47 284.93,70.41 285.60,69.32 C286.27,68.23 287.18,66.33 288.10,65.58 C289.02,64.83 289.92,64.95 291.10,64.80 C292.28,64.66 293.85,64.72 295.20,64.72 C296.55,64.72 297.85,64.46 299.20,64.79 C300.55,65.12 301.95,66.09 303.30,66.69 C304.65,67.29 305.78,68.00 307.30,68.37 C308.82,68.75 310.72,68.97 312.40,68.92 C314.08,68.87 315.88,68.36 317.40,68.08 C318.92,67.79 319.97,67.21 321.50,67.20 C323.03,67.19 325.75,67.87 326.60,68.00" fill="none" stroke="#008000" stroke-width="0.7" stroke-opacity="0.9" stroke-linejoin="round" stroke-linecap="round"/><path d="M241.00,67.20 C241.52,67.14 243.08,67.23 244.10,66.87 C245.12,66.51 246.10,65.81 247.10,65.03 C248.10,64.25 249.25,62.77 250.10,62.20 C250.95,61.62 251.43,61.55 252.20,61.60 C252.97,61.65 253.70,61.87 254.70,62.48 C255.70,63.09 256.77,64.35 258.20,65.25 C259.63,66.16 261.60,67.21 263.30,67.91 C265.00,68.62 266.72,68.97 268.40,69.47 C270.08,69.98 271.72,70.43 273.40,70.94 C275.08,71.44 277.15,72.12 278.50,72.50 C279.85,72.87 280.57,73.28 281.50,73.17 C282.43,73.07 283.42,72.58 284.10,71.85 C284.78,71.13 284.93,70.03 285.60,68.84 C286.27,67.65 287.18,65.61 288.10,64.72 C289.02,63.83 289.92,63.74 291.10,63.50 C292.28,63.25 293.85,63.25 295.20,63.26 C296.55,63.26 297.85,63.00 299.20,63.52 C300.55,64.03 301.95,65.60 303.30,66.37 C304.65,67.14 305.78,67.73 307.30,68.13 C308.82,68.53 310.72,68.80 312.40,68.78 C314.08,68.76 315.88,68.29 317.40,68.03 C318.92,67.76 319.97,67.20 321.50,67.20 C323.03,67.20 325.75,67.87 326.60,68.00" fill="none" stroke="#0000FF" stroke-width="0.7" stroke-opacity="0.9" stroke-linejoin="round" stroke-linecap="round"/><path d="M241.00,67.20 C241.52,67.12 243.08,67.12 244.10,66.70 C245.12,66.28 246.10,65.53 247.10,64.70 C248.10,63.87 249.25,62.32 250.10,61.70 C250.95,61.08 251.43,60.97 252.20,61.00 C252.97,61.03 253.70,61.28 254.70,61.90 C255.70,62.52 256.77,63.78 258.20,64.70 C259.63,65.62 261.60,66.68 263.30,67.40 C265.00,68.12 266.72,68.48 268.40,69.00 C270.08,69.52 271.72,69.98 273.40,70.50 C275.08,71.02 277.15,71.72 278.50,72.10 C279.85,72.48 280.57,72.90 281.50,72.80 C282.43,72.70 283.42,72.22 284.10,71.50 C284.78,70.78 284.93,69.68 285.60,68.50 C286.27,67.32 287.18,65.28 288.10,64.40 C289.02,63.52 289.92,63.43 291.10,63.20 C292.28,62.97 293.85,62.98 295.20,63.00 C296.55,63.02 297.85,62.77 299.20,63.30 C300.55,63.83 301.95,65.42 303.30,66.20 C304.65,66.98 305.78,67.58 307.30,68.00 C308.82,68.42 310.72,68.70 312.40,68.70 C314.08,68.70 315.88,68.25 317.40,68.00 C318.92,67.75 319.97,67.20 321.50,67.20 C323.03,67.20 325.75,67.87 326.60,68.00" fill="none" stroke="#800080" stroke-width="0.7" stroke-opacity="0.9" stroke-linejoin="round" stroke-linecap="round"/>
<line x1="240.1" y1="100" x2="240.1" y2="152" class="axis"/>
<line x1="241" y1="127.4" x2="328.3" y2="127.4" class="zero"/>
<line x1="238.29999999999998" y1="113.40" x2="242.29999999999998" y2="113.40" class="tick"/>
<text x="236.29999999999998" y="117.00" class="tl" text-anchor="end">1</text>
<line x1="238.29999999999998" y1="127.40" x2="242.29999999999998" y2="127.40" class="tick"/>
<text x="236.29999999999998" y="131.00" class="tl" text-anchor="end">0</text>
<line x1="238.29999999999998" y1="141.40" x2="242.29999999999998" y2="141.40" class="tick"/>
<text x="236.29999999999998" y="145.00" class="tl" text-anchor="end">-1</text>
<line x1="238.29999999999998" y1="155.40" x2="242.29999999999998" y2="155.40" class="tick"/>
<text x="236.29999999999998" y="159.00" class="tl" text-anchor="end">-2</text>
<path d="M241.00,126.90 C241.37,126.49 242.45,124.78 243.20,124.43 C243.95,124.07 244.73,124.32 245.50,124.79 C246.27,125.26 246.93,127.04 247.80,127.24 C248.67,127.44 249.63,126.67 250.70,125.99 C251.77,125.30 252.85,123.46 254.20,123.12 C255.55,122.78 256.68,123.66 258.80,123.95 C260.92,124.24 264.20,124.73 266.90,124.86 C269.60,124.99 272.73,124.98 275.00,124.73 C277.27,124.48 278.90,123.04 280.50,123.35 C282.10,123.66 283.23,125.82 284.60,126.61 C285.97,127.41 287.35,128.27 288.70,128.10 C290.05,127.93 291.25,126.20 292.70,125.60 C294.15,125.00 295.67,124.66 297.40,124.50 C299.13,124.34 301.37,124.69 303.10,124.66 C304.83,124.62 306.43,123.96 307.80,124.29 C309.17,124.62 310.15,125.49 311.30,126.66 C312.45,127.84 313.35,129.93 314.70,131.33 C316.05,132.74 318.05,134.60 319.40,135.07 C320.75,135.54 321.65,135.03 322.80,134.17 C323.95,133.31 325.72,130.61 326.30,129.90 L326.30,130.40 C325.72,132.10 323.95,138.27 322.80,140.60 C321.65,142.93 320.75,144.64 319.40,144.40 C318.05,144.16 316.05,141.06 314.70,139.19 C313.35,137.32 312.45,134.63 311.30,133.18 C310.15,131.73 309.17,130.80 307.80,130.47 C306.43,130.15 304.83,131.07 303.10,131.23 C301.37,131.39 299.13,131.08 297.40,131.42 C295.67,131.76 294.15,132.34 292.70,133.26 C291.25,134.17 290.05,136.69 288.70,136.90 C287.35,137.11 285.97,135.71 284.60,134.54 C283.23,133.36 282.10,130.46 280.50,129.86 C278.90,129.25 277.27,130.73 275.00,130.90 C272.73,131.07 269.60,131.02 266.90,130.90 C264.20,130.78 260.92,130.38 258.80,130.17 C256.68,129.97 255.55,129.15 254.20,129.66 C252.85,130.18 251.77,132.21 250.70,133.25 C249.63,134.29 248.67,136.04 247.80,135.90 C246.93,135.76 246.27,133.61 245.50,132.43 C244.73,131.24 243.95,129.57 243.20,128.82 C242.45,128.06 241.37,128.05 241.00,127.90 Z" fill="#BE98C4" fill-opacity="0.61" stroke="none"/><path d="M241.00,127.40 C241.37,127.34 242.45,126.70 243.20,127.01 C243.95,127.32 244.73,128.34 245.50,129.26 C246.27,130.17 246.93,132.31 247.80,132.50 C248.67,132.69 249.63,131.39 250.70,130.41 C251.77,129.43 252.85,127.08 254.20,126.61 C255.55,126.13 256.68,127.22 258.80,127.55 C260.92,127.88 264.20,128.47 266.90,128.60 C269.60,128.74 272.73,128.67 275.00,128.37 C277.27,128.07 278.90,126.47 280.50,126.80 C282.10,127.12 283.23,129.43 284.60,130.32 C285.97,131.20 287.35,132.22 288.70,132.10 C290.05,131.98 291.25,130.20 292.70,129.60 C294.15,129.00 295.67,128.68 297.40,128.50 C299.13,128.32 301.37,128.60 303.10,128.50 C304.83,128.40 306.43,127.63 307.80,127.90 C309.17,128.17 310.15,128.98 311.30,130.10 C312.45,131.22 313.35,133.34 314.70,134.60 C316.05,135.86 318.05,137.53 319.40,137.68 C320.75,137.83 321.65,136.80 322.80,135.50 C323.95,134.20 325.72,130.83 326.30,129.90" fill="none" stroke="#FFA500" stroke-width="0.7" stroke-opacity="0.9" stroke-linejoin="round" stroke-linecap="round"/><path d="M241.00,127.40 C241.37,127.25 242.45,126.36 243.20,126.49 C243.95,126.62 244.73,127.45 245.50,128.19 C246.27,128.92 246.93,130.65 247.80,130.88 C248.67,131.11 249.63,130.29 250.70,129.58 C251.77,128.87 252.85,127.01 254.20,126.62 C255.55,126.22 256.68,127.04 258.80,127.21 C260.92,127.38 264.20,127.57 266.90,127.64 C269.60,127.71 272.73,127.80 275.00,127.61 C277.27,127.43 278.90,126.13 280.50,126.53 C282.10,126.94 283.23,129.18 284.60,130.02 C285.97,130.87 287.35,131.76 288.70,131.59 C290.05,131.42 291.25,129.63 292.70,129.01 C294.15,128.38 295.67,128.03 297.40,127.81 C299.13,127.60 301.37,127.79 303.10,127.70 C304.83,127.62 306.43,126.99 307.80,127.33 C309.17,127.66 310.15,128.52 311.30,129.69 C312.45,130.86 313.35,132.95 314.70,134.35 C316.05,135.75 318.05,137.80 319.40,138.07 C320.75,138.35 321.65,137.28 322.80,136.00 C323.95,134.72 325.72,131.33 326.30,130.40" fill="none" stroke="#FF0000" stroke-width="0.7" stroke-opacity="0.9" stroke-linejoin="round" stroke-linecap="round"/><path d="M241.00,127.40 C241.37,127.24 242.45,126.32 243.20,126.43 C243.95,126.54 244.73,127.35 245.50,128.06 C246.27,128.77 246.93,130.45 247.80,130.69 C248.67,130.93 249.63,130.16 250.70,129.50 C251.77,128.84 252.85,127.03 254.20,126.70 C255.55,126.37 256.68,127.23 258.80,127.50 C260.92,127.77 264.20,128.17 266.90,128.30 C269.60,128.43 272.73,128.48 275.00,128.27 C277.27,128.06 278.90,126.68 280.50,127.04 C282.10,127.40 283.23,129.61 284.60,130.42 C285.97,131.23 287.35,132.07 288.70,131.89 C290.05,131.72 291.25,129.97 292.70,129.36 C294.15,128.74 295.67,128.41 297.40,128.21 C299.13,128.01 301.37,128.27 303.10,128.16 C304.83,128.04 306.43,127.26 307.80,127.51 C309.17,127.77 310.15,128.58 311.30,129.68 C312.45,130.79 313.35,132.83 314.70,134.15 C316.05,135.47 318.05,137.38 319.40,137.61 C320.75,137.83 321.65,136.78 322.80,135.50 C323.95,134.22 325.72,130.83 326.30,129.90" fill="none" stroke="#008000" stroke-width="0.7" stroke-opacity="0.9" stroke-linejoin="round" stroke-linecap="round"/><path d="M241.00,127.40 C241.37,127.23 242.45,126.30 243.20,126.39 C243.95,126.49 244.73,127.29 245.50,127.99 C246.27,128.69 246.93,130.36 247.80,130.59 C248.67,130.82 249.63,130.06 250.70,129.39 C251.77,128.72 252.85,126.91 254.20,126.57 C255.55,126.23 256.68,127.09 258.80,127.35 C260.92,127.61 264.20,127.99 266.90,128.11 C269.60,128.24 272.73,128.30 275.00,128.10 C277.27,127.90 278.90,126.53 280.50,126.90 C282.10,127.27 283.23,129.48 284.60,130.30 C285.97,131.12 287.35,131.97 288.70,131.80 C290.05,131.63 291.25,129.90 292.70,129.30 C294.15,128.70 295.67,128.38 297.40,128.20 C299.13,128.02 301.37,128.30 303.10,128.20 C304.83,128.10 306.43,127.33 307.80,127.60 C309.17,127.87 310.15,128.68 311.30,129.80 C312.45,130.92 313.35,132.97 314.70,134.30 C316.05,135.63 318.05,137.57 319.40,137.80 C320.75,138.03 321.65,136.98 322.80,135.70 C323.95,134.42 325.72,131.03 326.30,130.10" fill="none" stroke="#0000FF" stroke-width="0.7" stroke-opacity="0.9" stroke-linejoin="round" stroke-linecap="round"/><path d="M241.00,127.40 C241.37,127.22 242.45,126.23 243.20,126.30 C243.95,126.37 244.73,127.13 245.50,127.80 C246.27,128.47 246.93,130.08 247.80,130.30 C248.67,130.52 249.63,129.77 250.70,129.10 C251.77,128.43 252.85,126.63 254.20,126.30 C255.55,125.97 256.68,126.83 258.80,127.10 C260.92,127.37 264.20,127.77 266.90,127.90 C269.60,128.03 272.73,128.10 275.00,127.90 C277.27,127.70 278.90,126.33 280.50,126.70 C282.10,127.07 283.23,129.28 284.60,130.10 C285.97,130.92 287.35,131.77 288.70,131.60 C290.05,131.43 291.25,129.70 292.70,129.10 C294.15,128.50 295.67,128.18 297.40,128.00 C299.13,127.82 301.37,128.10 303.10,128.00 C304.83,127.90 306.43,127.13 307.80,127.40 C309.17,127.67 310.15,128.48 311.30,129.60 C312.45,130.72 313.35,132.77 314.70,134.10 C316.05,135.43 318.05,137.37 319.40,137.60 C320.75,137.83 321.65,136.78 322.80,135.50 C323.95,134.22 325.72,130.83 326.30,129.90" fill="none" stroke="#800080" stroke-width="0.7" stroke-opacity="0.9" stroke-linejoin="round" stroke-linecap="round"/>
<line x1="240.1" y1="163" x2="240.1" y2="214" class="axis"/>
<line x1="241" y1="188.6" x2="328.3" y2="188.6" class="zero"/>
<line x1="238.29999999999998" y1="174.10" x2="242.29999999999998" y2="174.10" class="tick"/>
<text x="236.29999999999998" y="177.70" class="tl" text-anchor="end">1</text>
<line x1="238.29999999999998" y1="188.60" x2="242.29999999999998" y2="188.60" class="tick"/>
<text x="236.29999999999998" y="192.20" class="tl" text-anchor="end">0</text>
<line x1="238.29999999999998" y1="203.10" x2="242.29999999999998" y2="203.10" class="tick"/>
<text x="236.29999999999998" y="206.70" class="tl" text-anchor="end">-1</text>
<line x1="238.29999999999998" y1="217.60" x2="242.29999999999998" y2="217.60" class="tick"/>
<text x="236.29999999999998" y="221.20" class="tl" text-anchor="end">-2</text>
<path d="M240.00,188.70 C240.97,188.48 243.97,187.27 245.80,187.40 C247.63,187.53 248.68,188.85 251.00,189.50 C253.32,190.15 256.82,191.43 259.70,191.30 C262.58,191.17 265.85,188.57 268.30,188.70 C270.75,188.83 272.52,191.02 274.40,192.10 C276.28,193.18 278.17,196.22 279.60,195.20 C281.03,194.18 281.93,189.37 283.00,186.00 C284.07,182.63 285.08,177.92 286.00,175.00 C286.92,172.08 287.75,169.92 288.50,168.50 C289.25,167.08 289.75,166.42 290.50,166.50 C291.25,166.58 292.25,167.58 293.00,169.00 C293.75,170.42 294.33,172.17 295.00,175.00 C295.67,177.83 296.33,183.67 297.00,186.00 C297.67,188.33 298.00,188.45 299.00,189.00 C300.00,189.55 302.33,189.25 303.00,189.30 L303.00,190.00 C302.17,190.33 299.25,191.67 298.00,192.00 C296.75,192.33 296.33,193.17 295.50,192.00 C294.67,190.83 293.92,186.00 293.00,185.00 C292.08,184.00 291.00,184.33 290.00,186.00 C289.00,187.67 288.00,191.83 287.00,195.00 C286.00,198.17 284.80,202.58 284.00,205.00 C283.20,207.42 282.93,209.05 282.20,209.50 C281.47,209.95 280.90,208.87 279.60,207.70 C278.30,206.53 276.28,204.23 274.40,202.50 C272.52,200.77 270.32,198.02 268.30,197.30 C266.28,196.58 264.47,198.77 262.30,198.20 C260.13,197.63 257.90,194.40 255.30,193.90 C252.70,193.40 249.25,195.35 246.70,195.20 C244.15,195.05 241.12,193.37 240.00,193.00 Z" fill="#B9A3CF" fill-opacity="0.57" stroke="none"/><path d="M275.00,193.00 C275.83,191.50 278.67,187.50 280.00,184.00 C281.33,180.50 282.08,175.00 283.00,172.00 C283.92,169.00 284.67,166.67 285.50,166.00 C286.33,165.33 287.08,166.00 288.00,168.00 C288.92,170.00 290.00,174.67 291.00,178.00 C292.00,181.33 293.00,186.00 294.00,188.00 C295.00,190.00 296.50,189.67 297.00,190.00 L297.00,190.50 C296.33,189.83 294.38,188.85 293.00,186.50 C291.62,184.15 289.78,178.68 288.70,176.40 C287.62,174.12 287.47,172.32 286.50,172.80 C285.53,173.28 283.98,176.53 282.90,179.30 C281.82,182.07 280.82,187.12 280.00,189.40 C279.18,191.68 278.83,191.95 278.00,193.00 C277.17,194.05 275.50,195.25 275.00,195.70 Z" fill="#FFCF8A" fill-opacity="0.47" stroke="none"/><path d="M310.00,189.40 C311.00,189.17 314.00,188.00 316.00,188.00 C318.00,188.00 321.00,189.17 322.00,189.40 L322.00,189.80 C321.00,190.05 318.00,191.30 316.00,191.30 C314.00,191.30 311.00,190.05 310.00,189.80 Z" fill="#B895C8" fill-opacity="0.65" stroke="none"/><path d="M241.00,190.00 C241.70,190.18 243.53,190.72 245.20,191.10 C246.87,191.48 249.07,192.23 251.00,192.30 C252.93,192.37 255.12,191.47 256.80,191.50 C258.48,191.53 259.42,192.33 261.10,192.50 C262.78,192.67 264.97,192.25 266.90,192.50 C268.83,192.75 271.25,193.55 272.70,194.00 C274.15,194.45 274.72,195.45 275.60,195.20 C276.48,194.95 277.27,193.55 278.00,192.50 C278.73,191.45 279.18,191.18 280.00,188.90 C280.82,186.62 281.82,181.57 282.90,178.80 C283.98,176.03 285.53,172.78 286.50,172.30 C287.47,171.82 287.62,173.62 288.70,175.90 C289.78,178.18 291.80,183.72 293.00,186.00 C294.20,188.28 294.73,188.93 295.90,189.60 C297.07,190.27 296.63,190.00 300.00,190.00 C303.37,190.00 311.73,189.67 316.10,189.60 C320.47,189.53 324.52,189.60 326.20,189.60" fill="none" stroke="#FFA500" stroke-width="0.7" stroke-opacity="0.9" stroke-linejoin="round" stroke-linecap="round"/><path d="M241.00,190.00 C241.70,190.18 243.53,190.70 245.20,191.10 C246.87,191.50 249.07,192.28 251.00,192.40 C252.93,192.52 255.12,191.53 256.80,191.80 C258.48,192.07 259.42,193.47 261.10,194.00 C262.78,194.53 264.97,194.47 266.90,195.00 C268.83,195.53 271.18,196.43 272.70,197.19 C274.22,197.96 275.12,198.96 276.00,199.60 C276.88,200.24 277.40,200.74 278.00,201.03 C278.60,201.31 279.12,201.47 279.60,201.33 C280.08,201.19 280.50,201.00 280.90,200.19 C281.30,199.38 281.57,198.55 282.02,196.47 C282.48,194.39 283.03,190.75 283.63,187.70 C284.24,184.65 284.99,180.49 285.64,178.15 C286.29,175.81 286.96,174.38 287.55,173.69 C288.13,173.00 288.55,173.38 289.13,174.04 C289.71,174.70 290.29,175.94 291.03,177.62 C291.77,179.31 292.72,182.26 293.57,184.12 C294.41,185.99 295.23,187.80 296.10,188.80 C296.97,189.80 297.63,189.97 298.80,190.10 C299.97,190.23 300.22,189.68 303.10,189.60 C305.98,189.52 312.25,189.60 316.10,189.60 C319.95,189.60 324.52,189.60 326.20,189.60" fill="none" stroke="#FF0000" stroke-width="0.7" stroke-opacity="0.9" stroke-linejoin="round" stroke-linecap="round"/><path d="M241.00,190.00 C241.70,190.18 243.53,190.70 245.20,191.10 C246.87,191.50 249.07,192.28 251.00,192.40 C252.93,192.52 255.12,191.53 256.80,191.80 C258.48,192.07 259.42,193.47 261.10,194.00 C262.78,194.53 264.97,194.44 266.90,195.00 C268.83,195.56 271.18,196.55 272.70,197.38 C274.22,198.22 275.08,199.31 276.00,200.02 C276.92,200.73 277.54,201.27 278.20,201.62 C278.86,201.97 279.43,202.17 279.96,202.12 C280.49,202.06 280.95,201.98 281.39,201.27 C281.83,200.55 282.14,199.79 282.63,197.81 C283.12,195.83 283.71,192.35 284.33,189.37 C284.94,186.39 285.66,182.32 286.31,179.93 C286.95,177.53 287.61,175.81 288.18,174.98 C288.76,174.15 289.18,174.43 289.75,174.97 C290.32,175.50 290.89,176.64 291.58,178.21 C292.28,179.78 293.14,182.61 293.92,184.38 C294.69,186.14 295.44,187.85 296.25,188.80 C297.06,189.75 297.66,189.97 298.80,190.10 C299.94,190.23 300.22,189.68 303.10,189.60 C305.98,189.52 312.25,189.60 316.10,189.60 C319.95,189.60 324.52,189.60 326.20,189.60" fill="none" stroke="#008000" stroke-width="0.7" stroke-opacity="0.9" stroke-linejoin="round" stroke-linecap="round"/><path d="M241.00,190.00 C241.70,190.18 243.53,190.70 245.20,191.10 C246.87,191.50 249.07,192.28 251.00,192.40 C252.93,192.52 255.12,191.53 256.80,191.80 C258.48,192.07 259.42,193.47 261.10,194.00 C262.78,194.53 264.97,194.42 266.90,195.00 C268.83,195.58 271.18,196.62 272.70,197.49 C274.22,198.37 275.06,199.52 276.00,200.26 C276.94,201.00 277.65,201.58 278.35,201.96 C279.06,202.34 279.65,202.57 280.23,202.52 C280.81,202.47 281.32,202.40 281.81,201.69 C282.30,200.98 282.66,200.23 283.20,198.25 C283.73,196.27 284.39,192.80 285.01,189.82 C285.63,186.85 286.31,182.79 286.94,180.40 C287.56,178.01 288.20,176.31 288.76,175.47 C289.32,174.64 289.74,174.90 290.28,175.40 C290.83,175.90 291.39,176.98 292.04,178.50 C292.70,180.02 293.49,182.78 294.21,184.50 C294.93,186.22 295.61,187.87 296.38,188.80 C297.14,189.73 297.68,189.97 298.80,190.10 C299.92,190.23 300.22,189.68 303.10,189.60 C305.98,189.52 312.25,189.60 316.10,189.60 C319.95,189.60 324.52,189.60 326.20,189.60" fill="none" stroke="#0000FF" stroke-width="0.7" stroke-opacity="0.9" stroke-linejoin="round" stroke-linecap="round"/><path d="M241.00,190.00 C241.70,190.18 243.53,190.70 245.20,191.10 C246.87,191.50 249.07,192.28 251.00,192.40 C252.93,192.52 255.12,191.53 256.80,191.80 C258.48,192.07 259.42,193.47 261.10,194.00 C262.78,194.53 264.97,194.40 266.90,195.00 C268.83,195.60 271.18,196.68 272.70,197.60 C274.22,198.52 275.03,199.72 276.00,200.50 C276.97,201.28 277.75,201.90 278.50,202.30 C279.25,202.70 279.88,202.95 280.50,202.90 C281.12,202.85 281.67,202.73 282.20,202.00 C282.73,201.27 283.13,200.50 283.70,198.50 C284.27,196.50 284.97,193.00 285.60,190.00 C286.23,187.00 286.88,182.92 287.50,180.50 C288.12,178.08 288.75,176.35 289.30,175.50 C289.85,174.65 290.27,174.90 290.80,175.40 C291.33,175.90 291.88,176.98 292.50,178.50 C293.12,180.02 293.83,182.78 294.50,184.50 C295.17,186.22 295.78,187.87 296.50,188.80 C297.22,189.73 297.70,189.97 298.80,190.10 C299.90,190.23 300.22,189.68 303.10,189.60 C305.98,189.52 312.25,189.60 316.10,189.60 C319.95,189.60 324.52,189.60 326.20,189.60" fill="none" stroke="#800080" stroke-width="0.7" stroke-opacity="0.9" stroke-linejoin="round" stroke-linecap="round"/>
<line x1="240.1" y1="226" x2="240.1" y2="275" class="axis"/>
<line x1="241" y1="250.0" x2="328.3" y2="250.0" class="zero"/>
<line x1="238.29999999999998" y1="235.40" x2="242.29999999999998" y2="235.40" class="tick"/>
<text x="236.29999999999998" y="239.00" class="tl" text-anchor="end">0.03</text>
<line x1="238.29999999999998" y1="250.00" x2="242.29999999999998" y2="250.00" class="tick"/>
<text x="236.29999999999998" y="253.60" class="tl" text-anchor="end">0</text>
<line x1="238.29999999999998" y1="264.60" x2="242.29999999999998" y2="264.60" class="tick"/>
<text x="236.29999999999998" y="268.20" class="tl" text-anchor="end">-0.03</text>
<line x1="238.29999999999998" y1="279.20" x2="242.29999999999998" y2="279.20" class="tick"/>
<path d="M276.00,249.50 C276.83,248.75 279.37,246.63 281.00,245.00 C282.63,243.37 284.53,240.20 285.80,239.70 C287.07,239.20 287.78,240.28 288.60,242.00 C289.42,243.72 290.07,247.67 290.70,250.00 C291.33,252.33 291.70,255.33 292.40,256.00 C293.10,256.67 294.03,254.83 294.90,254.00 C295.77,253.17 297.15,251.50 297.60,251.00 L297.60,252.00 C297.15,253.67 295.77,259.33 294.90,262.00 C294.03,264.67 293.10,268.33 292.40,268.00 C291.70,267.67 291.33,263.00 290.70,260.00 C290.07,257.00 289.42,252.42 288.60,250.00 C287.78,247.58 287.07,245.75 285.80,245.50 C284.53,245.25 282.63,247.67 281.00,248.50 C279.37,249.33 276.83,250.17 276.00,250.50 Z" fill="#8FD08F" fill-opacity="0.34" stroke="none"/><path d="M241.00,250.40 C246.28,250.40 266.73,250.57 272.70,250.40 C278.67,250.23 275.42,250.03 276.80,249.40 C278.18,248.77 279.88,247.58 281.00,246.60 C282.12,245.62 282.70,244.23 283.50,243.50 C284.30,242.77 285.13,242.20 285.80,242.20 C286.47,242.20 287.03,242.98 287.50,243.50 C287.97,244.02 288.07,243.62 288.60,245.30 C289.13,246.98 290.07,250.77 290.70,253.60 C291.33,256.43 291.93,260.90 292.40,262.30 C292.87,263.70 293.08,262.77 293.50,262.00 C293.92,261.23 294.22,259.45 294.90,257.70 C295.58,255.95 296.75,252.72 297.60,251.50 C298.45,250.28 295.13,250.58 300.00,250.40 C304.87,250.22 322.33,250.40 326.80,250.40" fill="none" stroke="#008000" stroke-width="0.7" stroke-opacity="0.9" stroke-linejoin="round" stroke-linecap="round"/><path d="M272.70,250.40 C273.92,250.30 277.82,250.07 280.00,249.80 C282.18,249.53 284.30,248.85 285.80,248.80 C287.30,248.75 287.88,248.93 289.00,249.50 C290.12,250.07 291.50,251.78 292.50,252.20 C293.50,252.62 294.08,252.27 295.00,252.00 C295.92,251.73 297.17,250.87 298.00,250.60 C298.83,250.33 299.67,250.43 300.00,250.40" fill="none" stroke="#0000FF" stroke-width="0.7" stroke-opacity="0.9" stroke-linejoin="round" stroke-linecap="round"/><path d="M241.00,250.40 C246.28,250.40 266.53,250.47 272.70,250.40 C278.87,250.33 276.45,250.23 278.00,250.00 C279.55,249.77 280.70,249.45 282.00,249.00 C283.30,248.55 284.72,247.43 285.80,247.30 C286.88,247.17 287.45,247.08 288.50,248.20 C289.55,249.32 291.10,253.20 292.10,254.00 C293.10,254.80 293.58,253.50 294.50,253.00 C295.42,252.50 296.68,251.43 297.60,251.00 C298.52,250.57 295.13,250.50 300.00,250.40 C304.87,250.30 322.33,250.40 326.80,250.40" fill="none" stroke="#FF0000" stroke-width="0.7" stroke-opacity="0.9" stroke-linejoin="round" stroke-linecap="round"/>
<path d="M241,294.59999999999997 V297.2 H328.3 V294.59999999999997 M283.52,297.2 V294.59999999999997" class="xaxis"/>
<text x="240.40" y="295.1" class="tl" text-anchor="middle">0</text>
<text x="283.52" y="295.1" class="tl" text-anchor="middle">50</text>
<text x="327.30" y="295.1" class="tl" text-anchor="middle">100</text>
<text x="283.95" y="311.0" class="xl" text-anchor="middle">%Gait Progress</text>
<text transform="translate(12.80,64.60) rotate(-90)" x="0" y="0" class="row" text-anchor="middle">Hip</text>
<text transform="translate(12.80,119.30) rotate(-90)" x="0" y="0" class="row" text-anchor="middle">Knee</text>
<text transform="translate(10.60,184.80) rotate(-90)" x="0" y="0" class="row" text-anchor="middle">Ankle</text>
<text transform="translate(10.60,246.60) rotate(-90)" x="0" y="0" class="row" text-anchor="middle">Toe</text>
<text x="167" y="341.2" class="cap" text-anchor="middle">(a) Group 1</text>
<text x="429.3" y="39.65" class="title" text-anchor="middle">Angle</text>
<text x="381.7" y="30.0" class="unit" text-anchor="middle">(deg)</text>
<line x1="387.3" y1="37.8" x2="387.3" y2="89.4" class="axis"/>
<line x1="388.5" y1="64.7" x2="475.2" y2="64.7" class="zero"/>
<line x1="385.5" y1="36.10" x2="389.5" y2="36.10" class="tick"/>
<text x="383.5" y="39.70" class="tl" text-anchor="end">60</text>
<line x1="385.5" y1="50.40" x2="389.5" y2="50.40" class="tick"/>
<text x="383.5" y="54.00" class="tl" text-anchor="end">30</text>
<line x1="385.5" y1="64.70" x2="389.5" y2="64.70" class="tick"/>
<text x="383.5" y="68.30" class="tl" text-anchor="end">0</text>
<line x1="385.5" y1="79.00" x2="389.5" y2="79.00" class="tick"/>
<text x="383.5" y="82.60" class="tl" text-anchor="end">- 30</text>
<line x1="385.5" y1="93.30" x2="389.5" y2="93.30" class="tick"/>
<text x="383.5" y="96.90" class="tl" text-anchor="end">- 60</text>
<path d="M395.00,65.00 C396.68,65.52 401.73,67.25 405.10,68.10 C408.47,68.95 411.83,69.68 415.20,70.10 C418.57,70.52 421.93,70.60 425.30,70.60 C428.67,70.60 432.37,70.35 435.40,70.10 C438.43,69.85 441.30,69.77 443.50,69.10 C445.70,68.43 447.75,66.60 448.60,66.10 L448.60,66.10 C448.10,67.62 446.95,72.33 445.60,75.20 C444.25,78.07 442.20,81.28 440.50,83.30 C438.80,85.32 437.42,86.72 435.40,87.30 C433.38,87.88 430.92,87.55 428.40,86.80 C425.88,86.05 423.33,84.40 420.30,82.80 C417.27,81.20 413.57,79.48 410.20,77.20 C406.83,74.92 401.78,70.45 400.10,69.10 Z" fill="#D4BCDD" fill-opacity="0.61" stroke="none"/><path d="M436.00,71.00 C437.00,70.75 440.33,70.17 442.00,69.50 C443.67,68.83 445.33,67.42 446.00,67.00 L446.00,70.00 C445.17,71.33 442.67,76.83 441.00,78.00 C439.33,79.17 436.83,77.17 436.00,77.00 Z" fill="#C8C8F4" fill-opacity="0.34" stroke="none"/><path d="M405.00,68.10 C406.67,68.43 411.67,69.68 415.00,70.10 C418.33,70.52 421.67,70.60 425.00,70.60 C428.33,70.60 433.33,70.18 435.00,70.10 L435.00,71.00 C433.33,71.08 428.33,71.50 425.00,71.50 C421.67,71.50 418.33,71.42 415.00,71.00 C411.67,70.58 406.67,69.33 405.00,69.00 Z" fill="#FFCF8A" fill-opacity="0.16" stroke="none"/><path d="M388.80,64.80 C389.52,64.87 391.80,64.93 393.10,65.20 C394.40,65.47 395.25,65.73 396.60,66.44 C397.95,67.15 399.28,68.16 401.20,69.47 C403.12,70.77 405.78,72.83 408.10,74.25 C410.42,75.67 412.78,76.93 415.10,77.97 C417.42,79.01 419.68,79.95 422.00,80.50 C424.32,81.05 427.19,81.23 429.00,81.30 C430.81,81.37 431.77,81.18 432.88,80.91 C433.99,80.64 434.67,80.36 435.67,79.69 C436.66,79.02 437.35,78.41 438.86,76.89 C440.37,75.37 442.80,72.61 444.74,70.55 C446.67,68.49 448.77,65.92 450.48,64.54 C452.20,63.15 453.33,62.58 455.01,62.23 C456.70,61.87 458.70,62.23 460.60,62.39 C462.50,62.55 464.87,62.90 466.40,63.21 C467.93,63.53 468.55,64.04 469.80,64.26 C471.05,64.48 473.22,64.47 473.90,64.51" fill="none" stroke="#FFA500" stroke-width="0.7" stroke-opacity="0.9" stroke-linejoin="round" stroke-linecap="round"/><path d="M388.80,64.80 C389.52,64.87 391.80,64.92 393.10,65.20 C394.40,65.48 395.25,65.74 396.60,66.46 C397.95,67.18 399.28,68.21 401.20,69.53 C403.12,70.85 405.78,72.95 408.10,74.39 C410.42,75.82 412.78,77.09 415.10,78.14 C417.42,79.20 419.68,80.09 422.00,80.70 C424.32,81.31 427.18,81.65 429.00,81.80 C430.82,81.95 431.79,81.79 432.91,81.57 C434.03,81.35 434.71,81.15 435.72,80.46 C436.73,79.77 437.42,79.03 438.94,77.43 C440.47,75.83 442.92,72.99 444.87,70.88 C446.83,68.77 448.96,66.27 450.67,64.77 C452.38,63.27 453.46,62.49 455.12,61.87 C456.78,61.24 458.72,60.94 460.60,61.00 C462.48,61.06 464.87,61.75 466.40,62.20 C467.93,62.65 468.55,63.32 469.80,63.70 C471.05,64.08 473.22,64.37 473.90,64.50" fill="none" stroke="#008000" stroke-width="0.7" stroke-opacity="0.9" stroke-linejoin="round" stroke-linecap="round"/><path d="M388.80,64.80 C389.52,64.87 391.80,64.92 393.10,65.20 C394.40,65.48 395.25,65.74 396.60,66.47 C397.95,67.21 399.28,68.25 401.20,69.59 C403.12,70.93 405.78,73.04 408.10,74.51 C410.42,75.99 412.78,77.33 415.10,78.44 C417.42,79.55 419.68,80.54 422.00,81.20 C424.32,81.86 427.17,82.22 429.00,82.41 C430.83,82.60 431.83,82.51 432.97,82.33 C434.11,82.15 434.81,82.02 435.83,81.34 C436.85,80.66 437.57,79.92 439.12,78.27 C440.66,76.61 443.14,73.59 445.11,71.42 C447.08,69.25 449.26,66.80 450.95,65.27 C452.65,63.74 453.67,62.91 455.28,62.23 C456.89,61.54 458.75,61.16 460.60,61.17 C462.45,61.18 464.87,61.86 466.40,62.30 C467.93,62.73 468.55,63.38 469.80,63.75 C471.05,64.12 473.22,64.38 473.90,64.50" fill="none" stroke="#800080" stroke-width="0.7" stroke-opacity="0.9" stroke-linejoin="round" stroke-linecap="round"/><path d="M388.80,64.80 C389.52,64.87 391.80,64.92 393.10,65.20 C394.40,65.48 395.25,65.74 396.60,66.46 C397.95,67.19 399.28,68.22 401.20,69.55 C403.12,70.87 405.78,72.97 408.10,74.42 C410.42,75.88 412.78,77.20 415.10,78.30 C417.42,79.39 419.68,80.35 422.00,81.00 C424.32,81.65 427.18,82.03 429.00,82.21 C430.82,82.39 431.81,82.27 432.94,82.08 C434.07,81.89 434.76,81.72 435.77,81.05 C436.79,80.38 437.49,79.67 439.03,78.03 C440.57,76.39 443.04,73.37 445.01,71.22 C446.98,69.07 449.15,66.67 450.85,65.14 C452.56,63.62 453.60,62.77 455.23,62.08 C456.85,61.39 458.74,60.98 460.60,61.00 C462.46,61.02 464.87,61.75 466.40,62.20 C467.93,62.65 468.55,63.32 469.80,63.70 C471.05,64.08 473.22,64.37 473.90,64.50" fill="none" stroke="#FF0000" stroke-width="0.7" stroke-opacity="0.9" stroke-linejoin="round" stroke-linecap="round"/><path d="M388.80,64.80 C389.52,64.87 391.80,64.93 393.10,65.20 C394.40,65.47 395.25,65.72 396.60,66.40 C397.95,67.08 399.28,68.05 401.20,69.30 C403.12,70.55 405.78,72.55 408.10,73.90 C410.42,75.25 412.78,76.43 415.10,77.40 C417.42,78.37 419.68,79.22 422.00,79.70 C424.32,80.18 427.20,80.28 429.00,80.30 C430.80,80.32 431.72,80.10 432.80,79.80 C433.88,79.50 434.53,79.25 435.50,78.50 C436.47,77.75 437.12,76.83 438.60,75.30 C440.08,73.77 442.48,71.18 444.40,69.30 C446.32,67.42 448.37,65.28 450.10,64.00 C451.83,62.72 453.05,62.10 454.80,61.60 C456.55,61.10 458.67,60.90 460.60,61.00 C462.53,61.10 464.87,61.75 466.40,62.20 C467.93,62.65 468.55,63.32 469.80,63.70 C471.05,64.08 473.22,64.37 473.90,64.50" fill="none" stroke="#0000FF" stroke-width="0.7" stroke-opacity="0.9" stroke-linejoin="round" stroke-linecap="round"/>
<line x1="387.3" y1="102.10000000000001" x2="387.3" y2="150.4" class="axis"/>
<line x1="388.5" y1="111.4" x2="475.2" y2="111.4" class="zero"/>
<line x1="385.5" y1="111.40" x2="389.5" y2="111.40" class="tick"/>
<text x="383.5" y="115.00" class="tl" text-anchor="end">0</text>
<line x1="385.5" y1="125.85" x2="389.5" y2="125.85" class="tick"/>
<text x="383.5" y="129.45" class="tl" text-anchor="end">- 30</text>
<line x1="385.5" y1="140.30" x2="389.5" y2="140.30" class="tick"/>
<text x="383.5" y="143.90" class="tl" text-anchor="end">- 60</text>
<line x1="385.5" y1="154.75" x2="389.5" y2="154.75" class="tick"/>
<text x="383.5" y="158.35" class="tl" text-anchor="end">- 90</text>
<path d="M388.60,111.60 C389.15,112.08 390.57,113.53 391.90,114.50 C393.23,115.47 395.25,116.83 396.60,117.40 C397.95,117.97 398.65,118.00 400.00,117.90 C401.35,117.80 402.95,117.37 404.70,116.80 C406.45,116.23 408.57,115.13 410.50,114.50 C412.43,113.87 414.18,113.38 416.30,113.00 C418.42,112.62 421.33,112.22 423.20,112.20 C425.07,112.18 426.15,112.31 427.50,112.90 C428.85,113.49 429.93,114.09 431.30,115.76 C432.67,117.42 434.25,120.29 435.70,122.91 C437.15,125.53 438.57,128.86 440.00,131.47 C441.43,134.07 443.05,136.88 444.30,138.52 C445.55,140.17 446.53,140.72 447.50,141.32 C448.47,141.91 448.98,142.17 450.09,142.10 C451.20,142.04 452.81,142.17 454.16,140.92 C455.52,139.68 456.81,137.36 458.22,134.64 C459.64,131.92 461.16,127.94 462.65,124.60 C464.15,121.26 465.99,116.77 467.19,114.60 C468.38,112.43 469.05,112.23 469.80,111.60 C470.55,110.97 471.08,110.85 471.69,110.80 C472.30,110.75 473.18,111.22 473.48,111.30" fill="none" stroke="#FF0000" stroke-width="0.7" stroke-opacity="0.9" stroke-linejoin="round" stroke-linecap="round"/><path d="M388.60,111.60 C389.15,112.08 390.57,113.53 391.90,114.50 C393.23,115.47 395.25,116.83 396.60,117.40 C397.95,117.97 398.65,118.00 400.00,117.90 C401.35,117.80 402.95,117.37 404.70,116.80 C406.45,116.23 408.57,115.13 410.50,114.50 C412.43,113.87 414.18,113.38 416.30,113.00 C418.42,112.62 421.33,112.22 423.20,112.20 C425.07,112.18 426.15,112.32 427.50,112.90 C428.85,113.48 429.93,114.07 431.30,115.68 C432.67,117.30 434.25,120.06 435.70,122.59 C437.15,125.13 438.57,128.39 440.00,130.91 C441.43,133.43 443.05,136.16 444.30,137.73 C445.55,139.30 446.54,139.77 447.50,140.34 C448.46,140.92 449.01,141.22 450.09,141.19 C451.17,141.17 452.69,141.38 453.99,140.20 C455.30,139.01 456.53,136.75 457.94,134.09 C459.35,131.43 460.93,127.50 462.46,124.21 C463.98,120.92 465.86,116.49 467.07,114.37 C468.29,112.24 468.97,112.06 469.73,111.46 C470.50,110.85 471.03,110.75 471.65,110.72 C472.28,110.69 473.16,111.19 473.47,111.28" fill="none" stroke="#008000" stroke-width="0.7" stroke-opacity="0.9" stroke-linejoin="round" stroke-linecap="round"/><path d="M388.60,111.60 C389.15,112.08 390.57,113.53 391.90,114.50 C393.23,115.47 395.25,116.83 396.60,117.40 C397.95,117.97 398.65,118.03 400.00,117.90 C401.35,117.77 402.95,117.23 404.70,116.60 C406.45,115.97 408.57,114.78 410.50,114.10 C412.43,113.42 414.18,112.92 416.30,112.50 C418.42,112.08 421.33,111.63 423.20,111.60 C425.07,111.57 426.15,111.77 427.50,112.30 C428.85,112.83 429.93,113.48 431.30,114.80 C432.67,116.12 434.25,117.97 435.70,120.20 C437.15,122.43 438.57,125.67 440.00,128.20 C441.43,130.73 443.13,133.80 444.30,135.40 C445.47,137.00 446.03,137.32 447.00,137.80 C447.97,138.28 449.10,138.38 450.10,138.30 C451.10,138.22 452.03,137.90 453.00,137.30 C453.97,136.70 454.45,136.82 455.90,134.70 C457.35,132.58 460.02,127.85 461.70,124.60 C463.38,121.35 464.78,117.38 466.00,115.20 C467.22,113.02 468.03,112.27 469.00,111.50 C469.97,110.73 471.05,110.65 471.80,110.60 C472.55,110.55 473.22,111.10 473.50,111.20" fill="none" stroke="#FFA500" stroke-width="0.7" stroke-opacity="0.9" stroke-linejoin="round" stroke-linecap="round"/><path d="M388.60,111.60 C389.15,112.08 390.57,113.53 391.90,114.50 C393.23,115.47 395.25,116.83 396.60,117.40 C397.95,117.97 398.65,118.00 400.00,117.90 C401.35,117.80 402.95,117.37 404.70,116.80 C406.45,116.23 408.57,115.13 410.50,114.50 C412.43,113.87 414.18,113.38 416.30,113.00 C418.42,112.62 421.33,112.22 423.20,112.20 C425.07,112.18 426.15,112.30 427.50,112.90 C428.85,113.50 429.93,114.10 431.30,115.80 C432.67,117.50 434.25,120.43 435.70,123.10 C437.15,125.77 438.57,129.15 440.00,131.80 C441.43,134.45 443.05,137.32 444.30,139.00 C445.55,140.68 446.53,141.30 447.50,141.90 C448.47,142.50 448.93,142.72 450.10,142.60 C451.27,142.48 453.05,142.52 454.50,141.20 C455.95,139.88 457.37,137.47 458.80,134.70 C460.23,131.93 461.65,127.95 463.10,124.60 C464.55,121.25 466.35,116.77 467.50,114.60 C468.65,112.43 469.28,112.23 470.00,111.60 C470.72,110.97 471.22,110.85 471.80,110.80 C472.38,110.75 473.22,111.22 473.50,111.30" fill="none" stroke="#800080" stroke-width="0.7" stroke-opacity="0.9" stroke-linejoin="round" stroke-linecap="round"/><path d="M388.60,112.20 C389.15,112.68 390.57,114.13 391.90,115.10 C393.23,116.07 395.25,117.43 396.60,118.00 C397.95,118.57 398.65,118.60 400.00,118.50 C401.35,118.40 402.95,117.97 404.70,117.40 C406.45,116.83 408.57,115.73 410.50,115.10 C412.43,114.47 414.18,113.98 416.30,113.60 C418.42,113.22 421.33,112.82 423.20,112.80 C425.07,112.78 426.15,112.91 427.50,113.50 C428.85,114.09 429.93,114.69 431.30,116.36 C432.67,118.03 434.25,120.91 435.70,123.53 C437.15,126.15 438.57,129.52 440.00,132.10 C441.43,134.68 443.05,137.43 444.30,139.03 C445.55,140.64 446.53,141.16 447.50,141.73 C448.47,142.30 448.91,142.54 450.10,142.44 C451.30,142.33 453.17,142.40 454.67,141.11 C456.17,139.82 457.65,137.43 459.09,134.68 C460.54,131.93 461.91,127.95 463.35,124.60 C464.78,121.25 466.57,116.77 467.70,114.60 C468.84,112.43 469.44,112.23 470.13,111.60 C470.83,110.97 471.31,110.85 471.87,110.80 C472.44,110.75 473.24,111.22 473.52,111.30" fill="none" stroke="#0000FF" stroke-width="0.7" stroke-opacity="0.9" stroke-linejoin="round" stroke-linecap="round"/>
<line x1="387.3" y1="162.4" x2="387.3" y2="215.4" class="axis"/>
<line x1="388.5" y1="186.70000000000002" x2="475.2" y2="186.70000000000002" class="zero"/>
<line x1="385.5" y1="172.40" x2="389.5" y2="172.40" class="tick"/>
<text x="383.5" y="176.00" class="tl" text-anchor="end">30</text>
<line x1="385.5" y1="186.70" x2="389.5" y2="186.70" class="tick"/>
<text x="383.5" y="190.30" class="tl" text-anchor="end">0</text>
<line x1="385.5" y1="201.00" x2="389.5" y2="201.00" class="tick"/>
<text x="383.5" y="204.60" class="tl" text-anchor="end">- 30</text>
<path d="M388.60,186.90 C388.97,187.22 389.85,188.28 390.80,188.80 C391.75,189.32 393.15,190.03 394.30,190.00 C395.45,189.97 396.35,189.40 397.70,188.60 C399.05,187.80 400.67,186.05 402.40,185.20 C404.13,184.35 406.18,183.95 408.10,183.50 C410.02,183.05 411.97,182.92 413.90,182.50 C415.83,182.08 417.77,181.35 419.70,181.00 C421.63,180.65 423.77,180.37 425.50,180.40 C427.23,180.43 429.08,180.93 430.10,181.20 C431.12,181.47 430.57,181.20 431.60,182.00 C432.63,182.80 434.95,184.67 436.30,186.00 C437.65,187.33 438.55,189.07 439.70,190.00 C440.85,190.93 441.85,191.58 443.20,191.60 C444.55,191.62 446.25,190.83 447.80,190.10 C449.35,189.37 450.97,187.83 452.50,187.20 C454.03,186.57 455.47,186.43 457.00,186.30 C458.53,186.17 459.95,186.27 461.70,186.40 C463.45,186.53 465.53,186.97 467.50,187.10 C469.47,187.23 472.50,187.18 473.50,187.20 L473.50,187.70 C472.50,187.68 469.47,187.73 467.50,187.60 C465.53,187.47 463.45,187.03 461.70,186.90 C459.95,186.77 458.53,186.67 457.00,186.80 C455.47,186.93 454.03,186.94 452.50,187.70 C450.97,188.46 449.35,190.28 447.80,191.33 C446.25,192.39 444.55,193.90 443.20,194.03 C441.85,194.17 440.85,193.20 439.70,192.14 C438.55,191.08 437.65,189.24 436.30,187.68 C434.95,186.12 432.63,183.79 431.60,182.80 C430.57,181.81 431.12,182.04 430.10,181.72 C429.08,181.40 427.23,180.94 425.50,180.90 C423.77,180.86 421.63,181.15 419.70,181.50 C417.77,181.85 415.83,182.58 413.90,183.00 C411.97,183.42 410.02,183.55 408.10,184.00 C406.18,184.45 404.13,184.85 402.40,185.70 C400.67,186.55 399.05,188.30 397.70,189.10 C396.35,189.90 395.45,190.47 394.30,190.50 C393.15,190.53 391.75,189.82 390.80,189.30 C389.85,188.78 388.97,187.72 388.60,187.40 Z" fill="#FFCF8A" fill-opacity="0.47" stroke="none"/><path d="M388.60,186.90 C388.97,187.22 389.85,188.25 390.80,188.80 C391.75,189.35 393.15,190.18 394.30,190.20 C395.45,190.22 396.35,189.67 397.70,188.90 C399.05,188.13 400.67,186.47 402.40,185.60 C404.13,184.73 406.18,184.22 408.10,183.70 C410.02,183.18 411.97,182.98 413.90,182.50 C415.83,182.02 417.77,181.37 419.70,180.80 C421.63,180.23 423.70,179.58 425.50,179.10 C427.30,178.62 429.10,178.15 430.50,177.90 C431.90,177.65 432.75,177.20 433.90,177.60 C435.05,178.00 436.23,178.98 437.40,180.30 C438.57,181.62 439.73,183.87 440.90,185.50 C442.07,187.13 443.33,189.20 444.40,190.10 C445.47,191.00 446.15,191.10 447.30,190.90 C448.45,190.70 449.87,189.57 451.30,188.90 C452.73,188.23 454.17,187.32 455.90,186.90 C457.63,186.48 459.77,186.37 461.70,186.40 C463.63,186.43 465.53,186.97 467.50,187.10 C469.47,187.23 472.50,187.18 473.50,187.20 L473.50,187.20 C472.50,187.18 469.47,187.23 467.50,187.10 C465.53,186.97 463.63,186.43 461.70,186.40 C459.77,186.37 457.63,186.32 455.90,186.93 C454.17,187.53 452.73,189.06 451.30,190.02 C449.87,190.98 448.45,192.40 447.30,192.68 C446.15,192.96 445.47,192.78 444.40,191.70 C443.33,190.62 442.07,188.04 440.90,186.22 C439.73,184.41 438.57,182.15 437.40,180.80 C436.23,179.45 435.05,178.50 433.90,178.10 C432.75,177.70 431.90,178.15 430.50,178.40 C429.10,178.65 427.30,179.12 425.50,179.60 C423.70,180.08 421.63,180.73 419.70,181.30 C417.77,181.87 415.83,182.52 413.90,183.00 C411.97,183.48 410.02,183.68 408.10,184.20 C406.18,184.72 404.13,185.23 402.40,186.10 C400.67,186.97 399.05,188.63 397.70,189.40 C396.35,190.17 395.45,190.72 394.30,190.70 C393.15,190.68 391.75,189.85 390.80,189.30 C389.85,188.75 388.97,187.72 388.60,187.40 Z" fill="#B895C8" fill-opacity="0.47" stroke="none"/><path d="M388.60,186.90 C388.97,187.22 389.85,188.28 390.80,188.80 C391.75,189.32 393.15,190.03 394.30,190.00 C395.45,189.97 396.35,189.40 397.70,188.60 C399.05,187.80 400.67,186.05 402.40,185.20 C404.13,184.35 406.18,183.95 408.10,183.50 C410.02,183.05 411.97,182.92 413.90,182.50 C415.83,182.08 417.77,181.35 419.70,181.00 C421.63,180.65 423.77,180.37 425.50,180.40 C427.23,180.43 429.08,180.93 430.10,181.20 C431.12,181.47 430.57,181.20 431.60,182.00 C432.63,182.80 434.95,184.67 436.30,186.00 C437.65,187.33 438.55,189.07 439.70,190.00 C440.85,190.93 441.85,191.58 443.20,191.60 C444.55,191.62 446.25,190.83 447.80,190.10 C449.35,189.37 450.97,187.83 452.50,187.20 C454.03,186.57 455.47,186.43 457.00,186.30 C458.53,186.17 459.95,186.27 461.70,186.40 C463.45,186.53 465.53,186.97 467.50,187.10 C469.47,187.23 472.50,187.18 473.50,187.20" fill="none" stroke="#FFA500" stroke-width="0.7" stroke-opacity="0.9" stroke-linejoin="round" stroke-linecap="round"/><path d="M388.60,186.90 C388.97,187.22 389.85,188.25 390.80,188.80 C391.75,189.35 393.15,190.18 394.30,190.20 C395.45,190.22 396.35,189.67 397.70,188.90 C399.05,188.13 400.67,186.47 402.40,185.60 C404.13,184.73 406.18,184.22 408.10,183.70 C410.02,183.18 411.97,182.98 413.90,182.50 C415.83,182.02 417.77,181.37 419.70,180.80 C421.63,180.23 423.73,179.58 425.50,179.10 C427.27,178.62 429.15,178.15 430.35,177.90 C431.56,177.65 431.85,177.20 432.73,177.60 C433.60,178.00 434.54,178.98 435.60,180.30 C436.66,181.62 437.93,183.87 439.10,185.50 C440.27,187.13 441.48,189.20 442.60,190.10 C443.72,191.00 444.44,191.10 445.79,190.90 C447.14,190.70 449.01,189.57 450.69,188.90 C452.38,188.23 454.07,187.32 455.90,186.90 C457.73,186.48 459.77,186.37 461.70,186.40 C463.63,186.43 465.53,186.97 467.50,187.10 C469.47,187.23 472.50,187.18 473.50,187.20" fill="none" stroke="#FF0000" stroke-width="0.7" stroke-opacity="0.9" stroke-linejoin="round" stroke-linecap="round"/><path d="M388.60,186.90 C388.97,187.22 389.85,188.25 390.80,188.80 C391.75,189.35 393.15,190.18 394.30,190.20 C395.45,190.22 396.35,189.67 397.70,188.90 C399.05,188.13 400.67,186.47 402.40,185.60 C404.13,184.73 406.18,184.22 408.10,183.70 C410.02,183.18 411.97,182.98 413.90,182.50 C415.83,182.02 417.77,181.37 419.70,180.80 C421.63,180.23 423.72,179.58 425.50,179.10 C427.28,178.62 429.13,178.15 430.40,177.90 C431.67,177.65 432.15,177.20 433.12,177.60 C434.09,178.00 435.10,178.98 436.20,180.30 C437.30,181.62 438.53,183.87 439.70,185.50 C440.87,187.13 442.10,189.20 443.20,190.10 C444.30,191.00 445.01,191.10 446.30,190.90 C447.58,190.70 449.29,189.57 450.90,188.90 C452.50,188.23 454.10,187.32 455.90,186.90 C457.70,186.48 459.77,186.37 461.70,186.40 C463.63,186.43 465.53,186.97 467.50,187.10 C469.47,187.23 472.50,187.18 473.50,187.20" fill="none" stroke="#008000" stroke-width="0.7" stroke-opacity="0.9" stroke-linejoin="round" stroke-linecap="round"/><path d="M388.60,186.90 C388.97,187.22 389.85,188.25 390.80,188.80 C391.75,189.35 393.15,190.18 394.30,190.20 C395.45,190.22 396.35,189.67 397.70,188.90 C399.05,188.13 400.67,186.47 402.40,185.60 C404.13,184.73 406.18,184.22 408.10,183.70 C410.02,183.18 411.97,182.98 413.90,182.50 C415.83,182.02 417.77,181.37 419.70,180.80 C421.63,180.23 423.71,179.58 425.50,179.10 C427.29,178.62 429.12,178.15 430.45,177.90 C431.78,177.65 432.45,177.20 433.51,177.60 C434.57,178.00 435.67,178.98 436.80,180.30 C437.93,181.62 439.13,183.87 440.30,185.50 C441.47,187.13 442.72,189.20 443.80,190.10 C444.88,191.00 445.58,191.10 446.80,190.90 C448.01,190.70 449.58,189.57 451.10,188.90 C452.61,188.23 454.13,187.32 455.90,186.90 C457.67,186.48 459.77,186.37 461.70,186.40 C463.63,186.43 465.53,186.97 467.50,187.10 C469.47,187.23 472.50,187.18 473.50,187.20" fill="none" stroke="#0000FF" stroke-width="0.7" stroke-opacity="0.9" stroke-linejoin="round" stroke-linecap="round"/><path d="M388.60,186.90 C388.97,187.22 389.85,188.25 390.80,188.80 C391.75,189.35 393.15,190.18 394.30,190.20 C395.45,190.22 396.35,189.67 397.70,188.90 C399.05,188.13 400.67,186.47 402.40,185.60 C404.13,184.73 406.18,184.22 408.10,183.70 C410.02,183.18 411.97,182.98 413.90,182.50 C415.83,182.02 417.77,181.37 419.70,180.80 C421.63,180.23 423.70,179.58 425.50,179.10 C427.30,178.62 429.10,178.15 430.50,177.90 C431.90,177.65 432.75,177.20 433.90,177.60 C435.05,178.00 436.23,178.98 437.40,180.30 C438.57,181.62 439.73,183.87 440.90,185.50 C442.07,187.13 443.33,189.20 444.40,190.10 C445.47,191.00 446.15,191.10 447.30,190.90 C448.45,190.70 449.87,189.57 451.30,188.90 C452.73,188.23 454.17,187.32 455.90,186.90 C457.63,186.48 459.77,186.37 461.70,186.40 C463.63,186.43 465.53,186.97 467.50,187.10 C469.47,187.23 472.50,187.18 473.50,187.20" fill="none" stroke="#800080" stroke-width="0.7" stroke-opacity="0.9" stroke-linejoin="round" stroke-linecap="round"/>
<line x1="387.3" y1="223.0" x2="387.3" y2="280.4" class="axis"/>
<line x1="388.5" y1="248.3" x2="475.2" y2="248.3" class="zero"/>
<line x1="385.5" y1="219.70" x2="389.5" y2="219.70" class="tick"/>
<text x="383.5" y="223.30" class="tl" text-anchor="end">60</text>
<line x1="385.5" y1="234.00" x2="389.5" y2="234.00" class="tick"/>
<text x="383.5" y="237.60" class="tl" text-anchor="end">30</text>
<line x1="385.5" y1="248.30" x2="389.5" y2="248.30" class="tick"/>
<text x="383.5" y="251.90" class="tl" text-anchor="end">0</text>
<line x1="385.5" y1="262.60" x2="389.5" y2="262.60" class="tick"/>
<text x="383.5" y="266.20" class="tl" text-anchor="end">- 30</text>
<line x1="385.5" y1="276.90" x2="389.5" y2="276.90" class="tick"/>
<text x="383.5" y="280.50" class="tl" text-anchor="end">- 60</text>
<path d="M419.70,246.60 C420.42,246.28 422.62,245.43 424.00,244.65 C425.38,243.87 426.75,242.86 428.00,241.90 C429.25,240.94 430.42,239.71 431.50,238.87 C432.58,238.03 433.70,237.27 434.50,236.86 C435.30,236.45 435.72,236.30 436.30,236.41 C436.88,236.53 437.38,236.98 438.00,237.56 C438.62,238.14 439.12,238.75 440.00,239.92 C440.88,241.09 442.30,243.36 443.30,244.57 C444.30,245.79 445.55,246.76 446.00,247.20 L446.00,247.20 C445.55,246.93 444.30,246.43 443.30,245.60 C442.30,244.77 440.88,243.03 440.00,242.20 C439.12,241.37 438.62,240.95 438.00,240.60 C437.38,240.25 436.88,240.15 436.30,240.10 C435.72,240.05 435.30,240.05 434.50,240.30 C433.70,240.55 432.58,241.02 431.50,241.60 C430.42,242.18 429.25,243.13 428.00,243.80 C426.75,244.47 425.38,245.13 424.00,245.60 C422.62,246.07 420.42,246.43 419.70,246.60 Z" fill="#FF9EA8" fill-opacity="0.30" stroke="none"/><path d="M419.70,246.60 C420.42,246.46 422.62,246.18 424.00,245.78 C425.38,245.37 426.75,244.76 428.00,244.15 C429.25,243.54 430.42,242.64 431.50,242.10 C432.58,241.57 433.70,241.16 434.50,240.93 C435.30,240.71 435.72,240.74 436.30,240.78 C436.88,240.82 437.38,240.85 438.00,241.16 C438.62,241.47 439.12,241.85 440.00,242.62 C440.88,243.39 442.30,245.03 443.30,245.79 C444.30,246.55 445.55,246.96 446.00,247.20" fill="none" stroke="#0000FF" stroke-width="0.7" stroke-opacity="0.9" stroke-linejoin="round" stroke-linecap="round"/><path d="M419.70,246.60 C420.42,246.40 422.62,245.93 424.00,245.40 C425.38,244.87 426.75,244.13 428.00,243.40 C429.25,242.67 430.42,241.66 431.50,241.03 C432.58,240.39 433.70,239.86 434.50,239.58 C435.30,239.29 435.72,239.26 436.30,239.32 C436.88,239.39 437.38,239.56 438.00,239.96 C438.62,240.36 439.12,240.82 440.00,241.72 C440.88,242.62 442.30,244.47 443.30,245.38 C444.30,246.30 445.55,246.90 446.00,247.20" fill="none" stroke="#800080" stroke-width="0.7" stroke-opacity="0.9" stroke-linejoin="round" stroke-linecap="round"/><path d="M419.70,246.60 C420.42,246.32 422.62,245.60 424.00,244.90 C425.38,244.20 426.75,243.29 428.00,242.40 C429.25,241.51 430.42,240.36 431.50,239.59 C432.58,238.81 433.70,238.13 434.50,237.76 C435.30,237.40 435.72,237.28 436.30,237.39 C436.88,237.50 437.38,237.87 438.00,238.40 C438.62,238.94 439.12,239.51 440.00,240.60 C440.88,241.69 442.30,243.83 443.30,244.93 C444.30,246.03 445.55,246.82 446.00,247.20" fill="none" stroke="#FF0000" stroke-width="0.7" stroke-opacity="0.9" stroke-linejoin="round" stroke-linecap="round"/><path d="M388.60,247.60 C389.15,247.73 390.18,248.33 391.90,248.40 C393.62,248.47 395.43,248.18 398.90,248.00 C402.37,247.82 409.23,247.53 412.70,247.30 C416.17,247.07 417.82,246.88 419.70,246.60 C421.58,246.32 422.62,246.07 424.00,245.60 C425.38,245.13 426.75,244.47 428.00,243.80 C429.25,243.13 430.42,242.18 431.50,241.60 C432.58,241.02 433.70,240.55 434.50,240.30 C435.30,240.05 435.72,240.05 436.30,240.10 C436.88,240.15 437.38,240.25 438.00,240.60 C438.62,240.95 439.12,241.37 440.00,242.20 C440.88,243.03 442.30,244.77 443.30,245.60 C444.30,246.43 444.88,246.90 446.00,247.20 C447.12,247.50 445.37,247.38 450.00,247.40 C454.63,247.42 469.83,247.32 473.80,247.30" fill="none" stroke="#008000" stroke-width="0.7" stroke-opacity="0.9" stroke-linejoin="round" stroke-linecap="round"/><path d="M412.70,247.30 C413.58,247.22 416.70,247.13 418.00,246.80 C419.30,246.47 419.53,246.60 420.50,245.30 C421.47,244.00 422.55,241.45 423.80,239.00 C425.05,236.55 426.88,232.55 428.00,230.60 C429.12,228.65 429.75,228.05 430.50,227.30 C431.25,226.55 431.92,226.25 432.50,226.10 C433.08,225.95 433.48,226.18 434.00,226.40 C434.52,226.62 435.33,227.23 435.60,227.40" fill="none" stroke="#FFA500" stroke-width="1.1" stroke-opacity="0.9" stroke-linejoin="round" stroke-linecap="round"/>
<path d="M388.5,291.47999999999996 V294.08 H475.2 V291.47999999999996 M430.72,294.08 V291.47999999999996" class="xaxis"/>
<text x="387.90" y="291.98" class="tl" text-anchor="middle">0</text>
<text x="430.72" y="291.98" class="tl" text-anchor="middle">50</text>
<text x="474.20" y="291.98" class="tl" text-anchor="middle">100</text>
<text x="431.15" y="307.88" class="xl" text-anchor="middle">%Gait Progress</text>
<text x="530.8" y="39.65" class="title" text-anchor="middle">Moment</text>
<text x="479.2" y="30.0" class="unit" text-anchor="middle">(Nm/kg)</text>
<line x1="488.5" y1="37.4" x2="488.5" y2="88.0" class="axis"/>
<line x1="489.3" y1="64.5" x2="576.8" y2="64.5" class="zero"/>
<line x1="486.7" y1="35.90" x2="490.7" y2="35.90" class="tick"/>
<text x="484.7" y="39.50" class="tl" text-anchor="end">2</text>
<line x1="486.7" y1="50.20" x2="490.7" y2="50.20" class="tick"/>
<text x="484.7" y="53.80" class="tl" text-anchor="end">1</text>
<line x1="486.7" y1="64.50" x2="490.7" y2="64.50" class="tick"/>
<text x="484.7" y="68.10" class="tl" text-anchor="end">0</text>
<line x1="486.7" y1="78.80" x2="490.7" y2="78.80" class="tick"/>
<text x="484.7" y="82.40" class="tl" text-anchor="end">-1</text>
<line x1="486.7" y1="93.10" x2="490.7" y2="93.10" class="tick"/>
<text x="484.7" y="96.70" class="tl" text-anchor="end">-2</text>
<path d="M494.60,62.60 C496.78,61.72 503.32,59.48 507.70,57.30 C512.08,55.12 516.95,52.45 520.90,49.50 C524.85,46.55 528.78,40.92 531.40,39.60 C534.02,38.28 535.07,40.18 536.60,41.60 C538.13,43.02 538.85,46.68 540.60,48.10 C542.35,49.52 543.82,49.43 547.10,50.10 C550.38,50.77 556.57,51.12 560.30,52.10 C564.03,53.08 567.55,54.68 569.50,56.00 C571.45,57.32 571.58,59.33 572.00,60.00 L572.00,64.00 C571.58,63.75 571.45,63.33 569.50,62.50 C567.55,61.67 564.03,59.75 560.30,59.00 C556.57,58.25 550.32,58.33 547.10,58.00 C543.88,57.67 542.68,58.00 541.00,57.00 C539.32,56.00 538.60,53.00 537.00,52.00 C535.40,51.00 534.08,50.50 531.40,51.00 C528.72,51.50 524.85,53.33 520.90,55.00 C516.95,56.67 512.08,58.83 507.70,61.00 C503.32,63.17 496.78,66.83 494.60,68.00 Z" fill="#FFD9B0" fill-opacity="0.27" stroke="none"/><path d="M512.00,56.00 C513.33,55.17 517.43,52.75 520.00,51.00 C522.57,49.25 525.28,46.97 527.40,45.50 C529.52,44.03 531.17,42.20 532.70,42.20 C534.23,42.20 535.52,44.07 536.60,45.50 C537.68,46.93 538.77,49.92 539.20,50.80 L539.20,50.80 C538.98,51.02 538.77,51.45 537.90,52.10 C537.03,52.75 535.32,53.72 534.00,54.70 C532.68,55.68 531.53,56.90 530.00,58.00 C528.47,59.10 526.80,60.75 524.80,61.30 C522.80,61.85 520.13,61.43 518.00,61.30 C515.87,61.17 513.00,60.63 512.00,60.50 Z" fill="#C4A0BE" fill-opacity="0.49" stroke="none"/><path d="M520.90,64.60 C521.75,64.17 524.48,62.77 526.00,62.00 C527.52,61.23 528.67,61.00 530.00,60.00 C531.33,59.00 532.78,57.33 534.00,56.00 C535.22,54.67 536.20,53.32 537.30,52.00 C538.40,50.68 540.05,48.75 540.60,48.10 L540.60,50.00 C540.33,51.33 539.60,55.58 539.00,58.00 C538.40,60.42 538.50,63.30 537.00,64.50 C535.50,65.70 532.68,65.18 530.00,65.20 C527.32,65.22 522.42,64.70 520.90,64.60 Z" fill="#D8C8EE" fill-opacity="0.41" stroke="none"/><path d="M489.50,65.20 C489.95,65.75 491.15,67.86 492.20,68.50 C493.25,69.14 494.58,69.34 495.80,69.05 C497.02,68.76 497.93,67.81 499.50,66.77 C501.07,65.73 503.28,64.01 505.20,62.81 C507.12,61.62 509.07,60.44 511.00,59.60 C512.93,58.76 514.87,58.47 516.80,57.79 C518.73,57.10 520.67,56.31 522.60,55.49 C524.53,54.67 526.87,53.48 528.40,52.86 C529.93,52.24 530.70,52.03 531.80,51.75 C532.90,51.47 533.87,50.95 535.00,51.18 C536.13,51.42 537.52,52.50 538.60,53.17 C539.68,53.84 540.30,54.70 541.50,55.18 C542.70,55.66 544.12,55.85 545.80,56.04 C547.48,56.22 549.68,56.11 551.60,56.30 C553.52,56.49 555.38,56.77 557.30,57.20 C559.22,57.63 561.40,58.17 563.10,58.90 C564.80,59.63 566.05,60.75 567.50,61.60 C568.95,62.45 570.60,64.05 571.80,64.00 C573.00,63.95 573.97,62.27 574.70,61.30 C575.43,60.33 575.95,58.72 576.20,58.20" fill="none" stroke="#800080" stroke-width="0.7" stroke-opacity="0.9" stroke-linejoin="round" stroke-linecap="round"/><path d="M489.50,64.30 C489.95,64.85 491.15,66.97 492.20,67.60 C493.25,68.23 494.58,68.43 495.80,68.10 C497.02,67.77 497.93,66.73 499.50,65.60 C501.07,64.47 503.28,62.59 505.20,61.31 C507.12,60.02 509.07,58.80 511.00,57.90 C512.93,57.00 514.87,56.69 516.80,55.89 C518.73,55.10 520.67,54.17 522.60,53.15 C524.53,52.13 526.87,50.51 528.40,49.76 C529.93,49.00 530.70,48.85 531.80,48.62 C532.90,48.39 533.87,47.86 535.00,48.38 C536.13,48.90 537.52,50.72 538.60,51.73 C539.68,52.74 540.30,53.82 541.50,54.43 C542.70,55.05 544.12,55.14 545.80,55.41 C547.48,55.67 549.68,55.78 551.60,56.04 C553.52,56.31 555.38,56.53 557.30,56.98 C559.22,57.43 561.40,57.99 563.10,58.74 C564.80,59.49 566.05,60.63 567.50,61.49 C568.95,62.36 570.60,63.98 571.80,63.95 C573.00,63.91 573.97,62.24 574.70,61.28 C575.43,60.33 575.95,58.71 576.20,58.20" fill="none" stroke="#FFA500" stroke-width="0.7" stroke-opacity="0.9" stroke-linejoin="round" stroke-linecap="round"/><path d="M489.50,64.80 C489.95,65.35 491.15,67.47 492.20,68.10 C493.25,68.73 494.58,68.93 495.80,68.61 C497.02,68.29 497.93,67.27 499.50,66.15 C501.07,65.04 503.28,63.22 505.20,61.92 C507.12,60.63 509.07,59.34 511.00,58.39 C512.93,57.45 514.87,57.10 516.80,56.26 C518.73,55.43 520.67,54.45 522.60,53.38 C524.53,52.31 526.87,50.64 528.40,49.85 C529.93,49.05 530.70,48.88 531.80,48.63 C532.90,48.37 533.87,47.78 535.00,48.31 C536.13,48.83 537.52,50.73 538.60,51.79 C539.68,52.85 540.30,54.00 541.50,54.67 C542.70,55.35 544.12,55.56 545.80,55.85 C547.48,56.14 549.68,56.18 551.60,56.42 C553.52,56.66 555.38,56.87 557.30,57.29 C559.22,57.72 561.40,58.24 563.10,58.96 C564.80,59.69 566.05,60.80 567.50,61.64 C568.95,62.49 570.60,64.08 571.80,64.02 C573.00,63.97 573.97,62.28 574.70,61.31 C575.43,60.34 575.95,58.72 576.20,58.20" fill="none" stroke="#008000" stroke-width="0.7" stroke-opacity="0.9" stroke-linejoin="round" stroke-linecap="round"/><path d="M489.50,65.00 C489.95,65.55 491.15,67.66 492.20,68.30 C493.25,68.94 494.58,69.13 495.80,68.82 C497.02,68.51 497.93,67.52 499.50,66.43 C501.07,65.35 503.28,63.57 505.20,62.30 C507.12,61.03 509.07,59.75 511.00,58.82 C512.93,57.89 514.87,57.53 516.80,56.74 C518.73,55.95 520.67,55.04 522.60,54.08 C524.53,53.12 526.87,51.70 528.40,50.99 C529.93,50.28 530.70,50.08 531.80,49.81 C532.90,49.54 533.87,48.96 535.00,49.35 C536.13,49.74 537.52,51.26 538.60,52.15 C539.68,53.04 540.30,54.07 541.50,54.69 C542.70,55.31 544.12,55.58 545.80,55.87 C547.48,56.16 549.68,56.20 551.60,56.44 C553.52,56.67 555.38,56.88 557.30,57.30 C559.22,57.73 561.40,58.25 563.10,58.97 C564.80,59.70 566.05,60.81 567.50,61.65 C568.95,62.49 570.60,64.08 571.80,64.02 C573.00,63.97 573.97,62.28 574.70,61.31 C575.43,60.34 575.95,58.72 576.20,58.20" fill="none" stroke="#FF0000" stroke-width="0.7" stroke-opacity="0.9" stroke-linejoin="round" stroke-linecap="round"/><path d="M489.50,64.80 C489.95,65.35 491.15,67.47 492.20,68.10 C493.25,68.73 494.58,68.93 495.80,68.60 C497.02,68.27 497.93,67.23 499.50,66.10 C501.07,64.97 503.28,63.12 505.20,61.80 C507.12,60.48 509.07,59.17 511.00,58.20 C512.93,57.23 514.87,56.85 516.80,56.00 C518.73,55.15 520.67,54.17 522.60,53.10 C524.53,52.03 526.87,50.38 528.40,49.60 C529.93,48.82 530.70,48.65 531.80,48.40 C532.90,48.15 533.87,47.57 535.00,48.10 C536.13,48.63 537.52,50.53 538.60,51.60 C539.68,52.67 540.30,53.82 541.50,54.50 C542.70,55.18 544.12,55.40 545.80,55.70 C547.48,56.00 549.68,56.05 551.60,56.30 C553.52,56.55 555.38,56.77 557.30,57.20 C559.22,57.63 561.40,58.17 563.10,58.90 C564.80,59.63 566.05,60.75 567.50,61.60 C568.95,62.45 570.60,64.05 571.80,64.00 C573.00,63.95 573.97,62.27 574.70,61.30 C575.43,60.33 575.95,58.72 576.20,58.20" fill="none" stroke="#0000FF" stroke-width="0.7" stroke-opacity="0.9" stroke-linejoin="round" stroke-linecap="round"/>
<line x1="488.5" y1="97.60000000000001" x2="488.5" y2="150.4" class="axis"/>
<line x1="489.3" y1="125.70000000000002" x2="576.8" y2="125.70000000000002" class="zero"/>
<line x1="486.7" y1="111.40" x2="490.7" y2="111.40" class="tick"/>
<text x="484.7" y="115.00" class="tl" text-anchor="end">1</text>
<line x1="486.7" y1="125.70" x2="490.7" y2="125.70" class="tick"/>
<text x="484.7" y="129.30" class="tl" text-anchor="end">0</text>
<line x1="486.7" y1="140.00" x2="490.7" y2="140.00" class="tick"/>
<text x="484.7" y="143.60" class="tl" text-anchor="end">-1</text>
<line x1="486.7" y1="154.30" x2="490.7" y2="154.30" class="tick"/>
<text x="484.7" y="157.90" class="tl" text-anchor="end">-2</text>
<path d="M489.40,125.18 C489.82,124.65 490.90,123.43 491.90,121.96 C492.90,120.48 494.38,117.82 495.40,116.34 C496.42,114.86 497.23,113.79 498.00,113.08 C498.77,112.38 498.88,112.02 500.00,112.10 C501.12,112.18 503.15,112.77 504.70,113.53 C506.25,114.30 507.57,115.75 509.30,116.67 C511.03,117.58 512.98,118.33 515.10,119.00 C517.22,119.67 519.88,120.38 522.00,120.70 C524.12,121.02 526.20,121.20 527.80,120.90 C529.40,120.60 530.38,119.62 531.60,118.90 C532.82,118.18 533.93,117.09 535.10,116.58 C536.27,116.08 537.45,115.58 538.60,115.87 C539.75,116.17 540.65,117.80 542.00,118.34 C543.35,118.89 545.15,119.05 546.70,119.16 C548.25,119.27 549.57,118.92 551.30,119.01 C553.03,119.10 555.17,119.26 557.10,119.70 C559.03,120.15 560.97,120.97 562.90,121.70 C564.83,122.43 567.17,123.57 568.70,124.09 C570.23,124.61 571.13,124.95 572.10,124.80 C573.07,124.65 573.93,123.65 574.50,123.18 C575.07,122.72 575.33,122.20 575.50,122.00 L575.50,123.00 C575.33,123.20 575.07,123.72 574.50,124.21 C573.93,124.71 573.07,125.76 572.10,125.97 C571.13,126.17 570.23,125.88 568.70,125.45 C567.17,125.02 564.83,124.00 562.90,123.38 C560.97,122.76 559.03,122.06 557.10,121.72 C555.17,121.38 553.03,121.35 551.30,121.35 C549.57,121.36 548.25,121.54 546.70,121.76 C545.15,121.98 543.35,122.62 542.00,122.67 C540.65,122.72 539.75,122.01 538.60,122.05 C537.45,122.08 536.27,122.41 535.10,122.90 C533.93,123.39 532.82,124.33 531.60,125.00 C530.38,125.67 529.40,126.62 527.80,126.90 C526.20,127.18 524.12,127.02 522.00,126.70 C519.88,126.38 517.22,125.67 515.10,125.00 C512.98,124.33 511.03,123.57 509.30,122.70 C507.57,121.83 506.25,120.48 504.70,119.80 C503.15,119.12 501.12,118.82 500.00,118.60 C498.88,118.38 498.77,118.21 498.00,118.51 C497.23,118.80 496.42,119.44 495.40,120.37 C494.38,121.30 492.90,123.17 491.90,124.11 C490.90,125.05 489.82,125.68 489.40,126.00 Z" fill="#BE98C4" fill-opacity="0.57" stroke="none"/><path d="M489.40,124.60 C489.82,124.18 490.90,123.50 491.90,122.10 C492.90,120.70 494.38,117.78 495.40,116.23 C496.42,114.67 497.23,113.52 498.00,112.75 C498.77,111.98 498.88,111.46 500.00,111.60 C501.12,111.74 503.15,112.55 504.70,113.58 C506.25,114.62 507.57,116.56 509.30,117.80 C511.03,119.04 512.98,120.18 515.10,121.00 C517.22,121.82 519.88,122.38 522.00,122.70 C524.12,123.02 526.20,123.18 527.80,122.90 C529.40,122.62 530.38,121.67 531.60,121.00 C532.82,120.33 533.93,119.37 535.10,118.90 C536.27,118.43 537.45,118.07 538.60,118.20 C539.75,118.33 540.65,119.47 542.00,119.70 C543.35,119.93 545.15,119.67 546.70,119.60 C548.25,119.53 549.57,119.27 551.30,119.30 C553.03,119.33 555.17,119.42 557.10,119.80 C559.03,120.18 560.97,120.93 562.90,121.60 C564.83,122.27 567.17,123.33 568.70,123.80 C570.23,124.27 571.13,124.58 572.10,124.40 C573.07,124.22 573.93,123.18 574.50,122.70 C575.07,122.22 575.33,121.70 575.50,121.50 L575.50,122.50 C575.33,122.70 575.07,123.22 574.50,123.70 C573.93,124.18 573.07,125.22 572.10,125.40 C571.13,125.58 570.23,125.27 568.70,124.80 C567.17,124.33 564.83,123.27 562.90,122.60 C560.97,121.93 559.03,121.18 557.10,120.80 C555.17,120.42 553.03,120.33 551.30,120.30 C549.57,120.27 548.25,120.53 546.70,120.60 C545.15,120.67 543.35,120.93 542.00,120.70 C540.65,120.47 539.75,119.33 538.60,119.20 C537.45,119.07 536.27,119.43 535.10,119.90 C533.93,120.37 532.82,121.33 531.60,122.00 C530.38,122.67 529.40,123.62 527.80,123.90 C526.20,124.18 524.12,124.02 522.00,123.70 C519.88,123.38 517.22,122.67 515.10,122.00 C512.98,121.33 511.03,120.57 509.30,119.70 C507.57,118.83 506.25,117.48 504.70,116.80 C503.15,116.12 501.12,115.73 500.00,115.60 C498.88,115.47 498.77,115.52 498.00,116.00 C497.23,116.48 496.42,117.32 495.40,118.50 C494.38,119.68 492.90,121.92 491.90,123.10 C490.90,124.28 489.82,125.18 489.40,125.60 Z" fill="#FFCF8A" fill-opacity="0.41" stroke="none"/><path d="M489.40,125.57 C489.82,125.12 490.90,124.15 491.90,122.89 C492.90,121.63 494.38,119.29 495.40,118.03 C496.42,116.78 497.23,115.88 498.00,115.35 C498.77,114.81 498.88,114.64 500.00,114.80 C501.12,114.96 503.15,115.53 504.70,116.31 C506.25,117.10 507.57,118.54 509.30,119.52 C511.03,120.50 512.98,121.46 515.10,122.20 C517.22,122.94 519.88,123.62 522.00,123.95 C524.12,124.28 526.20,124.47 527.80,124.19 C529.40,123.90 530.38,122.94 531.60,122.25 C532.82,121.56 533.93,120.55 535.10,120.05 C536.27,119.55 537.45,119.13 538.60,119.24 C539.75,119.35 540.65,120.48 542.00,120.71 C543.35,120.94 545.15,120.70 546.70,120.64 C548.25,120.58 549.57,120.32 551.30,120.36 C553.03,120.41 555.17,120.50 557.10,120.90 C559.03,121.29 560.97,122.05 562.90,122.73 C564.83,123.41 567.17,124.49 568.70,124.96 C570.23,125.44 571.13,125.76 572.10,125.58 C573.07,125.41 573.93,124.38 574.50,123.90 C575.07,123.42 575.33,122.90 575.50,122.70" fill="none" stroke="#FFA500" stroke-width="0.7" stroke-opacity="0.9" stroke-linejoin="round" stroke-linecap="round"/><path d="M489.40,125.59 C489.82,125.16 490.90,124.23 491.90,123.02 C492.90,121.81 494.38,119.54 495.40,118.33 C496.42,117.11 497.23,116.26 498.00,115.75 C498.77,115.25 498.88,115.17 500.00,115.30 C501.12,115.43 503.15,115.85 504.70,116.55 C506.25,117.25 507.57,118.61 509.30,119.49 C511.03,120.38 512.98,121.16 515.10,121.85 C517.22,122.54 519.88,123.28 522.00,123.62 C524.12,123.96 526.20,124.15 527.80,123.88 C529.40,123.61 530.38,122.66 531.60,122.00 C532.82,121.34 533.93,120.37 535.10,119.90 C536.27,119.43 537.45,119.07 538.60,119.20 C539.75,119.33 540.65,120.47 542.00,120.70 C543.35,120.93 545.15,120.67 546.70,120.60 C548.25,120.53 549.57,120.27 551.30,120.30 C553.03,120.33 555.17,120.42 557.10,120.80 C559.03,121.18 560.97,121.93 562.90,122.60 C564.83,123.27 567.17,124.33 568.70,124.80 C570.23,125.27 571.13,125.58 572.10,125.40 C573.07,125.22 573.93,124.18 574.50,123.70 C575.07,123.22 575.33,122.70 575.50,122.50" fill="none" stroke="#FF0000" stroke-width="0.7" stroke-opacity="0.9" stroke-linejoin="round" stroke-linecap="round"/><path d="M489.40,125.60 C489.82,125.18 490.90,124.28 491.90,123.10 C492.90,121.92 494.38,119.68 495.40,118.50 C496.42,117.32 497.23,116.48 498.00,116.00 C498.77,115.52 498.88,115.47 500.00,115.60 C501.12,115.73 503.15,116.10 504.70,116.78 C506.25,117.45 507.57,118.80 509.30,119.65 C511.03,120.51 512.98,121.27 515.10,121.92 C517.22,122.58 519.88,123.28 522.00,123.59 C524.12,123.90 526.20,124.05 527.80,123.76 C529.40,123.47 530.38,122.51 531.60,121.84 C532.82,121.17 533.93,120.20 535.10,119.72 C536.27,119.25 537.45,118.88 538.60,119.01 C539.75,119.14 540.65,120.27 542.00,120.51 C543.35,120.75 545.15,120.50 546.70,120.44 C548.25,120.38 549.57,120.12 551.30,120.16 C553.03,120.21 555.17,120.30 557.10,120.70 C559.03,121.09 560.97,121.85 562.90,122.53 C564.83,123.21 567.17,124.29 568.70,124.76 C570.23,125.24 571.13,125.56 572.10,125.38 C573.07,125.21 573.93,124.18 574.50,123.70 C575.07,123.22 575.33,122.70 575.50,122.50" fill="none" stroke="#008000" stroke-width="0.7" stroke-opacity="0.9" stroke-linejoin="round" stroke-linecap="round"/><path d="M489.40,125.62 C489.82,125.22 490.90,124.37 491.90,123.23 C492.90,122.09 494.38,119.93 495.40,118.79 C496.42,117.65 497.23,116.86 498.00,116.41 C498.77,115.96 498.88,115.96 500.00,116.10 C501.12,116.24 503.15,116.58 504.70,117.24 C506.25,117.91 507.57,119.24 509.30,120.08 C511.03,120.93 512.98,121.67 515.10,122.31 C517.22,122.95 519.88,123.63 522.00,123.92 C524.12,124.22 526.20,124.36 527.80,124.05 C529.40,123.75 530.38,122.79 531.60,122.11 C532.82,121.42 533.93,120.44 535.10,119.96 C536.27,119.48 537.45,119.09 538.60,119.22 C539.75,119.34 540.65,120.47 542.00,120.70 C543.35,120.93 545.15,120.67 546.70,120.60 C548.25,120.53 549.57,120.27 551.30,120.30 C553.03,120.33 555.17,120.42 557.10,120.80 C559.03,121.18 560.97,121.93 562.90,122.60 C564.83,123.27 567.17,124.33 568.70,124.80 C570.23,125.27 571.13,125.58 572.10,125.40 C573.07,125.22 573.93,124.18 574.50,123.70 C575.07,123.22 575.33,122.70 575.50,122.50" fill="none" stroke="#0000FF" stroke-width="0.7" stroke-opacity="0.9" stroke-linejoin="round" stroke-linecap="round"/><path d="M489.40,125.60 C489.82,125.18 490.90,124.28 491.90,123.10 C492.90,121.92 494.38,119.68 495.40,118.50 C496.42,117.32 497.23,116.48 498.00,116.00 C498.77,115.52 498.88,115.47 500.00,115.60 C501.12,115.73 503.15,116.12 504.70,116.80 C506.25,117.48 507.57,118.83 509.30,119.70 C511.03,120.57 512.98,121.33 515.10,122.00 C517.22,122.67 519.88,123.38 522.00,123.70 C524.12,124.02 526.20,124.18 527.80,123.90 C529.40,123.62 530.38,122.67 531.60,122.00 C532.82,121.33 533.93,120.37 535.10,119.90 C536.27,119.43 537.45,119.07 538.60,119.20 C539.75,119.33 540.65,120.47 542.00,120.70 C543.35,120.93 545.15,120.67 546.70,120.60 C548.25,120.53 549.57,120.27 551.30,120.30 C553.03,120.33 555.17,120.42 557.10,120.80 C559.03,121.18 560.97,121.93 562.90,122.60 C564.83,123.27 567.17,124.33 568.70,124.80 C570.23,125.27 571.13,125.58 572.10,125.40 C573.07,125.22 573.93,124.18 574.50,123.70 C575.07,123.22 575.33,122.70 575.50,122.50" fill="none" stroke="#800080" stroke-width="0.7" stroke-opacity="0.9" stroke-linejoin="round" stroke-linecap="round"/>
<line x1="488.5" y1="163.4" x2="488.5" y2="211.4" class="axis"/>
<line x1="489.3" y1="186.9" x2="576.8" y2="186.9" class="zero"/>
<line x1="486.7" y1="172.60" x2="490.7" y2="172.60" class="tick"/>
<text x="484.7" y="176.20" class="tl" text-anchor="end">1</text>
<line x1="486.7" y1="186.90" x2="490.7" y2="186.90" class="tick"/>
<text x="484.7" y="190.50" class="tl" text-anchor="end">0</text>
<line x1="486.7" y1="201.20" x2="490.7" y2="201.20" class="tick"/>
<text x="484.7" y="204.80" class="tl" text-anchor="end">-1</text>
<line x1="486.7" y1="215.50" x2="490.7" y2="215.50" class="tick"/>
<text x="484.7" y="219.10" class="tl" text-anchor="end">-2</text>
<path d="M489.40,186.70 C489.75,186.53 490.78,185.92 491.50,185.70 C492.22,185.48 492.85,185.25 493.70,185.40 C494.55,185.55 495.40,186.01 496.60,186.60 C497.80,187.19 499.22,188.26 500.90,188.95 C502.58,189.64 504.53,190.02 506.70,190.73 C508.87,191.45 512.02,192.53 513.90,193.21 C515.78,193.89 516.55,194.17 518.00,194.80 C519.45,195.43 521.35,196.11 522.60,197.00 C523.85,197.89 524.53,199.24 525.50,200.12 C526.47,200.99 527.43,201.79 528.40,202.23 C529.37,202.67 530.33,202.89 531.30,202.76 C532.27,202.63 533.23,202.37 534.20,201.44 C535.17,200.51 536.13,198.72 537.10,197.20 C538.07,195.68 539.03,194.08 540.00,192.30 C540.97,190.52 541.93,187.83 542.90,186.50 C543.87,185.17 544.60,184.57 545.80,184.30 C547.00,184.03 547.93,184.75 550.10,184.90 C552.27,185.05 556.15,185.08 558.80,185.20 C561.45,185.32 564.07,185.37 566.00,185.60 C567.93,185.83 568.90,186.35 570.40,186.60 C571.90,186.85 574.23,187.02 575.00,187.10 L575.00,188.10 C574.23,188.02 571.90,187.85 570.40,187.60 C568.90,187.35 567.93,186.83 566.00,186.60 C564.07,186.37 561.45,186.32 558.80,186.20 C556.15,186.08 552.27,186.05 550.10,185.90 C547.93,185.75 547.00,185.03 545.80,185.30 C544.60,185.57 543.87,186.17 542.90,187.50 C541.93,188.83 540.97,191.03 540.00,193.30 C539.03,195.57 538.07,198.85 537.10,201.10 C536.13,203.35 535.17,205.53 534.20,206.80 C533.23,208.07 532.27,208.53 531.30,208.70 C530.33,208.87 529.37,208.38 528.40,207.80 C527.43,207.22 526.47,206.23 525.50,205.20 C524.53,204.17 523.85,202.67 522.60,201.60 C521.35,200.53 519.45,199.62 518.00,198.80 C516.55,197.98 515.78,197.65 513.90,196.70 C512.02,195.75 508.87,194.18 506.70,193.10 C504.53,192.02 502.58,191.20 500.90,190.20 C499.22,189.20 497.80,187.82 496.60,187.10 C495.40,186.38 494.55,186.05 493.70,185.90 C492.85,185.75 492.22,185.98 491.50,186.20 C490.78,186.42 489.75,187.03 489.40,187.20 Z" fill="#B8E0A8" fill-opacity="0.38" stroke="none"/><path d="M489.40,187.20 C489.75,187.03 490.78,186.42 491.50,186.20 C492.22,185.98 492.85,185.75 493.70,185.90 C494.55,186.05 495.40,186.38 496.60,187.10 C497.80,187.82 499.22,189.20 500.90,190.20 C502.58,191.20 504.53,192.02 506.70,193.10 C508.87,194.18 512.02,195.75 513.90,196.70 C515.78,197.65 516.55,197.98 518.00,198.80 C519.45,199.62 521.35,200.53 522.60,201.60 C523.85,202.67 524.53,204.17 525.50,205.20 C526.47,206.23 527.43,207.22 528.40,207.80 C529.37,208.38 530.33,208.87 531.30,208.70 C532.27,208.53 533.23,208.07 534.20,206.80 C535.17,205.53 536.13,203.35 537.10,201.10 C538.07,198.85 539.03,195.57 540.00,193.30 C540.97,191.03 541.93,188.83 542.90,187.50 C543.87,186.17 544.60,185.57 545.80,185.30 C547.00,185.03 547.93,185.75 550.10,185.90 C552.27,186.05 556.15,186.08 558.80,186.20 C561.45,186.32 564.07,186.37 566.00,186.60 C567.93,186.83 568.90,187.35 570.40,187.60 C571.90,187.85 574.23,188.02 575.00,188.10 L575.00,188.60 C574.23,188.52 571.90,188.35 570.40,188.10 C568.90,187.85 567.93,187.33 566.00,187.10 C564.07,186.87 561.45,186.82 558.80,186.70 C556.15,186.58 552.27,186.55 550.10,186.40 C547.93,186.25 547.00,185.53 545.80,185.80 C544.60,186.07 543.87,186.67 542.90,188.00 C541.93,189.33 540.97,191.29 540.00,193.80 C539.03,196.31 538.07,200.44 537.10,203.05 C536.13,205.66 535.17,208.04 534.20,209.48 C533.23,210.92 532.27,211.54 531.30,211.67 C530.33,211.80 529.37,211.04 528.40,210.28 C527.43,209.52 526.47,208.28 525.50,207.10 C524.53,205.92 523.85,204.38 522.60,203.19 C521.35,202.01 519.45,200.94 518.00,199.99 C516.55,199.05 515.78,198.60 513.90,197.54 C512.02,196.47 508.87,194.74 506.70,193.60 C504.53,192.46 502.58,191.70 500.90,190.70 C499.22,189.70 497.80,188.32 496.60,187.60 C495.40,186.88 494.55,186.55 493.70,186.40 C492.85,186.25 492.22,186.48 491.50,186.70 C490.78,186.92 489.75,187.53 489.40,187.70 Z" fill="#B895C8" fill-opacity="0.54" stroke="none"/><path d="M489.40,187.20 C489.75,187.03 490.78,186.42 491.50,186.20 C492.22,185.98 492.85,185.75 493.70,185.90 C494.55,186.05 495.40,186.38 496.60,187.10 C497.80,187.82 499.22,189.20 500.90,190.20 C502.58,191.20 504.53,192.07 506.70,193.10 C508.87,194.13 512.02,195.53 513.90,196.37 C515.78,197.20 516.55,197.42 518.00,198.11 C519.45,198.81 521.35,199.60 522.60,200.52 C523.85,201.44 524.56,202.81 525.50,203.66 C526.44,204.50 527.49,205.21 528.24,205.59 C528.99,205.98 529.32,206.11 529.98,205.98 C530.64,205.85 531.35,205.85 532.20,204.83 C533.05,203.81 534.13,201.88 535.10,199.88 C536.07,197.87 536.79,194.86 538.00,192.80 C539.21,190.74 541.05,188.75 542.35,187.50 C543.65,186.25 544.51,185.57 545.80,185.30 C547.09,185.03 547.93,185.75 550.10,185.90 C552.27,186.05 556.15,186.08 558.80,186.20 C561.45,186.32 564.07,186.37 566.00,186.60 C567.93,186.83 568.90,187.35 570.40,187.60 C571.90,187.85 574.23,188.02 575.00,188.10" fill="none" stroke="#FFA500" stroke-width="0.7" stroke-opacity="0.9" stroke-linejoin="round" stroke-linecap="round"/><path d="M489.40,187.20 C489.75,187.03 490.78,186.42 491.50,186.20 C492.22,185.98 492.85,185.75 493.70,185.90 C494.55,186.05 495.40,186.38 496.60,187.10 C497.80,187.82 499.22,189.20 500.90,190.20 C502.58,191.20 504.53,192.03 506.70,193.10 C508.87,194.17 512.02,195.69 513.90,196.62 C515.78,197.54 516.55,197.84 518.00,198.63 C519.45,199.41 521.35,200.30 522.60,201.33 C523.85,202.36 524.55,203.82 525.50,204.79 C526.45,205.77 527.46,206.66 528.32,207.19 C529.18,207.71 529.83,208.08 530.64,207.92 C531.45,207.75 532.29,207.40 533.20,206.19 C534.11,204.99 535.13,202.87 536.10,200.69 C537.07,198.52 537.91,195.33 539.00,193.13 C540.09,190.93 541.49,188.81 542.62,187.50 C543.76,186.19 544.55,185.57 545.80,185.30 C547.05,185.03 547.93,185.75 550.10,185.90 C552.27,186.05 556.15,186.08 558.80,186.20 C561.45,186.32 564.07,186.37 566.00,186.60 C567.93,186.83 568.90,187.35 570.40,187.60 C571.90,187.85 574.23,188.02 575.00,188.10" fill="none" stroke="#FF0000" stroke-width="0.7" stroke-opacity="0.9" stroke-linejoin="round" stroke-linecap="round"/><path d="M489.40,186.80 C489.75,186.63 490.78,186.02 491.50,185.80 C492.22,185.58 492.85,185.35 493.70,185.50 C494.55,185.65 495.40,185.98 496.60,186.70 C497.80,187.42 499.22,188.80 500.90,189.80 C502.58,190.80 504.53,191.64 506.70,192.70 C508.87,193.76 512.02,195.28 513.90,196.19 C515.78,197.10 516.55,197.40 518.00,198.17 C519.45,198.95 521.35,199.84 522.60,200.84 C523.85,201.84 524.54,203.26 525.50,204.19 C526.46,205.11 527.45,205.91 528.34,206.37 C529.23,206.83 529.98,207.09 530.84,206.95 C531.70,206.80 532.57,206.62 533.50,205.51 C534.43,204.40 535.43,202.37 536.40,200.28 C537.37,198.19 538.25,195.10 539.30,192.97 C540.35,190.84 541.62,188.78 542.71,187.50 C543.79,186.22 544.57,185.57 545.80,185.30 C547.03,185.03 547.93,185.75 550.10,185.90 C552.27,186.05 556.15,186.08 558.80,186.20 C561.45,186.32 564.07,186.37 566.00,186.60 C567.93,186.83 568.90,187.35 570.40,187.60 C571.90,187.85 574.23,188.02 575.00,188.10" fill="none" stroke="#008000" stroke-width="0.7" stroke-opacity="0.9" stroke-linejoin="round" stroke-linecap="round"/><path d="M489.40,187.20 C489.75,187.03 490.78,186.42 491.50,186.20 C492.22,185.98 492.85,185.75 493.70,185.90 C494.55,186.05 495.40,186.38 496.60,187.10 C497.80,187.82 499.22,189.20 500.90,190.20 C502.58,191.20 504.53,192.03 506.70,193.10 C508.87,194.17 512.02,195.71 513.90,196.64 C515.78,197.58 516.55,197.89 518.00,198.69 C519.45,199.48 521.35,200.37 522.60,201.42 C523.85,202.47 524.54,203.96 525.50,204.98 C526.46,206.00 527.44,206.97 528.38,207.54 C529.31,208.11 530.18,208.57 531.10,208.41 C532.02,208.25 532.95,207.83 533.90,206.59 C534.85,205.35 535.83,203.19 536.80,200.97 C537.77,198.74 538.70,195.49 539.70,193.25 C540.70,191.00 541.80,188.82 542.82,187.50 C543.83,186.18 544.59,185.57 545.80,185.30 C547.01,185.03 547.93,185.75 550.10,185.90 C552.27,186.05 556.15,186.08 558.80,186.20 C561.45,186.32 564.07,186.37 566.00,186.60 C567.93,186.83 568.90,187.35 570.40,187.60 C571.90,187.85 574.23,188.02 575.00,188.10" fill="none" stroke="#0000FF" stroke-width="0.7" stroke-opacity="0.9" stroke-linejoin="round" stroke-linecap="round"/><path d="M489.40,187.20 C489.75,187.03 490.78,186.42 491.50,186.20 C492.22,185.98 492.85,185.75 493.70,185.90 C494.55,186.05 495.40,186.38 496.60,187.10 C497.80,187.82 499.22,189.20 500.90,190.20 C502.58,191.20 504.53,192.02 506.70,193.10 C508.87,194.18 512.02,195.75 513.90,196.70 C515.78,197.65 516.55,197.98 518.00,198.80 C519.45,199.62 521.35,200.53 522.60,201.60 C523.85,202.67 524.53,204.17 525.50,205.20 C526.47,206.23 527.43,207.22 528.40,207.80 C529.37,208.38 530.33,208.87 531.30,208.70 C532.27,208.53 533.23,208.07 534.20,206.80 C535.17,205.53 536.13,203.35 537.10,201.10 C538.07,198.85 539.03,195.57 540.00,193.30 C540.97,191.03 541.93,188.83 542.90,187.50 C543.87,186.17 544.60,185.57 545.80,185.30 C547.00,185.03 547.93,185.75 550.10,185.90 C552.27,186.05 556.15,186.08 558.80,186.20 C561.45,186.32 564.07,186.37 566.00,186.60 C567.93,186.83 568.90,187.35 570.40,187.60 C571.90,187.85 574.23,188.02 575.00,188.10" fill="none" stroke="#800080" stroke-width="0.7" stroke-opacity="0.9" stroke-linejoin="round" stroke-linecap="round"/>
<line x1="488.5" y1="226.4" x2="488.5" y2="272.4" class="axis"/>
<line x1="489.3" y1="247.6" x2="576.8" y2="247.6" class="zero"/>
<line x1="486.7" y1="233.30" x2="490.7" y2="233.30" class="tick"/>
<text x="484.7" y="236.90" class="tl" text-anchor="end">1</text>
<line x1="486.7" y1="247.60" x2="490.7" y2="247.60" class="tick"/>
<text x="484.7" y="251.20" class="tl" text-anchor="end">0</text>
<line x1="486.7" y1="261.90" x2="490.7" y2="261.90" class="tick"/>
<text x="484.7" y="265.50" class="tl" text-anchor="end">-1</text>
<line x1="486.7" y1="276.20" x2="490.7" y2="276.20" class="tick"/>
<path d="M520.00,247.20 C520.83,247.08 523.50,246.86 525.00,246.50 C526.50,246.14 527.75,245.60 529.00,245.07 C530.25,244.53 531.42,243.83 532.50,243.28 C533.58,242.72 534.72,242.03 535.50,241.72 C536.28,241.42 536.62,241.35 537.20,241.43 C537.78,241.50 538.28,241.66 539.00,242.15 C539.72,242.64 540.67,243.59 541.50,244.36 C542.33,245.13 543.28,246.25 544.00,246.78 C544.72,247.30 544.80,247.38 545.80,247.50 C546.80,247.62 549.30,247.50 550.00,247.50 L550.00,247.50 C549.30,247.50 546.80,247.55 545.80,247.50 C544.80,247.45 544.72,247.48 544.00,247.21 C543.28,246.94 542.33,246.30 541.50,245.89 C540.67,245.49 539.72,244.95 539.00,244.78 C538.28,244.60 537.78,244.84 537.20,244.84 C536.62,244.84 536.28,244.68 535.50,244.79 C534.72,244.89 533.58,245.22 532.50,245.46 C531.42,245.70 530.25,246.06 529.00,246.23 C527.75,246.41 526.50,246.34 525.00,246.50 C523.50,246.66 520.83,247.08 520.00,247.20 Z" fill="#8FD08F" fill-opacity="0.30" stroke="none"/><path d="M489.40,247.90 C490.98,247.97 495.02,248.37 498.90,248.30 C502.78,248.23 509.18,247.68 512.70,247.50 C516.22,247.32 517.95,247.37 520.00,247.20 C522.05,247.03 523.50,246.73 525.00,246.50 C526.50,246.27 527.75,246.11 529.00,245.80 C530.25,245.49 531.42,245.01 532.50,244.65 C533.58,244.29 534.72,243.83 535.50,243.65 C536.28,243.47 536.62,243.54 537.20,243.57 C537.78,243.59 538.28,243.51 539.00,243.80 C539.72,244.09 540.67,244.78 541.50,245.33 C542.33,245.87 543.28,246.69 544.00,247.05 C544.72,247.41 544.80,247.43 545.80,247.50 C546.80,247.57 545.10,247.50 550.00,247.50 C554.90,247.50 571.00,247.50 575.20,247.50" fill="none" stroke="#800080" stroke-width="0.7" stroke-opacity="0.9" stroke-linejoin="round" stroke-linecap="round"/><path d="M520.00,247.20 C520.83,247.08 523.50,246.68 525.00,246.50 C526.50,246.32 527.75,246.31 529.00,246.10 C530.25,245.89 531.42,245.49 532.50,245.21 C533.58,244.94 534.72,244.56 535.50,244.44 C536.28,244.31 536.62,244.44 537.20,244.45 C537.78,244.45 538.28,244.26 539.00,244.47 C539.72,244.69 540.67,245.27 541.50,245.72 C542.33,246.17 543.28,246.87 544.00,247.16 C544.72,247.46 544.80,247.44 545.80,247.50 C546.80,247.56 549.30,247.50 550.00,247.50" fill="none" stroke="#FF0000" stroke-width="0.7" stroke-opacity="0.9" stroke-linejoin="round" stroke-linecap="round"/><path d="M520.00,247.20 C520.83,247.08 523.50,246.74 525.00,246.50 C526.50,246.26 527.75,246.06 529.00,245.73 C530.25,245.40 531.42,244.90 532.50,244.53 C533.58,244.15 534.72,243.67 535.50,243.47 C536.28,243.28 536.62,243.35 537.20,243.38 C537.78,243.40 538.28,243.34 539.00,243.65 C539.72,243.96 540.67,244.68 541.50,245.24 C542.33,245.80 543.28,246.65 544.00,247.03 C544.72,247.40 544.80,247.42 545.80,247.50 C546.80,247.58 549.30,247.50 550.00,247.50" fill="none" stroke="#0000FF" stroke-width="0.7" stroke-opacity="0.9" stroke-linejoin="round" stroke-linecap="round"/><path d="M489.40,247.90 C490.98,247.97 495.02,248.37 498.90,248.30 C502.78,248.23 509.18,247.68 512.70,247.50 C516.22,247.32 517.95,247.37 520.00,247.20 C522.05,247.03 523.50,246.80 525.00,246.50 C526.50,246.20 527.75,245.83 529.00,245.40 C530.25,244.97 531.42,244.37 532.50,243.90 C533.58,243.43 534.72,242.85 535.50,242.60 C536.28,242.35 536.62,242.35 537.20,242.40 C537.78,242.45 538.28,242.50 539.00,242.90 C539.72,243.30 540.67,244.13 541.50,244.80 C542.33,245.47 543.28,246.45 544.00,246.90 C544.72,247.35 544.80,247.40 545.80,247.50 C546.80,247.60 545.10,247.50 550.00,247.50 C554.90,247.50 571.00,247.50 575.20,247.50" fill="none" stroke="#008000" stroke-width="0.7" stroke-opacity="0.9" stroke-linejoin="round" stroke-linecap="round"/>
<path d="M489.3,291.47999999999996 V294.08 H576.8 V291.47999999999996 M531.91,294.08 V291.47999999999996" class="xaxis"/>
<text x="488.70" y="291.98" class="tl" text-anchor="middle">0</text>
<text x="531.91" y="291.98" class="tl" text-anchor="middle">50</text>
<text x="575.80" y="291.98" class="tl" text-anchor="middle">100</text>
<text x="532.35" y="307.88" class="xl" text-anchor="middle">%Gait Progress</text>
<text x="632" y="39.65" class="title" text-anchor="middle">Power</text>
<text x="582.1" y="30.0" class="unit" text-anchor="middle">(W/kg)</text>
<line x1="589.8" y1="37.4" x2="589.8" y2="88.4" class="axis"/>
<line x1="591.4" y1="64.4" x2="678.6" y2="64.4" class="zero"/>
<line x1="588.0" y1="35.80" x2="592.0" y2="35.80" class="tick"/>
<text x="586.0" y="39.40" class="tl" text-anchor="end">2</text>
<line x1="588.0" y1="50.10" x2="592.0" y2="50.10" class="tick"/>
<text x="586.0" y="53.70" class="tl" text-anchor="end">1</text>
<line x1="588.0" y1="64.40" x2="592.0" y2="64.40" class="tick"/>
<text x="586.0" y="68.00" class="tl" text-anchor="end">0</text>
<line x1="588.0" y1="78.70" x2="592.0" y2="78.70" class="tick"/>
<text x="586.0" y="82.30" class="tl" text-anchor="end">-1</text>
<line x1="588.0" y1="93.00" x2="592.0" y2="93.00" class="tick"/>
<text x="586.0" y="96.60" class="tl" text-anchor="end">-2</text>
<path d="M591.40,64.18 C591.80,64.11 592.82,64.49 593.80,63.76 C594.78,63.03 596.15,61.17 597.30,59.81 C598.45,58.45 599.55,56.34 600.70,55.60 C601.85,54.86 602.85,55.03 604.20,55.40 C605.55,55.77 607.25,56.90 608.80,57.80 C610.35,58.70 611.75,59.90 613.50,60.82 C615.25,61.74 617.38,62.56 619.30,63.31 C621.22,64.06 623.27,64.77 625.00,65.30 C626.73,65.83 628.32,66.66 629.70,66.49 C631.08,66.31 632.10,65.71 633.30,64.25 C634.50,62.78 635.72,59.24 636.90,57.71 C638.08,56.17 639.05,55.42 640.40,55.02 C641.75,54.63 643.45,54.89 645.00,55.31 C646.55,55.74 648.15,56.61 649.70,57.58 C651.25,58.56 652.57,60.10 654.30,61.15 C656.03,62.20 658.37,63.47 660.10,63.91 C661.83,64.34 663.15,64.06 664.70,63.76 C666.25,63.46 668.05,62.28 669.40,62.12 C670.75,61.96 671.65,62.31 672.80,62.81 C673.95,63.31 675.52,64.61 676.30,65.11 C677.08,65.60 677.30,65.66 677.50,65.77 L677.50,65.83 C677.30,65.74 677.08,65.70 676.30,65.29 C675.52,64.89 673.95,63.76 672.80,63.39 C671.65,63.02 670.75,62.77 669.40,63.08 C668.05,63.39 666.25,64.77 664.70,65.24 C663.15,65.71 661.83,65.97 660.10,65.89 C658.37,65.82 656.03,65.36 654.30,64.81 C652.57,64.26 651.25,63.22 649.70,62.59 C648.15,61.95 646.55,61.26 645.00,61.00 C643.45,60.74 641.75,60.55 640.40,61.00 C639.05,61.45 638.08,62.16 636.90,63.69 C635.72,65.23 634.50,68.76 633.30,70.22 C632.10,71.68 631.08,72.28 629.70,72.46 C628.32,72.64 626.73,71.83 625.00,71.30 C623.27,70.77 621.22,70.06 619.30,69.31 C617.38,68.56 615.25,67.75 613.50,66.82 C611.75,65.89 610.35,64.69 608.80,63.74 C607.25,62.79 605.55,61.54 604.20,61.11 C602.85,60.68 601.85,60.68 600.70,61.14 C599.55,61.59 598.45,63.05 597.30,63.84 C596.15,64.63 594.78,65.69 593.80,65.88 C592.82,66.08 591.80,65.15 591.40,65.00 Z" fill="#BE98C4" fill-opacity="0.57" stroke="none"/><path d="M591.40,63.10 C591.80,63.15 592.82,63.83 593.80,63.40 C594.78,62.97 596.15,61.55 597.30,60.50 C598.45,59.45 599.55,57.70 600.70,57.10 C601.85,56.50 602.85,56.53 604.20,56.90 C605.55,57.27 607.25,58.42 608.80,59.30 C610.35,60.18 611.75,61.48 613.50,62.20 C615.25,62.92 617.38,63.29 619.30,63.64 C621.22,63.99 623.27,64.00 625.00,64.30 C626.73,64.60 628.32,65.63 629.70,65.46 C631.08,65.30 632.10,64.71 633.30,63.30 C634.50,61.89 635.72,58.45 636.90,57.00 C638.08,55.55 639.05,54.81 640.40,54.60 C641.75,54.39 643.45,55.06 645.00,55.75 C646.55,56.44 648.15,57.75 649.70,58.73 C651.25,59.70 652.57,60.82 654.30,61.60 C656.03,62.38 658.37,63.17 660.10,63.40 C661.83,63.63 663.15,63.38 664.70,63.00 C666.25,62.62 668.05,61.33 669.40,61.10 C670.75,60.87 671.65,61.17 672.80,61.60 C673.95,62.03 675.52,63.25 676.30,63.70 C677.08,64.15 677.30,64.20 677.50,64.30 L677.50,65.80 C677.30,65.70 677.08,65.65 676.30,65.20 C675.52,64.75 673.95,63.53 672.80,63.10 C671.65,62.67 670.75,62.37 669.40,62.60 C668.05,62.83 666.25,64.12 664.70,64.50 C663.15,64.88 661.83,65.13 660.10,64.90 C658.37,64.67 656.03,63.87 654.30,63.10 C652.57,62.33 651.25,61.07 649.70,60.30 C648.15,59.53 646.55,58.80 645.00,58.50 C643.45,58.20 641.75,58.08 640.40,58.50 C639.05,58.92 638.08,59.53 636.90,61.00 C635.72,62.47 634.50,65.92 633.30,67.30 C632.10,68.68 631.08,69.22 629.70,69.30 C628.32,69.38 626.73,68.35 625.00,67.80 C623.27,67.25 621.22,66.68 619.30,66.00 C617.38,65.32 615.25,64.57 613.50,63.70 C611.75,62.83 610.35,61.68 608.80,60.80 C607.25,59.92 605.55,58.77 604.20,58.40 C602.85,58.03 601.85,58.00 600.70,58.60 C599.55,59.20 598.45,60.95 597.30,62.00 C596.15,63.05 594.78,64.47 593.80,64.90 C592.82,65.33 591.80,64.65 591.40,64.60 Z" fill="#FFCF8A" fill-opacity="0.30" stroke="none"/><path d="M591.40,64.60 C591.80,64.66 592.82,65.35 593.80,64.93 C594.78,64.51 596.15,63.11 597.30,62.07 C598.45,61.04 599.55,59.30 600.70,58.71 C601.85,58.13 602.85,58.17 604.20,58.56 C605.55,58.94 607.25,60.11 608.80,61.01 C610.35,61.91 611.75,63.08 613.50,63.96 C615.25,64.85 617.38,65.63 619.30,66.33 C621.22,67.04 623.27,67.68 625.00,68.20 C626.73,68.72 628.32,69.61 629.70,69.45 C631.08,69.29 632.10,68.70 633.30,67.26 C634.50,65.81 635.72,62.29 636.90,60.77 C638.08,59.24 639.05,58.54 640.40,58.11 C641.75,57.68 643.45,57.87 645.00,58.20 C646.55,58.53 648.15,59.30 649.70,60.09 C651.25,60.89 652.57,62.18 654.30,62.99 C656.03,63.79 658.37,64.65 660.10,64.90 C661.83,65.15 663.15,64.88 664.70,64.50 C666.25,64.12 668.05,62.83 669.40,62.60 C670.75,62.37 671.65,62.67 672.80,63.10 C673.95,63.53 675.52,64.75 676.30,65.20 C677.08,65.65 677.30,65.70 677.50,65.80" fill="none" stroke="#FFA500" stroke-width="0.7" stroke-opacity="0.9" stroke-linejoin="round" stroke-linecap="round"/><path d="M591.40,64.61 C591.80,64.67 592.82,65.38 593.80,64.96 C594.78,64.55 596.15,63.17 597.30,62.15 C598.45,61.12 599.55,59.40 600.70,58.82 C601.85,58.25 602.85,58.33 604.20,58.70 C605.55,59.06 607.25,60.16 608.80,61.02 C610.35,61.88 611.75,63.00 613.50,63.84 C615.25,64.68 617.38,65.39 619.30,66.05 C621.22,66.70 623.27,67.23 625.00,67.75 C626.73,68.27 628.32,69.28 629.70,69.17 C631.08,69.07 632.10,68.52 633.30,67.11 C634.50,65.71 635.72,62.24 636.90,60.75 C638.08,59.27 639.05,58.62 640.40,58.20 C641.75,57.78 643.45,57.93 645.00,58.24 C646.55,58.55 648.15,59.30 649.70,60.08 C651.25,60.86 652.57,62.13 654.30,62.91 C656.03,63.69 658.37,64.51 660.10,64.76 C661.83,65.01 663.15,64.77 664.70,64.39 C666.25,64.02 668.05,62.75 669.40,62.53 C670.75,62.31 671.65,62.62 672.80,63.06 C673.95,63.50 675.52,64.73 676.30,65.19 C677.08,65.64 677.30,65.69 677.50,65.80" fill="none" stroke="#FF0000" stroke-width="0.7" stroke-opacity="0.9" stroke-linejoin="round" stroke-linecap="round"/><path d="M591.40,64.60 C591.80,64.65 592.82,65.34 593.80,64.92 C594.78,64.49 596.15,63.08 597.30,62.04 C598.45,60.99 599.55,59.25 600.70,58.66 C601.85,58.06 602.85,58.10 604.20,58.48 C605.55,58.85 607.25,60.01 608.80,60.90 C610.35,61.80 611.75,62.96 613.50,63.83 C615.25,64.71 617.38,65.47 619.30,66.17 C621.22,66.86 623.27,67.45 625.00,68.00 C626.73,68.55 628.32,69.57 629.70,69.48 C631.08,69.39 632.10,68.86 633.30,67.47 C634.50,66.08 635.72,62.63 636.90,61.16 C638.08,59.68 639.05,59.06 640.40,58.64 C641.75,58.22 643.45,58.33 645.00,58.62 C646.55,58.92 648.15,59.65 649.70,60.41 C651.25,61.17 652.57,62.43 654.30,63.19 C656.03,63.95 658.37,64.74 660.10,64.97 C661.83,65.19 663.15,64.94 664.70,64.55 C666.25,64.16 668.05,62.87 669.40,62.63 C670.75,62.39 671.65,62.69 672.80,63.12 C673.95,63.55 675.52,64.76 676.30,65.21 C677.08,65.65 677.30,65.70 677.50,65.80" fill="none" stroke="#008000" stroke-width="0.7" stroke-opacity="0.9" stroke-linejoin="round" stroke-linecap="round"/><path d="M591.40,64.61 C591.80,64.66 592.82,65.36 593.80,64.94 C594.78,64.52 596.15,63.13 597.30,62.09 C598.45,61.06 599.55,59.33 600.70,58.74 C601.85,58.16 602.85,58.21 604.20,58.59 C605.55,58.98 607.25,60.16 608.80,61.06 C610.35,61.97 611.75,63.14 613.50,64.03 C615.25,64.92 617.38,65.70 619.30,66.42 C621.22,67.13 623.27,67.75 625.00,68.30 C626.73,68.85 628.32,69.84 629.70,69.74 C631.08,69.64 632.10,69.09 633.30,67.69 C634.50,66.29 635.72,62.82 636.90,61.34 C638.08,59.86 639.05,59.23 640.40,58.80 C641.75,58.37 643.45,58.47 645.00,58.76 C646.55,59.05 648.15,59.77 649.70,60.52 C651.25,61.28 652.57,62.53 654.30,63.29 C656.03,64.04 658.37,64.82 660.10,65.04 C661.83,65.26 663.15,65.00 664.70,64.61 C666.25,64.21 668.05,62.91 669.40,62.67 C670.75,62.42 671.65,62.72 672.80,63.14 C673.95,63.57 675.52,64.77 676.30,65.21 C677.08,65.66 677.30,65.71 677.50,65.80" fill="none" stroke="#0000FF" stroke-width="0.7" stroke-opacity="0.9" stroke-linejoin="round" stroke-linecap="round"/><path d="M591.40,64.60 C591.80,64.65 592.82,65.33 593.80,64.90 C594.78,64.47 596.15,63.05 597.30,62.00 C598.45,60.95 599.55,59.20 600.70,58.60 C601.85,58.00 602.85,58.03 604.20,58.40 C605.55,58.77 607.25,59.92 608.80,60.80 C610.35,61.68 611.75,62.83 613.50,63.70 C615.25,64.57 617.38,65.32 619.30,66.00 C621.22,66.68 623.27,67.25 625.00,67.80 C626.73,68.35 628.32,69.38 629.70,69.30 C631.08,69.22 632.10,68.68 633.30,67.30 C634.50,65.92 635.72,62.47 636.90,61.00 C638.08,59.53 639.05,58.92 640.40,58.50 C641.75,58.08 643.45,58.20 645.00,58.50 C646.55,58.80 648.15,59.53 649.70,60.30 C651.25,61.07 652.57,62.33 654.30,63.10 C656.03,63.87 658.37,64.67 660.10,64.90 C661.83,65.13 663.15,64.88 664.70,64.50 C666.25,64.12 668.05,62.83 669.40,62.60 C670.75,62.37 671.65,62.67 672.80,63.10 C673.95,63.53 675.52,64.75 676.30,65.20 C677.08,65.65 677.30,65.70 677.50,65.80" fill="none" stroke="#800080" stroke-width="0.7" stroke-opacity="0.9" stroke-linejoin="round" stroke-linecap="round"/>
<line x1="589.8" y1="97.4" x2="589.8" y2="149.4" class="axis"/>
<line x1="591.4" y1="124.80000000000001" x2="678.6" y2="124.80000000000001" class="zero"/>
<line x1="588.0" y1="110.80" x2="592.0" y2="110.80" class="tick"/>
<text x="586.0" y="114.40" class="tl" text-anchor="end">1</text>
<line x1="588.0" y1="124.80" x2="592.0" y2="124.80" class="tick"/>
<text x="586.0" y="128.40" class="tl" text-anchor="end">0</text>
<line x1="588.0" y1="138.80" x2="592.0" y2="138.80" class="tick"/>
<text x="586.0" y="142.40" class="tl" text-anchor="end">-1</text>
<line x1="588.0" y1="152.80" x2="592.0" y2="152.80" class="tick"/>
<text x="586.0" y="156.40" class="tl" text-anchor="end">-2</text>
<path d="M591.40,124.27 C591.80,124.22 593.03,123.74 593.80,123.97 C594.57,124.19 595.28,125.17 596.00,125.63 C596.72,126.09 597.43,126.62 598.10,126.73 C598.77,126.84 599.35,126.59 600.00,126.30 C600.65,126.01 601.10,125.66 602.00,125.00 C602.90,124.34 604.23,122.73 605.40,122.37 C606.57,122.01 607.53,122.65 609.00,122.85 C610.47,123.06 612.53,123.39 614.20,123.60 C615.87,123.81 617.30,124.00 619.00,124.10 C620.70,124.20 622.90,124.38 624.40,124.20 C625.90,124.02 627.02,123.33 628.00,123.00 C628.98,122.67 629.55,122.23 630.30,122.20 C631.05,122.17 631.78,122.38 632.50,122.80 C633.22,123.22 633.85,123.75 634.60,124.70 C635.35,125.65 636.27,127.58 637.00,128.50 C637.73,129.42 638.33,130.15 639.00,130.20 C639.67,130.25 640.27,129.57 641.00,128.80 C641.73,128.03 642.57,126.32 643.40,125.60 C644.23,124.88 644.90,124.73 646.00,124.50 C647.10,124.27 648.25,124.22 650.00,124.20 C651.75,124.18 654.68,124.07 656.50,124.40 C658.32,124.73 659.65,125.35 660.90,126.20 C662.15,127.05 663.02,128.28 664.00,129.50 C664.98,130.72 665.85,132.40 666.80,133.50 C667.75,134.60 668.73,136.03 669.70,136.10 C670.67,136.17 671.80,134.86 672.60,133.91 C673.40,132.97 673.87,131.54 674.50,130.43 C675.13,129.32 676.08,127.77 676.40,127.24 L676.40,128.34 C676.08,129.19 675.13,131.68 674.50,133.43 C673.87,135.17 673.40,137.13 672.60,138.81 C671.80,140.50 670.67,143.27 669.70,143.56 C668.73,143.84 667.75,141.76 666.80,140.52 C665.85,139.28 664.98,137.46 664.00,136.10 C663.02,134.74 662.15,133.28 660.90,132.33 C659.65,131.38 658.32,130.76 656.50,130.40 C654.68,130.04 651.75,130.18 650.00,130.20 C648.25,130.22 647.10,130.13 646.00,130.50 C644.90,130.87 644.23,131.35 643.40,132.40 C642.57,133.45 641.73,135.67 641.00,136.80 C640.27,137.93 639.67,139.21 639.00,139.20 C638.33,139.19 637.73,137.92 637.00,136.72 C636.27,135.52 635.35,133.23 634.60,131.99 C633.85,130.75 633.22,129.97 632.50,129.27 C631.78,128.58 631.05,127.94 630.30,127.82 C629.55,127.70 628.98,128.21 628.00,128.55 C627.02,128.89 625.90,129.62 624.40,129.84 C622.90,130.06 620.70,129.93 619.00,129.88 C617.30,129.82 615.87,129.64 614.20,129.50 C612.53,129.35 610.47,129.07 609.00,129.00 C607.53,128.93 606.57,128.53 605.40,129.06 C604.23,129.59 602.90,131.41 602.00,132.20 C601.10,132.99 600.65,133.69 600.00,133.80 C599.35,133.91 598.77,133.45 598.10,132.86 C597.43,132.27 596.72,131.22 596.00,130.24 C595.28,129.27 594.57,127.77 593.80,126.99 C593.03,126.21 591.80,125.79 591.40,125.56 Z" fill="#BFA9D6" fill-opacity="0.61" stroke="none"/><path d="M591.40,124.90 C591.80,124.98 593.03,124.92 593.80,125.40 C594.57,125.88 595.28,127.10 596.00,127.80 C596.72,128.50 597.43,129.27 598.10,129.60 C598.77,129.93 599.35,130.00 600.00,129.80 C600.65,129.60 601.10,129.10 602.00,128.40 C602.90,127.70 604.23,126.02 605.40,125.60 C606.57,125.18 607.53,125.73 609.00,125.90 C610.47,126.07 612.53,126.40 614.20,126.60 C615.87,126.80 617.30,127.00 619.00,127.10 C620.70,127.20 622.90,127.38 624.40,127.20 C625.90,127.02 627.02,126.33 628.00,126.00 C628.98,125.67 629.55,125.23 630.30,125.20 C631.05,125.17 631.78,125.38 632.50,125.80 C633.22,126.22 633.85,126.75 634.60,127.70 C635.35,128.65 636.27,130.58 637.00,131.50 C637.73,132.42 638.33,133.15 639.00,133.20 C639.67,133.25 640.27,132.57 641.00,131.80 C641.73,131.03 642.57,129.32 643.40,128.60 C644.23,127.88 644.90,127.73 646.00,127.50 C647.10,127.27 648.25,127.22 650.00,127.20 C651.75,127.18 654.68,127.07 656.50,127.40 C658.32,127.73 659.65,128.35 660.90,129.20 C662.15,130.05 663.02,131.28 664.00,132.50 C664.98,133.72 665.85,135.40 666.80,136.50 C667.75,137.60 668.73,139.22 669.70,139.10 C670.67,138.98 671.80,137.07 672.60,135.80 C673.40,134.53 673.87,132.88 674.50,131.50 C675.13,130.12 676.08,128.17 676.40,127.50 L676.40,127.67 C676.08,128.43 675.13,130.65 674.50,132.21 C673.87,133.78 673.40,135.58 672.60,137.06 C671.80,138.53 670.67,140.88 669.70,141.07 C668.73,141.26 667.75,139.38 666.80,138.18 C665.85,136.99 664.98,135.22 664.00,133.90 C663.02,132.59 662.15,131.16 660.90,130.29 C659.65,129.42 658.32,128.89 656.50,128.66 C654.68,128.44 651.75,128.80 650.00,128.95 C648.25,129.10 647.10,129.23 646.00,129.55 C644.90,129.87 644.23,130.07 643.40,130.84 C642.57,131.62 641.73,133.43 641.00,134.23 C640.27,135.02 639.67,135.69 639.00,135.60 C638.33,135.51 637.73,134.69 637.00,133.70 C636.27,132.71 635.35,130.69 634.60,129.66 C633.85,128.63 633.22,128.04 632.50,127.55 C631.78,127.06 631.05,126.75 630.30,126.73 C629.55,126.71 628.98,127.13 628.00,127.42 C627.02,127.71 625.90,128.36 624.40,128.48 C622.90,128.61 620.70,128.34 619.00,128.17 C617.30,128.01 615.87,127.68 614.20,127.49 C612.53,127.29 610.47,127.07 609.00,127.00 C607.53,126.93 606.57,126.38 605.40,127.06 C604.23,127.74 602.90,130.06 602.00,131.10 C601.10,132.14 600.65,133.12 600.00,133.30 C599.35,133.48 598.77,132.82 598.10,132.15 C597.43,131.48 596.72,130.26 596.00,129.30 C595.28,128.34 594.57,126.97 593.80,126.40 C593.03,125.83 591.80,125.98 591.40,125.90 Z" fill="#FFCF8A" fill-opacity="0.47" stroke="none"/><path d="M591.40,125.00 C591.80,125.19 593.03,125.44 593.80,126.12 C594.57,126.80 595.28,128.20 596.00,129.08 C596.72,129.96 597.43,130.95 598.10,131.42 C598.77,131.89 599.35,132.14 600.00,131.90 C600.65,131.66 601.10,130.89 602.00,129.98 C602.90,129.06 604.23,126.95 605.40,126.40 C606.57,125.85 607.53,126.53 609.00,126.70 C610.47,126.87 612.53,127.20 614.20,127.40 C615.87,127.60 617.30,127.78 619.00,127.90 C620.70,128.02 622.90,128.27 624.40,128.12 C625.90,127.97 627.02,127.32 628.00,127.01 C628.98,126.71 629.55,126.29 630.30,126.27 C631.05,126.26 631.78,126.50 632.50,126.93 C633.22,127.37 633.85,127.97 634.60,128.89 C635.35,129.81 636.27,131.62 637.00,132.46 C637.73,133.30 638.33,133.93 639.00,133.92 C639.67,133.91 640.27,133.18 641.00,132.40 C641.73,131.61 642.57,129.90 643.40,129.18 C644.23,128.46 644.90,128.31 646.00,128.07 C647.10,127.83 648.25,127.78 650.00,127.75 C651.75,127.72 654.68,127.59 656.50,127.92 C658.32,128.24 659.65,128.85 660.90,129.70 C662.15,130.55 663.02,131.78 664.00,133.00 C664.98,134.22 665.85,135.90 666.80,137.00 C667.75,138.10 668.73,139.75 669.70,139.60 C670.67,139.45 671.80,137.43 672.60,136.11 C673.40,134.79 673.87,133.11 674.50,131.68 C675.13,130.25 676.08,128.23 676.40,127.54" fill="none" stroke="#FFA500" stroke-width="0.7" stroke-opacity="0.9" stroke-linejoin="round" stroke-linecap="round"/><path d="M591.40,124.94 C591.80,125.05 593.03,125.10 593.80,125.65 C594.57,126.20 595.28,127.48 596.00,128.24 C596.72,129.01 597.43,129.84 598.10,130.23 C598.77,130.62 599.35,130.78 600.00,130.60 C600.65,130.42 601.10,129.88 602.00,129.16 C602.90,128.44 604.23,126.73 605.40,126.29 C606.57,125.85 607.53,126.38 609.00,126.52 C610.47,126.66 612.53,126.95 614.20,127.12 C615.87,127.28 617.30,127.45 619.00,127.52 C620.70,127.59 622.90,127.73 624.40,127.51 C625.90,127.30 627.02,126.59 628.00,126.24 C628.98,125.89 629.55,125.44 630.30,125.39 C631.05,125.35 631.78,125.55 632.50,125.95 C633.22,126.35 633.85,126.87 634.60,127.81 C635.35,128.74 636.27,130.66 637.00,131.56 C637.73,132.46 638.33,133.18 639.00,133.22 C639.67,133.26 640.27,132.57 641.00,131.80 C641.73,131.03 642.57,129.32 643.40,128.60 C644.23,127.88 644.90,127.73 646.00,127.50 C647.10,127.27 648.25,127.22 650.00,127.20 C651.75,127.18 654.68,127.07 656.50,127.40 C658.32,127.73 659.65,128.35 660.90,129.20 C662.15,130.05 663.02,131.28 664.00,132.50 C664.98,133.72 665.85,135.40 666.80,136.50 C667.75,137.60 668.73,139.22 669.70,139.10 C670.67,138.98 671.80,137.07 672.60,135.80 C673.40,134.53 673.87,132.88 674.50,131.50 C675.13,130.12 676.08,128.17 676.40,127.50" fill="none" stroke="#FF0000" stroke-width="0.7" stroke-opacity="0.9" stroke-linejoin="round" stroke-linecap="round"/><path d="M591.40,124.92 C591.80,125.02 593.03,125.01 593.80,125.52 C594.57,126.04 595.28,127.29 596.00,128.02 C596.72,128.75 597.43,129.55 598.10,129.92 C598.77,130.28 599.35,130.39 600.00,130.20 C600.65,130.01 601.10,129.50 602.00,128.80 C602.90,128.09 604.23,126.41 605.40,125.99 C606.57,125.57 607.53,126.11 609.00,126.28 C610.47,126.44 612.53,126.77 614.20,126.96 C615.87,127.16 617.30,127.36 619.00,127.45 C620.70,127.55 622.90,127.73 624.40,127.54 C625.90,127.35 627.02,126.67 628.00,126.33 C628.98,125.99 629.55,125.56 630.30,125.52 C631.05,125.49 631.78,125.70 632.50,126.12 C633.22,126.53 633.85,127.07 634.60,128.01 C635.35,128.96 636.27,130.89 637.00,131.81 C637.73,132.72 638.33,133.46 639.00,133.50 C639.67,133.55 640.27,132.86 641.00,132.09 C641.73,131.32 642.57,129.60 643.40,128.87 C644.23,128.15 644.90,127.99 646.00,127.75 C647.10,127.51 648.25,127.45 650.00,127.42 C651.75,127.39 654.68,127.25 656.50,127.57 C658.32,127.88 659.65,128.49 660.90,129.33 C662.15,130.17 663.02,131.40 664.00,132.61 C664.98,133.81 665.85,135.49 666.80,136.58 C667.75,137.68 668.73,139.28 669.70,139.16 C670.67,139.03 671.80,137.11 672.60,135.84 C673.40,134.56 673.87,132.91 674.50,131.52 C675.13,130.13 676.08,128.17 676.40,127.50" fill="none" stroke="#008000" stroke-width="0.7" stroke-opacity="0.9" stroke-linejoin="round" stroke-linecap="round"/><path d="M591.40,124.91 C591.80,125.01 593.03,124.98 593.80,125.49 C594.57,126.00 595.28,127.24 596.00,127.97 C596.72,128.69 597.43,129.48 598.10,129.84 C598.77,130.19 599.35,130.29 600.00,130.10 C600.65,129.91 601.10,129.40 602.00,128.69 C602.90,127.99 604.23,126.30 605.40,125.88 C606.57,125.46 607.53,126.00 609.00,126.16 C610.47,126.33 612.53,126.65 614.20,126.84 C615.87,127.04 617.30,127.23 619.00,127.33 C620.70,127.42 622.90,127.59 624.40,127.40 C625.90,127.22 627.02,126.53 628.00,126.19 C628.98,125.85 629.55,125.42 630.30,125.38 C631.05,125.35 631.78,125.56 632.50,125.97 C633.22,126.39 633.85,126.92 634.60,127.87 C635.35,128.81 636.27,130.74 637.00,131.66 C637.73,132.57 638.33,133.30 639.00,133.35 C639.67,133.40 640.27,132.71 641.00,131.94 C641.73,131.17 642.57,129.45 643.40,128.73 C644.23,128.01 644.90,127.86 646.00,127.62 C647.10,127.38 648.25,127.33 650.00,127.31 C651.75,127.28 654.68,127.15 656.50,127.48 C658.32,127.81 659.65,128.42 660.90,129.26 C662.15,130.11 663.02,131.34 664.00,132.55 C664.98,133.76 665.85,135.44 666.80,136.54 C667.75,137.64 668.73,139.25 669.70,139.13 C670.67,139.01 671.80,137.09 672.60,135.82 C673.40,134.55 673.87,132.90 674.50,131.51 C675.13,130.12 676.08,128.17 676.40,127.50" fill="none" stroke="#0000FF" stroke-width="0.7" stroke-opacity="0.9" stroke-linejoin="round" stroke-linecap="round"/><path d="M591.40,124.90 C591.80,124.98 593.03,124.92 593.80,125.40 C594.57,125.88 595.28,127.10 596.00,127.80 C596.72,128.50 597.43,129.27 598.10,129.60 C598.77,129.93 599.35,130.00 600.00,129.80 C600.65,129.60 601.10,129.10 602.00,128.40 C602.90,127.70 604.23,126.02 605.40,125.60 C606.57,125.18 607.53,125.73 609.00,125.90 C610.47,126.07 612.53,126.40 614.20,126.60 C615.87,126.80 617.30,127.00 619.00,127.10 C620.70,127.20 622.90,127.38 624.40,127.20 C625.90,127.02 627.02,126.33 628.00,126.00 C628.98,125.67 629.55,125.23 630.30,125.20 C631.05,125.17 631.78,125.38 632.50,125.80 C633.22,126.22 633.85,126.75 634.60,127.70 C635.35,128.65 636.27,130.58 637.00,131.50 C637.73,132.42 638.33,133.15 639.00,133.20 C639.67,133.25 640.27,132.57 641.00,131.80 C641.73,131.03 642.57,129.32 643.40,128.60 C644.23,127.88 644.90,127.73 646.00,127.50 C647.10,127.27 648.25,127.22 650.00,127.20 C651.75,127.18 654.68,127.07 656.50,127.40 C658.32,127.73 659.65,128.35 660.90,129.20 C662.15,130.05 663.02,131.28 664.00,132.50 C664.98,133.72 665.85,135.40 666.80,136.50 C667.75,137.60 668.73,139.22 669.70,139.10 C670.67,138.98 671.80,137.07 672.60,135.80 C673.40,134.53 673.87,132.88 674.50,131.50 C675.13,130.12 676.08,128.17 676.40,127.50" fill="none" stroke="#800080" stroke-width="0.7" stroke-opacity="0.9" stroke-linejoin="round" stroke-linecap="round"/>
<line x1="589.8" y1="160.4" x2="589.8" y2="211.4" class="axis"/>
<line x1="591.4" y1="186.0" x2="678.6" y2="186.0" class="zero"/>
<line x1="588.0" y1="171.50" x2="592.0" y2="171.50" class="tick"/>
<text x="586.0" y="175.10" class="tl" text-anchor="end">1</text>
<line x1="588.0" y1="186.00" x2="592.0" y2="186.00" class="tick"/>
<text x="586.0" y="189.60" class="tl" text-anchor="end">0</text>
<line x1="588.0" y1="200.50" x2="592.0" y2="200.50" class="tick"/>
<text x="586.0" y="204.10" class="tl" text-anchor="end">-1</text>
<line x1="588.0" y1="215.00" x2="592.0" y2="215.00" class="tick"/>
<text x="586.0" y="218.60" class="tl" text-anchor="end">-2</text>
<path d="M600.00,188.50 C602.50,188.67 611.50,188.83 615.00,189.50 C618.50,190.17 619.00,191.42 621.00,192.50 C623.00,193.58 625.33,195.42 627.00,196.00 C628.67,196.58 629.83,197.17 631.00,196.00 C632.17,194.83 633.08,192.00 634.00,189.00 C634.92,186.00 635.75,181.17 636.50,178.00 C637.25,174.83 637.83,171.42 638.50,170.00 C639.17,168.58 639.83,168.83 640.50,169.50 C641.17,170.17 641.75,171.92 642.50,174.00 C643.25,176.08 644.25,180.00 645.00,182.00 C645.75,184.00 646.17,185.33 647.00,186.00 C647.83,186.67 649.50,186.00 650.00,186.00 L650.00,187.00 C649.33,187.42 647.08,189.17 646.00,189.50 C644.92,189.83 644.33,190.08 643.50,189.00 C642.67,187.92 641.83,183.33 641.00,183.00 C640.17,182.67 639.33,184.83 638.50,187.00 C637.67,189.17 636.83,193.33 636.00,196.00 C635.17,198.67 634.42,201.58 633.50,203.00 C632.58,204.42 631.58,204.58 630.50,204.50 C629.42,204.42 628.58,203.75 627.00,202.50 C625.42,201.25 623.00,198.83 621.00,197.00 C619.00,195.17 618.50,192.75 615.00,191.50 C611.50,190.25 602.50,189.83 600.00,189.50 Z" fill="#B9A3D6" fill-opacity="0.57" stroke="none"/><path d="M618.00,189.50 C619.17,189.50 623.33,190.00 625.00,189.50 C626.67,189.00 627.00,188.08 628.00,186.50 C629.00,184.92 630.08,182.42 631.00,180.00 C631.92,177.58 632.67,173.92 633.50,172.00 C634.33,170.08 635.17,168.67 636.00,168.50 C636.83,168.33 637.67,169.42 638.50,171.00 C639.33,172.58 640.08,175.50 641.00,178.00 C641.92,180.50 643.50,184.67 644.00,186.00 L645.00,188.00 C644.50,187.33 643.00,185.67 642.00,184.00 C641.00,182.33 639.92,179.42 639.00,178.00 C638.08,176.58 637.33,175.33 636.50,175.50 C635.67,175.67 634.92,177.08 634.00,179.00 C633.08,180.92 632.00,184.83 631.00,187.00 C630.00,189.17 629.00,191.08 628.00,192.00 C627.00,192.92 626.67,192.75 625.00,192.50 C623.33,192.25 619.17,190.83 618.00,190.50 Z" fill="#FFCF8A" fill-opacity="0.43" stroke="none"/><path d="M591.40,186.10 C592.03,186.33 593.83,187.03 595.20,187.50 C596.57,187.97 598.15,188.58 599.60,188.90 C601.05,189.22 602.22,189.45 603.90,189.40 C605.58,189.35 607.77,188.58 609.70,188.60 C611.63,188.62 613.58,189.08 615.50,189.50 C617.42,189.92 619.70,190.72 621.20,191.10 C622.70,191.48 623.53,191.78 624.50,191.80 C625.47,191.82 626.25,191.67 627.00,191.20 C627.75,190.73 628.25,190.12 629.00,189.00 C629.75,187.88 630.73,186.50 631.50,184.50 C632.27,182.50 632.93,178.82 633.60,177.00 C634.27,175.18 634.97,174.22 635.50,173.60 C636.03,172.98 636.30,172.98 636.80,173.30 C637.30,173.62 637.80,174.30 638.50,175.50 C639.20,176.70 640.25,178.83 641.00,180.50 C641.75,182.17 642.33,184.33 643.00,185.50 C643.67,186.67 643.55,187.37 645.00,187.50 C646.45,187.63 648.18,186.43 651.70,186.30 C655.22,186.17 661.88,186.63 666.10,186.70 C670.32,186.77 675.18,186.70 677.00,186.70" fill="none" stroke="#FFA500" stroke-width="0.7" stroke-opacity="0.9" stroke-linejoin="round" stroke-linecap="round"/><path d="M591.40,186.10 C592.03,186.33 593.83,187.03 595.20,187.50 C596.57,187.97 598.15,188.55 599.60,188.90 C601.05,189.25 602.22,189.60 603.90,189.60 C605.58,189.60 607.77,188.78 609.70,188.90 C611.63,189.02 613.58,189.41 615.50,190.30 C617.42,191.19 619.71,193.20 621.20,194.26 C622.69,195.33 623.46,195.98 624.42,196.69 C625.38,197.39 626.24,198.08 626.94,198.47 C627.64,198.87 628.13,199.02 628.62,199.07 C629.11,199.13 629.46,198.95 629.88,198.80 C630.30,198.65 630.72,198.75 631.14,198.20 C631.56,197.65 631.84,197.18 632.40,195.50 C632.96,193.82 633.84,190.85 634.51,188.14 C635.18,185.44 635.84,181.57 636.42,179.27 C637.00,176.98 637.51,175.05 638.00,174.38 C638.50,173.71 638.83,174.48 639.38,175.27 C639.92,176.06 640.56,177.60 641.29,179.12 C642.02,180.64 642.90,183.06 643.77,184.42 C644.64,185.78 645.71,186.84 646.50,187.30 C647.29,187.76 647.63,187.37 648.50,187.20 C649.37,187.03 648.77,186.38 651.70,186.30 C654.63,186.22 661.88,186.63 666.10,186.70 C670.32,186.77 675.18,186.70 677.00,186.70" fill="none" stroke="#FF0000" stroke-width="0.7" stroke-opacity="0.9" stroke-linejoin="round" stroke-linecap="round"/><path d="M591.40,186.10 C592.03,186.33 593.83,187.03 595.20,187.50 C596.57,187.97 598.15,188.55 599.60,188.90 C601.05,189.25 602.22,189.60 603.90,189.60 C605.58,189.60 607.77,188.78 609.70,188.90 C611.63,189.02 613.58,189.40 615.50,190.30 C617.42,191.20 619.71,193.22 621.20,194.31 C622.69,195.41 623.46,196.13 624.45,196.88 C625.44,197.63 626.40,198.37 627.15,198.81 C627.90,199.26 628.43,199.46 628.95,199.56 C629.48,199.66 629.85,199.57 630.30,199.40 C630.75,199.23 631.20,199.17 631.65,198.53 C632.10,197.90 632.43,197.28 633.00,195.57 C633.57,193.86 634.41,190.94 635.06,188.25 C635.71,185.56 636.34,181.70 636.91,179.41 C637.47,177.13 637.97,175.20 638.45,174.55 C638.93,173.89 639.27,174.68 639.79,175.46 C640.31,176.25 640.90,177.77 641.59,179.27 C642.28,180.78 643.09,183.15 643.91,184.49 C644.73,185.83 645.74,186.85 646.50,187.30 C647.26,187.75 647.63,187.37 648.50,187.20 C649.37,187.03 648.77,186.38 651.70,186.30 C654.63,186.22 661.88,186.63 666.10,186.70 C670.32,186.77 675.18,186.70 677.00,186.70" fill="none" stroke="#008000" stroke-width="0.7" stroke-opacity="0.9" stroke-linejoin="round" stroke-linecap="round"/><path d="M591.40,186.10 C592.03,186.33 593.83,187.03 595.20,187.50 C596.57,187.97 598.15,188.55 599.60,188.90 C601.05,189.25 602.22,189.60 603.90,189.60 C605.58,189.60 607.77,188.78 609.70,188.90 C611.63,189.02 613.58,189.39 615.50,190.30 C617.42,191.21 619.70,193.23 621.20,194.35 C622.70,195.46 623.45,196.21 624.48,197.00 C625.50,197.78 626.53,198.55 627.33,199.06 C628.12,199.57 628.67,199.89 629.23,200.07 C629.78,200.24 630.17,200.25 630.65,200.10 C631.12,199.95 631.60,199.83 632.08,199.17 C632.55,198.52 632.92,197.89 633.50,196.15 C634.08,194.41 634.89,191.47 635.53,188.75 C636.17,186.03 636.80,182.15 637.35,179.84 C637.91,177.53 638.40,175.59 638.88,174.91 C639.35,174.24 639.69,175.02 640.19,175.78 C640.70,176.54 641.25,178.03 641.90,179.50 C642.54,180.97 643.29,183.30 644.06,184.60 C644.82,185.90 645.76,186.87 646.50,187.30 C647.24,187.73 647.63,187.37 648.50,187.20 C649.37,187.03 648.77,186.38 651.70,186.30 C654.63,186.22 661.88,186.63 666.10,186.70 C670.32,186.77 675.18,186.70 677.00,186.70" fill="none" stroke="#0000FF" stroke-width="0.7" stroke-opacity="0.9" stroke-linejoin="round" stroke-linecap="round"/><path d="M591.40,186.10 C592.03,186.33 593.83,187.03 595.20,187.50 C596.57,187.97 598.15,188.55 599.60,188.90 C601.05,189.25 602.22,189.60 603.90,189.60 C605.58,189.60 607.77,188.78 609.70,188.90 C611.63,189.02 613.58,189.38 615.50,190.30 C617.42,191.22 619.70,193.25 621.20,194.40 C622.70,195.55 623.45,196.37 624.50,197.20 C625.55,198.03 626.67,198.85 627.50,199.40 C628.33,199.95 628.92,200.30 629.50,200.50 C630.08,200.70 630.50,200.75 631.00,200.60 C631.50,200.45 632.00,200.28 632.50,199.60 C633.00,198.92 633.42,198.27 634.00,196.50 C634.58,194.73 635.37,191.75 636.00,189.00 C636.63,186.25 637.25,182.33 637.80,180.00 C638.35,177.67 638.83,175.70 639.30,175.00 C639.77,174.30 640.12,175.05 640.60,175.80 C641.08,176.55 641.60,178.03 642.20,179.50 C642.80,180.97 643.48,183.30 644.20,184.60 C644.92,185.90 645.78,186.87 646.50,187.30 C647.22,187.73 647.63,187.37 648.50,187.20 C649.37,187.03 648.77,186.38 651.70,186.30 C654.63,186.22 661.88,186.63 666.10,186.70 C670.32,186.77 675.18,186.70 677.00,186.70" fill="none" stroke="#800080" stroke-width="0.7" stroke-opacity="0.9" stroke-linejoin="round" stroke-linecap="round"/>
<line x1="589.8" y1="223.4" x2="589.8" y2="272.4" class="axis"/>
<line x1="591.4" y1="247.4" x2="678.6" y2="247.4" class="zero"/>
<line x1="588.0" y1="232.80" x2="592.0" y2="232.80" class="tick"/>
<text x="586.0" y="236.40" class="tl" text-anchor="end">0.03</text>
<line x1="588.0" y1="247.40" x2="592.0" y2="247.40" class="tick"/>
<text x="586.0" y="251.00" class="tl" text-anchor="end">0</text>
<line x1="588.0" y1="262.00" x2="592.0" y2="262.00" class="tick"/>
<text x="586.0" y="265.60" class="tl" text-anchor="end">-0.03</text>
<line x1="588.0" y1="276.60" x2="592.0" y2="276.60" class="tick"/>
<path d="M628.00,246.50 C628.70,245.75 630.82,243.38 632.20,242.00 C633.58,240.62 635.27,238.53 636.30,238.20 C637.33,237.87 637.82,238.87 638.40,240.00 C638.98,241.13 639.22,243.00 639.80,245.00 C640.38,247.00 641.22,251.00 641.90,252.00 C642.58,253.00 643.22,251.67 643.90,251.00 C644.58,250.33 645.65,248.50 646.00,248.00 L646.00,250.00 C645.65,251.33 644.58,255.93 643.90,258.00 C643.22,260.07 642.58,263.23 641.90,262.40 C641.22,261.57 640.38,255.57 639.80,253.00 C639.22,250.43 638.98,248.50 638.40,247.00 C637.82,245.50 637.33,244.25 636.30,244.00 C635.27,243.75 633.58,244.92 632.20,245.50 C630.82,246.08 628.70,247.17 628.00,247.50 Z" fill="#8FD08F" fill-opacity="0.34" stroke="none"/><path d="M591.40,247.20 C597.03,247.20 619.10,247.38 625.20,247.20 C631.30,247.02 626.83,246.80 628.00,246.10 C629.17,245.40 631.12,243.85 632.20,243.00 C633.28,242.15 633.82,241.42 634.50,241.00 C635.18,240.58 635.65,240.28 636.30,240.50 C636.95,240.72 637.82,241.07 638.40,242.30 C638.98,243.53 639.22,245.52 639.80,247.90 C640.38,250.28 641.22,255.57 641.90,256.60 C642.58,257.63 643.22,255.32 643.90,254.10 C644.58,252.88 645.42,250.42 646.00,249.30 C646.58,248.18 646.73,247.75 647.40,247.40 C648.07,247.05 645.10,247.23 650.00,247.20 C654.90,247.17 672.33,247.20 676.80,247.20" fill="none" stroke="#008000" stroke-width="0.7" stroke-opacity="0.9" stroke-linejoin="round" stroke-linecap="round"/><path d="M625.20,247.20 C626.00,247.15 628.15,247.08 630.00,246.90 C631.85,246.72 634.97,246.17 636.30,246.10 C637.63,246.03 637.38,246.13 638.00,246.50 C638.62,246.87 639.35,247.77 640.00,248.30 C640.65,248.83 641.23,249.58 641.90,249.70 C642.57,249.82 643.23,249.38 644.00,249.00 C644.77,248.62 645.50,247.70 646.50,247.40 C647.50,247.10 649.42,247.23 650.00,247.20" fill="none" stroke="#0000FF" stroke-width="0.7" stroke-opacity="0.9" stroke-linejoin="round" stroke-linecap="round"/><path d="M591.40,247.20 C597.03,247.20 618.77,247.27 625.20,247.20 C631.63,247.13 628.15,247.08 630.00,246.80 C631.85,246.52 634.97,245.63 636.30,245.50 C637.63,245.37 637.38,245.50 638.00,246.00 C638.62,246.50 639.35,247.72 640.00,248.50 C640.65,249.28 641.23,250.53 641.90,250.70 C642.57,250.87 643.23,250.03 644.00,249.50 C644.77,248.97 645.50,247.88 646.50,247.50 C647.50,247.12 644.95,247.25 650.00,247.20 C655.05,247.15 672.33,247.20 676.80,247.20" fill="none" stroke="#FF0000" stroke-width="0.7" stroke-opacity="0.9" stroke-linejoin="round" stroke-linecap="round"/>
<path d="M591.4,291.47999999999996 V294.08 H678.6 V291.47999999999996 M633.87,294.08 V291.47999999999996" class="xaxis"/>
<text x="590.80" y="291.98" class="tl" text-anchor="middle">0</text>
<text x="633.87" y="291.98" class="tl" text-anchor="middle">50</text>
<text x="677.60" y="291.98" class="tl" text-anchor="middle">100</text>
<text x="634.30" y="307.88" class="xl" text-anchor="middle">%Gait Progress</text>
<text transform="translate(363.30,62.00) rotate(-90)" x="0" y="0" class="row" text-anchor="middle">Hip</text>
<text transform="translate(363.30,116.70) rotate(-90)" x="0" y="0" class="row" text-anchor="middle">Knee</text>
<text transform="translate(361.10,182.20) rotate(-90)" x="0" y="0" class="row" text-anchor="middle">Ankle</text>
<text transform="translate(361.10,244.00) rotate(-90)" x="0" y="0" class="row" text-anchor="middle">Toe</text>
<text x="514.7" y="341.2" class="cap" text-anchor="middle">(b) Group 2</text>
</svg></body></html>
